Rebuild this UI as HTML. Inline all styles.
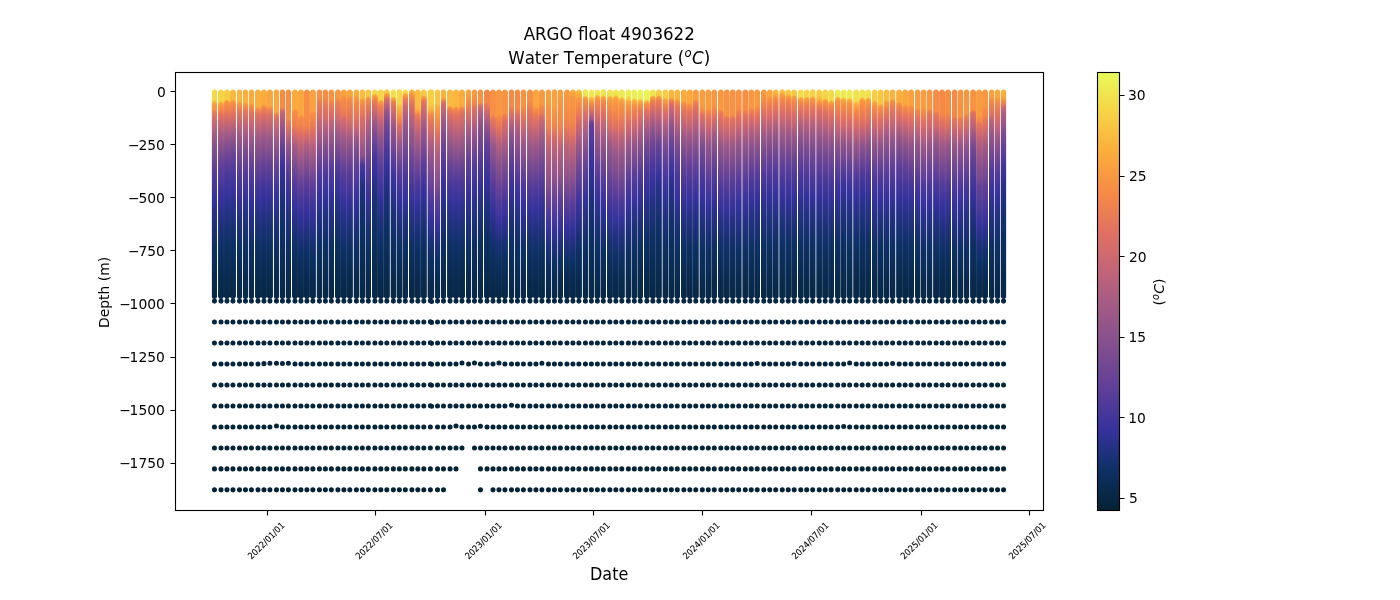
<!DOCTYPE html>
<html lang="en"><head><meta charset="utf-8"><title>ARGO float 4903622 - Water Temperature</title>
<style>html,body{margin:0;padding:0;background:#fff}body{width:1400px;height:600px;overflow:hidden}svg{display:block}text{font-family:'DejaVu Sans','Liberation Sans',sans-serif;fill:#000}</style></head><body>
<svg width="1400" height="600" viewBox="0 0 1400 600">
<rect width="1400" height="600" fill="#fff"/>
<defs>
<linearGradient id="g0" gradientUnits="userSpaceOnUse" x1="0" y1="89.38" x2="0" y2="299.1"><stop offset=".0006" stop-color="#f4d849"/><stop offset=".0483" stop-color="#f5d748"/><stop offset=".0622" stop-color="#fbad3c"/><stop offset=".0673" stop-color="#f99f40"/><stop offset=".0936" stop-color="#f79243"/><stop offset=".0977" stop-color="#f68b45"/><stop offset=".1126" stop-color="#e77958"/><stop offset=".1245" stop-color="#e17161"/><stop offset=".1365" stop-color="#d76d68"/><stop offset=".1723" stop-color="#c16479"/><stop offset=".2175" stop-color="#a15a86"/><stop offset=".3606" stop-color="#634197"/><stop offset=".4083" stop-color="#523b9a"/><stop offset=".5195" stop-color="#35329b"/><stop offset=".6228" stop-color="#21317f"/><stop offset=".7494" stop-color="#0d3064"/><stop offset=".9089" stop-color="#082a4e"/><stop offset="1" stop-color="#072845"/></linearGradient>
<linearGradient id="g1" gradientUnits="userSpaceOnUse" x1="0" y1="89.38" x2="0" y2="299.1"><stop offset=".0006" stop-color="#f5d547"/><stop offset=".056" stop-color="#f6d346"/><stop offset=".062" stop-color="#fbad3c"/><stop offset=".0628" stop-color="#faa93d"/><stop offset=".0742" stop-color="#f89841"/><stop offset=".0936" stop-color="#f48947"/><stop offset=".1222" stop-color="#e07161"/><stop offset=".1742" stop-color="#c16479"/><stop offset=".2254" stop-color="#9e5987"/><stop offset=".3129" stop-color="#754992"/><stop offset=".3606" stop-color="#614098"/><stop offset=".4559" stop-color="#45379a"/><stop offset=".5195" stop-color="#35329b"/><stop offset=".6228" stop-color="#21317f"/><stop offset=".7494" stop-color="#0d3064"/><stop offset=".9089" stop-color="#082a4e"/><stop offset="1" stop-color="#072845"/></linearGradient>
<linearGradient id="g2" gradientUnits="userSpaceOnUse" x1="0" y1="89.38" x2="0" y2="299.1"><stop offset=".0006" stop-color="#f7cd45"/><stop offset=".0475" stop-color="#f7cc44"/><stop offset=".0521" stop-color="#fbad3c"/><stop offset=".0544" stop-color="#f99f40"/><stop offset=".0659" stop-color="#f68d44"/><stop offset=".0888" stop-color="#f0834d"/><stop offset=".121" stop-color="#e17161"/><stop offset=".1698" stop-color="#c06479"/><stop offset=".2175" stop-color="#9d5987"/><stop offset=".3129" stop-color="#6c4594"/><stop offset=".3606" stop-color="#5a3d99"/><stop offset=".4083" stop-color="#4a389a"/><stop offset=".4978" stop-color="#35329b"/><stop offset=".5275" stop-color="#2e3292"/><stop offset=".6228" stop-color="#1e317b"/><stop offset=".7358" stop-color="#0d3064"/><stop offset=".9089" stop-color="#082a4d"/><stop offset="1" stop-color="#072845"/></linearGradient>
<linearGradient id="g3" gradientUnits="userSpaceOnUse" x1="0" y1="89.38" x2="0" y2="299.1"><stop offset=".0006" stop-color="#f9bb40"/><stop offset=".0461" stop-color="#f9b93f"/><stop offset=".05" stop-color="#fbad3c"/><stop offset=".0572" stop-color="#f89841"/><stop offset=".0686" stop-color="#f68b45"/><stop offset=".1173" stop-color="#e17161"/><stop offset=".1698" stop-color="#bc637b"/><stop offset=".2175" stop-color="#995788"/><stop offset=".2652" stop-color="#7c4c90"/><stop offset=".3129" stop-color="#684396"/><stop offset=".4083" stop-color="#48389a"/><stop offset=".4917" stop-color="#35329b"/><stop offset=".5275" stop-color="#2d3290"/><stop offset=".732" stop-color="#0d3064"/><stop offset=".9089" stop-color="#082a4d"/><stop offset="1" stop-color="#072845"/></linearGradient>
<linearGradient id="g4" gradientUnits="userSpaceOnUse" x1="0" y1="89.38" x2="0" y2="299.1"><stop offset=".0006" stop-color="#fab53e"/><stop offset=".0559" stop-color="#fab53e"/><stop offset=".0585" stop-color="#fbad3c"/><stop offset=".0666" stop-color="#f89742"/><stop offset=".078" stop-color="#f68b45"/><stop offset=".0983" stop-color="#e97b56"/><stop offset=".1222" stop-color="#de7063"/><stop offset=".1724" stop-color="#c16479"/><stop offset=".227" stop-color="#9e5987"/><stop offset=".3129" stop-color="#774a91"/><stop offset=".3835" stop-color="#5d3e99"/><stop offset=".4559" stop-color="#45379a"/><stop offset=".5195" stop-color="#35329b"/><stop offset=".6228" stop-color="#21317f"/><stop offset=".7494" stop-color="#0d3064"/><stop offset=".9089" stop-color="#082a4e"/><stop offset="1" stop-color="#072845"/></linearGradient>
<linearGradient id="g5" gradientUnits="userSpaceOnUse" x1="0" y1="89.38" x2="0" y2="299.1"><stop offset=".0006" stop-color="#fbb03d"/><stop offset=".061" stop-color="#fbaf3c"/><stop offset=".0711" stop-color="#f89542"/><stop offset=".0826" stop-color="#f68b45"/><stop offset=".0983" stop-color="#e97b56"/><stop offset=".1157" stop-color="#e17161"/><stop offset=".1722" stop-color="#c16479"/><stop offset=".2226" stop-color="#9e5987"/><stop offset=".3129" stop-color="#734892"/><stop offset=".3763" stop-color="#5d3e99"/><stop offset=".4559" stop-color="#44369a"/><stop offset=".5145" stop-color="#35329b"/><stop offset=".6228" stop-color="#20317e"/><stop offset=".7462" stop-color="#0d3064"/><stop offset=".8135" stop-color="#0b2d59"/><stop offset="1" stop-color="#072845"/></linearGradient>
<linearGradient id="g6" gradientUnits="userSpaceOnUse" x1="0" y1="89.38" x2="0" y2="299.1"><stop offset=".0006" stop-color="#fbac3c"/><stop offset=".0637" stop-color="#fbaa3d"/><stop offset=".0733" stop-color="#f79443"/><stop offset=".0848" stop-color="#f68b45"/><stop offset=".0983" stop-color="#ea7c55"/><stop offset=".1222" stop-color="#de7063"/><stop offset=".1763" stop-color="#c16479"/><stop offset=".2175" stop-color="#a45b85"/><stop offset=".3129" stop-color="#774a91"/><stop offset=".3835" stop-color="#5d3e99"/><stop offset=".4559" stop-color="#45379a"/><stop offset=".5195" stop-color="#35329b"/><stop offset=".6228" stop-color="#21317f"/><stop offset=".7494" stop-color="#0d3064"/><stop offset=".9089" stop-color="#082a4e"/><stop offset="1" stop-color="#072845"/></linearGradient>
<linearGradient id="g7" gradientUnits="userSpaceOnUse" x1="0" y1="89.38" x2="0" y2="299.1"><stop offset=".0006" stop-color="#fbaf3c"/><stop offset=".0805" stop-color="#fbad3c"/><stop offset=".0922" stop-color="#f68b45"/><stop offset=".1222" stop-color="#e07161"/><stop offset=".1769" stop-color="#c16479"/><stop offset=".2345" stop-color="#9e5987"/><stop offset=".2652" stop-color="#8f538b"/><stop offset=".3606" stop-color="#684396"/><stop offset=".4559" stop-color="#47379a"/><stop offset=".5275" stop-color="#34329a"/><stop offset=".6228" stop-color="#223180"/><stop offset=".7524" stop-color="#0d3064"/><stop offset=".9089" stop-color="#082a4e"/><stop offset="1" stop-color="#072845"/></linearGradient>
<linearGradient id="g8" gradientUnits="userSpaceOnUse" x1="0" y1="89.38" x2="0" y2="299.1"><stop offset=".0006" stop-color="#fbaa3d"/><stop offset=".07" stop-color="#faa93d"/><stop offset=".081" stop-color="#f58a46"/><stop offset=".0924" stop-color="#ed8051"/><stop offset=".114" stop-color="#e17161"/><stop offset=".1222" stop-color="#da6e66"/><stop offset=".1698" stop-color="#bd637b"/><stop offset=".2203" stop-color="#9e5987"/><stop offset=".3816" stop-color="#5d3e99"/><stop offset=".4559" stop-color="#42369a"/><stop offset=".5092" stop-color="#35329b"/><stop offset=".6228" stop-color="#1f317d"/><stop offset=".7428" stop-color="#0d3064"/><stop offset=".9089" stop-color="#082a4d"/><stop offset="1" stop-color="#072845"/></linearGradient>
<linearGradient id="g9" gradientUnits="userSpaceOnUse" x1="0" y1="89.38" x2="0" y2="299.1"><stop offset=".0006" stop-color="#faa53e"/><stop offset=".0785" stop-color="#faa43f"/><stop offset=".0876" stop-color="#f68b45"/><stop offset=".0892" stop-color="#f38849"/><stop offset=".1175" stop-color="#e17161"/><stop offset=".1222" stop-color="#dc6f64"/><stop offset=".1722" stop-color="#c16479"/><stop offset=".223" stop-color="#9e5987"/><stop offset=".3606" stop-color="#644197"/><stop offset=".4559" stop-color="#42369a"/><stop offset=".5092" stop-color="#35329b"/><stop offset=".6228" stop-color="#1f317d"/><stop offset=".7428" stop-color="#0d3064"/><stop offset=".9089" stop-color="#082a4d"/><stop offset="1" stop-color="#072845"/></linearGradient>
<linearGradient id="g10" gradientUnits="userSpaceOnUse" x1="0" y1="89.38" x2="0" y2="299.1"><stop offset=".0006" stop-color="#faa63e"/><stop offset=".1063" stop-color="#faa53e"/><stop offset=".1146" stop-color="#f68b45"/><stop offset=".1183" stop-color="#ef824f"/><stop offset=".1359" stop-color="#e17161"/><stop offset=".146" stop-color="#d76d68"/><stop offset=".1862" stop-color="#c16479"/><stop offset=".2442" stop-color="#9e5987"/><stop offset=".2652" stop-color="#93558a"/><stop offset=".3606" stop-color="#694495"/><stop offset=".4559" stop-color="#45379a"/><stop offset=".5195" stop-color="#35329b"/><stop offset=".6228" stop-color="#21317f"/><stop offset=".7494" stop-color="#0d3064"/><stop offset=".9089" stop-color="#082a4e"/><stop offset="1" stop-color="#072845"/></linearGradient>
<linearGradient id="g11" gradientUnits="userSpaceOnUse" x1="0" y1="89.38" x2="0" y2="299.1"><stop offset=".0006" stop-color="#f68d44"/><stop offset=".0853" stop-color="#f68b45"/><stop offset=".0951" stop-color="#e17161"/><stop offset=".0985" stop-color="#d66d69"/><stop offset=".11" stop-color="#c46577"/><stop offset=".1222" stop-color="#b9617c"/><stop offset=".2652" stop-color="#654296"/><stop offset=".3606" stop-color="#3a339b"/><stop offset=".381" stop-color="#35329b"/><stop offset=".4083" stop-color="#2f3292"/><stop offset=".5275" stop-color="#1c3178"/><stop offset=".6665" stop-color="#0d3064"/><stop offset="1" stop-color="#072845"/></linearGradient>
<linearGradient id="g12" gradientUnits="userSpaceOnUse" x1="0" y1="89.38" x2="0" y2="299.1"><stop offset=".0006" stop-color="#f78f44"/><stop offset=".1401" stop-color="#f68b45"/><stop offset=".148" stop-color="#ed8051"/><stop offset=".1595" stop-color="#e97b56"/><stop offset=".1748" stop-color="#e17161"/><stop offset=".2181" stop-color="#c16479"/><stop offset=".2652" stop-color="#985789"/><stop offset=".3606" stop-color="#684396"/><stop offset=".4083" stop-color="#523b9a"/><stop offset=".4559" stop-color="#42369a"/><stop offset=".5092" stop-color="#35329b"/><stop offset=".6228" stop-color="#1f317d"/><stop offset=".7428" stop-color="#0d3064"/><stop offset=".9089" stop-color="#082a4d"/><stop offset="1" stop-color="#072845"/></linearGradient>
<linearGradient id="g13" gradientUnits="userSpaceOnUse" x1="0" y1="89.38" x2="0" y2="299.1"><stop offset=".0006" stop-color="#fbaa3d"/><stop offset=".0912" stop-color="#faa93d"/><stop offset=".1007" stop-color="#f79443"/><stop offset=".1121" stop-color="#f68b45"/><stop offset=".1698" stop-color="#ed8051"/><stop offset=".1955" stop-color="#e17161"/><stop offset=".2383" stop-color="#c16479"/><stop offset=".2652" stop-color="#ab5d82"/><stop offset=".4083" stop-color="#654296"/><stop offset=".4559" stop-color="#523b9a"/><stop offset=".5616" stop-color="#35329b"/><stop offset=".6228" stop-color="#273188"/><stop offset=".7182" stop-color="#15306f"/><stop offset=".771" stop-color="#0d3064"/><stop offset=".9089" stop-color="#092a4e"/><stop offset="1" stop-color="#072845"/></linearGradient>
<linearGradient id="g14" gradientUnits="userSpaceOnUse" x1="0" y1="89.38" x2="0" y2="299.1"><stop offset=".0006" stop-color="#faa83d"/><stop offset=".1196" stop-color="#faa63e"/><stop offset=".1294" stop-color="#f78f44"/><stop offset=".1408" stop-color="#f2874a"/><stop offset=".1698" stop-color="#ef834e"/><stop offset=".2052" stop-color="#e17161"/><stop offset=".2652" stop-color="#bd637b"/><stop offset=".3247" stop-color="#9e5987"/><stop offset=".3606" stop-color="#8f538b"/><stop offset=".4559" stop-color="#614098"/><stop offset=".5275" stop-color="#49389a"/><stop offset=".6016" stop-color="#35329b"/><stop offset=".7182" stop-color="#1a3176"/><stop offset=".791" stop-color="#0d3064"/><stop offset=".9089" stop-color="#092b4f"/><stop offset="1" stop-color="#072845"/></linearGradient>
<linearGradient id="g15" gradientUnits="userSpaceOnUse" x1="0" y1="89.38" x2="0" y2="299.1"><stop offset=".0006" stop-color="#f78f44"/><stop offset=".1079" stop-color="#f68b45"/><stop offset=".1698" stop-color="#f2864b"/><stop offset=".2049" stop-color="#e17161"/><stop offset=".2471" stop-color="#c16479"/><stop offset=".2652" stop-color="#b25f7f"/><stop offset=".3129" stop-color="#985789"/><stop offset=".4083" stop-color="#6c4594"/><stop offset=".4559" stop-color="#5a3d99"/><stop offset=".5275" stop-color="#43369a"/><stop offset=".5834" stop-color="#35329b"/><stop offset=".7182" stop-color="#173172"/><stop offset=".7818" stop-color="#0d3064"/><stop offset=".9089" stop-color="#092a4f"/><stop offset="1" stop-color="#072845"/></linearGradient>
<linearGradient id="g16" gradientUnits="userSpaceOnUse" x1="0" y1="89.38" x2="0" y2="299.1"><stop offset=".0006" stop-color="#f9a13f"/><stop offset=".1014" stop-color="#f99f40"/><stop offset=".1098" stop-color="#f79143"/><stop offset=".1213" stop-color="#f68b45"/><stop offset=".1412" stop-color="#f48947"/><stop offset=".1508" stop-color="#ed8051"/><stop offset=".1698" stop-color="#eb7d54"/><stop offset=".1946" stop-color="#e17161"/><stop offset=".2513" stop-color="#c16479"/><stop offset=".3159" stop-color="#9e5987"/><stop offset=".3606" stop-color="#8d528b"/><stop offset=".4083" stop-color="#734892"/><stop offset=".462" stop-color="#5d3e99"/><stop offset=".5275" stop-color="#46379a"/><stop offset=".5947" stop-color="#35329b"/><stop offset=".7182" stop-color="#193174"/><stop offset=".7875" stop-color="#0d3064"/><stop offset=".9089" stop-color="#092a4f"/><stop offset="1" stop-color="#072845"/></linearGradient>
<linearGradient id="g17" gradientUnits="userSpaceOnUse" x1="0" y1="89.38" x2="0" y2="299.1"><stop offset=".0006" stop-color="#f79044"/><stop offset=".0316" stop-color="#f78f44"/><stop offset=".0373" stop-color="#f68b45"/><stop offset=".0745" stop-color="#e7785a"/><stop offset=".1003" stop-color="#e17161"/><stop offset=".1222" stop-color="#da6e66"/><stop offset=".1698" stop-color="#bd637b"/><stop offset=".229" stop-color="#9e5987"/><stop offset=".3129" stop-color="#754992"/><stop offset=".3737" stop-color="#5d3e99"/><stop offset=".4083" stop-color="#4f3a9a"/><stop offset=".5092" stop-color="#35329b"/><stop offset=".6228" stop-color="#1f317d"/><stop offset=".7428" stop-color="#0d3064"/><stop offset=".9089" stop-color="#082a4d"/><stop offset="1" stop-color="#072845"/></linearGradient>
<linearGradient id="g18" gradientUnits="userSpaceOnUse" x1="0" y1="89.38" x2="0" y2="299.1"><stop offset=".0006" stop-color="#f68d44"/><stop offset=".0411" stop-color="#f68b45"/><stop offset=".0745" stop-color="#e77958"/><stop offset=".102" stop-color="#e17161"/><stop offset=".1222" stop-color="#da6e66"/><stop offset=".146" stop-color="#cd6970"/><stop offset=".1698" stop-color="#ba627c"/><stop offset=".2175" stop-color="#9e5987"/><stop offset=".3662" stop-color="#5d3e99"/><stop offset=".4083" stop-color="#4d399a"/><stop offset=".4978" stop-color="#35329b"/><stop offset=".5275" stop-color="#2e3292"/><stop offset=".6228" stop-color="#1e317b"/><stop offset=".7358" stop-color="#0d3064"/><stop offset=".9089" stop-color="#082a4d"/><stop offset="1" stop-color="#072845"/></linearGradient>
<linearGradient id="g19" gradientUnits="userSpaceOnUse" x1="0" y1="89.38" x2="0" y2="299.1"><stop offset=".0006" stop-color="#f79343"/><stop offset=".0459" stop-color="#f79044"/><stop offset=".0516" stop-color="#f68b45"/><stop offset=".0745" stop-color="#e97b56"/><stop offset=".1011" stop-color="#e17161"/><stop offset=".1603" stop-color="#c16479"/><stop offset=".2175" stop-color="#9e5987"/><stop offset=".3662" stop-color="#5d3e99"/><stop offset=".4083" stop-color="#4d399a"/><stop offset=".4978" stop-color="#35329b"/><stop offset=".5275" stop-color="#2e3292"/><stop offset=".6228" stop-color="#1e317b"/><stop offset=".7358" stop-color="#0d3064"/><stop offset=".9089" stop-color="#082a4d"/><stop offset="1" stop-color="#072845"/></linearGradient>
<linearGradient id="g20" gradientUnits="userSpaceOnUse" x1="0" y1="89.38" x2="0" y2="299.1"><stop offset=".0006" stop-color="#f89a41"/><stop offset=".0363" stop-color="#f89841"/><stop offset=".048" stop-color="#f68b45"/><stop offset=".0602" stop-color="#ed8051"/><stop offset=".1043" stop-color="#e17161"/><stop offset=".146" stop-color="#ca6872"/><stop offset=".1698" stop-color="#b7617d"/><stop offset=".2175" stop-color="#995788"/><stop offset=".3606" stop-color="#573c99"/><stop offset=".4083" stop-color="#47379a"/><stop offset=".4785" stop-color="#35329b"/><stop offset=".5275" stop-color="#2a318d"/><stop offset=".6228" stop-color="#1b3177"/><stop offset=".724" stop-color="#0d3064"/><stop offset=".9089" stop-color="#082a4d"/><stop offset="1" stop-color="#072845"/></linearGradient>
<linearGradient id="g21" gradientUnits="userSpaceOnUse" x1="0" y1="89.38" x2="0" y2="299.1"><stop offset=".0006" stop-color="#f9a13f"/><stop offset=".0287" stop-color="#f99f40"/><stop offset=".0371" stop-color="#f79143"/><stop offset=".0485" stop-color="#f68b45"/><stop offset=".0983" stop-color="#ed8051"/><stop offset=".1265" stop-color="#e5765c"/><stop offset=".1301" stop-color="#e17161"/><stop offset=".1348" stop-color="#d96e67"/><stop offset=".1787" stop-color="#c16479"/><stop offset=".2175" stop-color="#a75c83"/><stop offset=".3606" stop-color="#694495"/><stop offset=".4083" stop-color="#573c99"/><stop offset=".5354" stop-color="#35329b"/><stop offset=".6228" stop-color="#233183"/><stop offset=".7582" stop-color="#0d3064"/><stop offset=".9089" stop-color="#092a4e"/><stop offset="1" stop-color="#072845"/></linearGradient>
<linearGradient id="g22" gradientUnits="userSpaceOnUse" x1="0" y1="89.38" x2="0" y2="299.1"><stop offset=".0006" stop-color="#faa83d"/><stop offset=".0282" stop-color="#faa63e"/><stop offset=".0374" stop-color="#f79343"/><stop offset=".0488" stop-color="#f68b45"/><stop offset=".1222" stop-color="#e5765c"/><stop offset=".1698" stop-color="#cd6970"/><stop offset=".1871" stop-color="#c16479"/><stop offset=".2175" stop-color="#aa5d82"/><stop offset=".2652" stop-color="#8e538b"/><stop offset=".3606" stop-color="#674296"/><stop offset=".4083" stop-color="#573c99"/><stop offset=".5354" stop-color="#35329b"/><stop offset=".6228" stop-color="#233183"/><stop offset=".7582" stop-color="#0d3064"/><stop offset=".9089" stop-color="#092a4e"/><stop offset="1" stop-color="#072845"/></linearGradient>
<linearGradient id="g23" gradientUnits="userSpaceOnUse" x1="0" y1="89.38" x2="0" y2="299.1"><stop offset=".0006" stop-color="#fbaf3c"/><stop offset=".0259" stop-color="#fbad3c"/><stop offset=".035" stop-color="#f89a41"/><stop offset=".0599" stop-color="#f68b45"/><stop offset=".0745" stop-color="#f2864b"/><stop offset=".1222" stop-color="#e77958"/><stop offset=".146" stop-color="#de7063"/><stop offset=".1698" stop-color="#d16a6d"/><stop offset=".1896" stop-color="#c16479"/><stop offset=".2175" stop-color="#a85c83"/><stop offset=".2652" stop-color="#89518c"/><stop offset=".3606" stop-color="#634197"/><stop offset=".5275" stop-color="#34329a"/><stop offset=".6228" stop-color="#223180"/><stop offset=".7524" stop-color="#0d3064"/><stop offset=".9089" stop-color="#082a4e"/><stop offset="1" stop-color="#072845"/></linearGradient>
<linearGradient id="g24" gradientUnits="userSpaceOnUse" x1="0" y1="89.38" x2="0" y2="299.1"><stop offset=".0006" stop-color="#f9be40"/><stop offset=".0368" stop-color="#f9bd40"/><stop offset=".042" stop-color="#fbad3c"/><stop offset=".0475" stop-color="#f99e40"/><stop offset=".0664" stop-color="#f68b45"/><stop offset=".0745" stop-color="#f2864b"/><stop offset=".1222" stop-color="#e5765c"/><stop offset=".1317" stop-color="#da6e66"/><stop offset=".1698" stop-color="#d06a6e"/><stop offset=".2175" stop-color="#ba627c"/><stop offset=".271" stop-color="#9e5987"/><stop offset=".3129" stop-color="#8c528b"/><stop offset=".3473" stop-color="#5d3e99"/><stop offset=".3606" stop-color="#47379a"/><stop offset=".4009" stop-color="#35329b"/><stop offset=".4559" stop-color="#223180"/><stop offset=".5275" stop-color="#183173"/><stop offset=".6444" stop-color="#0d3064"/><stop offset=".9089" stop-color="#082a4b"/><stop offset="1" stop-color="#072845"/></linearGradient>
<linearGradient id="g25" gradientUnits="userSpaceOnUse" x1="0" y1="89.38" x2="0" y2="299.1"><stop offset=".0006" stop-color="#f8c643"/><stop offset=".0316" stop-color="#f8c442"/><stop offset=".0353" stop-color="#fbad3c"/><stop offset=".0384" stop-color="#f89b41"/><stop offset=".0499" stop-color="#f68b45"/><stop offset=".0745" stop-color="#e97b56"/><stop offset=".0983" stop-color="#e07161"/><stop offset=".146" stop-color="#c06479"/><stop offset=".2175" stop-color="#9a5788"/><stop offset=".3606" stop-color="#614098"/><stop offset=".4559" stop-color="#45379a"/><stop offset=".5195" stop-color="#35329b"/><stop offset=".6228" stop-color="#21317f"/><stop offset=".7494" stop-color="#0d3064"/><stop offset=".9089" stop-color="#082a4e"/><stop offset="1" stop-color="#072845"/></linearGradient>
<linearGradient id="g26" gradientUnits="userSpaceOnUse" x1="0" y1="89.38" x2="0" y2="299.1"><stop offset=".0006" stop-color="#f3da4a"/><stop offset=".0197" stop-color="#f4d849"/><stop offset=".0254" stop-color="#fbad3c"/><stop offset=".0265" stop-color="#faa53e"/><stop offset=".042" stop-color="#f68b45"/><stop offset=".0506" stop-color="#ed8051"/><stop offset=".0745" stop-color="#e07161"/><stop offset=".1129" stop-color="#c16479"/><stop offset=".1538" stop-color="#9e5987"/><stop offset=".2652" stop-color="#614098"/><stop offset=".3129" stop-color="#4a389a"/><stop offset=".381" stop-color="#35329b"/><stop offset=".4559" stop-color="#253185"/><stop offset=".5275" stop-color="#1b3177"/><stop offset=".6596" stop-color="#0d3064"/><stop offset="1" stop-color="#072845"/></linearGradient>
<linearGradient id="g27" gradientUnits="userSpaceOnUse" x1="0" y1="89.38" x2="0" y2="299.1"><stop offset=".0006" stop-color="#f5d547"/><stop offset=".0483" stop-color="#f6d346"/><stop offset=".0537" stop-color="#fbad3c"/><stop offset=".0551" stop-color="#faa43e"/><stop offset=".0704" stop-color="#f68b45"/><stop offset=".0745" stop-color="#f2864b"/><stop offset=".1121" stop-color="#e17161"/><stop offset=".1544" stop-color="#c16479"/><stop offset=".2175" stop-color="#995788"/><stop offset=".3129" stop-color="#6f4694"/><stop offset=".3668" stop-color="#5d3e99"/><stop offset=".4559" stop-color="#42369a"/><stop offset=".5092" stop-color="#35329b"/><stop offset=".6228" stop-color="#1f317d"/><stop offset=".7428" stop-color="#0d3064"/><stop offset=".9089" stop-color="#082a4d"/><stop offset="1" stop-color="#072845"/></linearGradient>
<linearGradient id="g28" gradientUnits="userSpaceOnUse" x1="0" y1="89.38" x2="0" y2="299.1"><stop offset=".0006" stop-color="#f7ca44"/><stop offset=".0149" stop-color="#f7c943"/><stop offset=".0186" stop-color="#fbad3c"/><stop offset=".0217" stop-color="#f89842"/><stop offset=".0291" stop-color="#f68b45"/><stop offset=".0332" stop-color="#f2864b"/><stop offset=".0411" stop-color="#e07161"/><stop offset=".0654" stop-color="#c16479"/><stop offset=".0705" stop-color="#b8617d"/><stop offset=".0819" stop-color="#b25f7f"/><stop offset=".0983" stop-color="#9a5788"/><stop offset=".1222" stop-color="#89518c"/><stop offset=".1698" stop-color="#6f4694"/><stop offset=".2652" stop-color="#523b9a"/><stop offset=".3129" stop-color="#42369a"/><stop offset=".3685" stop-color="#35329b"/><stop offset=".4559" stop-color="#253185"/><stop offset=".5275" stop-color="#1b3177"/><stop offset=".6596" stop-color="#0d3064"/><stop offset="1" stop-color="#072845"/></linearGradient>
<linearGradient id="g29" gradientUnits="userSpaceOnUse" x1="0" y1="89.38" x2="0" y2="299.1"><stop offset=".0006" stop-color="#f2df4c"/><stop offset=".034" stop-color="#f2dd4b"/><stop offset=".0352" stop-color="#f6d346"/><stop offset=".0399" stop-color="#fbad3c"/><stop offset=".0408" stop-color="#faa73e"/><stop offset=".0523" stop-color="#f79243"/><stop offset=".0548" stop-color="#f68b45"/><stop offset=".0602" stop-color="#ed8051"/><stop offset=".0785" stop-color="#e17161"/><stop offset=".1222" stop-color="#c06479"/><stop offset=".1698" stop-color="#9d5887"/><stop offset=".326" stop-color="#5d3e99"/><stop offset=".4083" stop-color="#3f359b"/><stop offset=".444" stop-color="#35329b"/><stop offset=".5275" stop-color="#243184"/><stop offset=".7038" stop-color="#0d3064"/><stop offset=".9089" stop-color="#082a4c"/><stop offset="1" stop-color="#072845"/></linearGradient>
<linearGradient id="g30" gradientUnits="userSpaceOnUse" x1="0" y1="89.38" x2="0" y2="299.1"><stop offset=".0006" stop-color="#f4d849"/><stop offset=".0649" stop-color="#f5d748"/><stop offset=".0745" stop-color="#f8c442"/><stop offset=".0985" stop-color="#fbad3c"/><stop offset=".1222" stop-color="#f89841"/><stop offset=".1408" stop-color="#f68b45"/><stop offset=".1492" stop-color="#ed8051"/><stop offset=".1606" stop-color="#e97b56"/><stop offset=".1698" stop-color="#de7063"/><stop offset=".2175" stop-color="#ba627c"/><stop offset=".2652" stop-color="#985789"/><stop offset=".3606" stop-color="#684396"/><stop offset=".4083" stop-color="#553c99"/><stop offset=".5275" stop-color="#34329a"/><stop offset=".6228" stop-color="#223180"/><stop offset=".7524" stop-color="#0d3064"/><stop offset=".9089" stop-color="#082a4e"/><stop offset="1" stop-color="#072845"/></linearGradient>
<linearGradient id="g31" gradientUnits="userSpaceOnUse" x1="0" y1="89.38" x2="0" y2="299.1"><stop offset=".0006" stop-color="#f3da4a"/><stop offset=".0149" stop-color="#f4d849"/><stop offset=".0206" stop-color="#fbad3c"/><stop offset=".0217" stop-color="#faa53e"/><stop offset=".0332" stop-color="#f79243"/><stop offset=".0357" stop-color="#f68b45"/><stop offset=".0411" stop-color="#ed8051"/><stop offset=".0602" stop-color="#e07161"/><stop offset=".0745" stop-color="#d16a6d"/><stop offset=".0983" stop-color="#c06479"/><stop offset=".1698" stop-color="#965689"/><stop offset=".2652" stop-color="#794b90"/><stop offset=".3129" stop-color="#684396"/><stop offset=".4083" stop-color="#4c399a"/><stop offset=".5092" stop-color="#35329b"/><stop offset=".6228" stop-color="#1f317d"/><stop offset=".7428" stop-color="#0d3064"/><stop offset=".9089" stop-color="#082a4d"/><stop offset="1" stop-color="#072845"/></linearGradient>
<linearGradient id="g32" gradientUnits="userSpaceOnUse" x1="0" y1="89.38" x2="0" y2="299.1"><stop offset=".0006" stop-color="#fbaf3c"/><stop offset=".0111" stop-color="#fbad3c"/><stop offset=".021" stop-color="#f79542"/><stop offset=".0324" stop-color="#f68b45"/><stop offset=".0745" stop-color="#e07161"/><stop offset=".1274" stop-color="#c16479"/><stop offset=".2175" stop-color="#965689"/><stop offset=".2652" stop-color="#89518c"/><stop offset=".3129" stop-color="#754992"/><stop offset=".4083" stop-color="#553c99"/><stop offset=".5275" stop-color="#34329a"/><stop offset=".6228" stop-color="#223180"/><stop offset=".7524" stop-color="#0d3064"/><stop offset=".9089" stop-color="#082a4e"/><stop offset="1" stop-color="#072845"/></linearGradient>
<linearGradient id="g33" gradientUnits="userSpaceOnUse" x1="0" y1="89.38" x2="0" y2="299.1"><stop offset=".0006" stop-color="#f9be40"/><stop offset=".0745" stop-color="#f9bd40"/><stop offset=".0999" stop-color="#fbaa3d"/><stop offset=".1146" stop-color="#f68b45"/><stop offset=".1222" stop-color="#ed8051"/><stop offset=".146" stop-color="#e07161"/><stop offset=".1997" stop-color="#c16479"/><stop offset=".2652" stop-color="#9b5888"/><stop offset=".4134" stop-color="#5d3e99"/><stop offset=".4559" stop-color="#4c399a"/><stop offset=".5411" stop-color="#35329b"/><stop offset=".7182" stop-color="#13306c"/><stop offset=".761" stop-color="#0d3064"/><stop offset=".9089" stop-color="#092a4e"/><stop offset="1" stop-color="#072845"/></linearGradient>
<linearGradient id="g34" gradientUnits="userSpaceOnUse" x1="0" y1="89.38" x2="0" y2="299.1"><stop offset=".0006" stop-color="#f7ca44"/><stop offset=".0268" stop-color="#f7c943"/><stop offset=".0309" stop-color="#fbad3c"/><stop offset=".0337" stop-color="#f99c40"/><stop offset=".0451" stop-color="#f68b45"/><stop offset=".0506" stop-color="#e97b56"/><stop offset=".0657" stop-color="#e17161"/><stop offset=".0983" stop-color="#ca6872"/><stop offset=".1222" stop-color="#bd637b"/><stop offset=".176" stop-color="#9e5987"/><stop offset=".3606" stop-color="#5a3d99"/><stop offset=".4083" stop-color="#4a389a"/><stop offset=".4917" stop-color="#35329b"/><stop offset=".5275" stop-color="#2d3290"/><stop offset=".732" stop-color="#0d3064"/><stop offset=".9089" stop-color="#082a4d"/><stop offset="1" stop-color="#072845"/></linearGradient>
<linearGradient id="g35" gradientUnits="userSpaceOnUse" x1="0" y1="89.38" x2="0" y2="299.1"><stop offset=".0006" stop-color="#f7cf45"/><stop offset=".0649" stop-color="#f7cd45"/><stop offset=".0998" stop-color="#fbad3c"/><stop offset=".1112" stop-color="#f79243"/><stop offset=".1165" stop-color="#f68b45"/><stop offset=".1222" stop-color="#f2864b"/><stop offset=".1698" stop-color="#e07161"/><stop offset=".2275" stop-color="#c16479"/><stop offset=".2652" stop-color="#ab5d82"/><stop offset=".3129" stop-color="#985789"/><stop offset=".4909" stop-color="#5d3e99"/><stop offset=".5275" stop-color="#4f3a9a"/><stop offset=".6172" stop-color="#35329b"/><stop offset=".7182" stop-color="#1c3179"/><stop offset=".8135" stop-color="#0c2f61"/><stop offset=".9089" stop-color="#092b50"/><stop offset="1" stop-color="#072845"/></linearGradient>
<linearGradient id="g36" gradientUnits="userSpaceOnUse" x1="0" y1="89.38" x2="0" y2="299.1"><stop offset=".0006" stop-color="#f7cf45"/><stop offset=".0649" stop-color="#f7cd45"/><stop offset=".0998" stop-color="#fbad3c"/><stop offset=".1112" stop-color="#f79243"/><stop offset=".1165" stop-color="#f68b45"/><stop offset=".1222" stop-color="#f2864b"/><stop offset=".1698" stop-color="#e07161"/><stop offset=".2275" stop-color="#c16479"/><stop offset=".2652" stop-color="#ab5d82"/><stop offset=".3129" stop-color="#985789"/><stop offset=".4909" stop-color="#5d3e99"/><stop offset=".5275" stop-color="#4f3a9a"/><stop offset=".6172" stop-color="#35329b"/><stop offset=".7182" stop-color="#1c3179"/><stop offset=".8135" stop-color="#0c2f61"/><stop offset=".9089" stop-color="#092b50"/><stop offset="1" stop-color="#072845"/></linearGradient>
<linearGradient id="g37" gradientUnits="userSpaceOnUse" x1="0" y1="89.38" x2="0" y2="299.1"><stop offset=".0006" stop-color="#f8c643"/><stop offset=".0649" stop-color="#f8c442"/><stop offset=".0745" stop-color="#fab53e"/><stop offset=".0866" stop-color="#fbad3c"/><stop offset=".1222" stop-color="#f89841"/><stop offset=".1544" stop-color="#f68b45"/><stop offset=".1698" stop-color="#f2864b"/><stop offset=".2175" stop-color="#e07062"/><stop offset=".2652" stop-color="#c66675"/><stop offset=".3642" stop-color="#9e5987"/><stop offset=".4083" stop-color="#90548b"/><stop offset=".5275" stop-color="#604098"/><stop offset=".6587" stop-color="#35329b"/><stop offset=".7182" stop-color="#243183"/><stop offset=".8188" stop-color="#0d3064"/><stop offset=".9089" stop-color="#092b51"/><stop offset="1" stop-color="#072845"/></linearGradient>
<linearGradient id="g38" gradientUnits="userSpaceOnUse" x1="0" y1="89.38" x2="0" y2="299.1"><stop offset=".0006" stop-color="#fab33e"/><stop offset=".0384" stop-color="#fab23d"/><stop offset=".0396" stop-color="#fbad3c"/><stop offset=".0487" stop-color="#f68b45"/><stop offset=".0534" stop-color="#eb7e54"/><stop offset=".0612" stop-color="#e17161"/><stop offset=".0648" stop-color="#da6e66"/><stop offset=".0745" stop-color="#cd6970"/><stop offset=".0983" stop-color="#c06479"/><stop offset=".1505" stop-color="#9e5987"/><stop offset=".1698" stop-color="#94558a"/><stop offset=".2652" stop-color="#6f4694"/><stop offset=".3191" stop-color="#5d3e99"/><stop offset=".4083" stop-color="#42369a"/><stop offset=".4639" stop-color="#35329b"/><stop offset=".5275" stop-color="#283189"/><stop offset=".7182" stop-color="#0d3064"/><stop offset=".9089" stop-color="#082a4d"/><stop offset="1" stop-color="#072845"/></linearGradient>
<linearGradient id="g39" gradientUnits="userSpaceOnUse" x1="0" y1="89.38" x2="0" y2="299.1"><stop offset=".0006" stop-color="#f9b93f"/><stop offset=".0752" stop-color="#fab83f"/><stop offset=".0781" stop-color="#fbad3c"/><stop offset=".0885" stop-color="#f58a46"/><stop offset=".1" stop-color="#e97b56"/><stop offset=".114" stop-color="#e17161"/><stop offset=".1222" stop-color="#da6e66"/><stop offset=".1698" stop-color="#c06479"/><stop offset=".2351" stop-color="#9e5987"/><stop offset=".3606" stop-color="#684396"/><stop offset=".4559" stop-color="#47379a"/><stop offset=".5275" stop-color="#34329a"/><stop offset=".6228" stop-color="#223180"/><stop offset=".7524" stop-color="#0d3064"/><stop offset=".9089" stop-color="#082a4e"/><stop offset="1" stop-color="#072845"/></linearGradient>
<linearGradient id="g40" gradientUnits="userSpaceOnUse" x1="0" y1="89.38" x2="0" y2="299.1"><stop offset=".0006" stop-color="#fab63e"/><stop offset=".0783" stop-color="#fab53e"/><stop offset=".0805" stop-color="#fbad3c"/><stop offset=".0905" stop-color="#f68d44"/><stop offset=".1019" stop-color="#ed8051"/><stop offset=".1281" stop-color="#e17161"/><stop offset=".1929" stop-color="#c16479"/><stop offset=".2652" stop-color="#985789"/><stop offset=".3129" stop-color="#87508d"/><stop offset=".3606" stop-color="#6f4694"/><stop offset=".4083" stop-color="#5c3e99"/><stop offset=".4559" stop-color="#4a389a"/><stop offset=".5354" stop-color="#35329b"/><stop offset=".6228" stop-color="#233183"/><stop offset=".7582" stop-color="#0d3064"/><stop offset=".9089" stop-color="#092a4e"/><stop offset="1" stop-color="#072845"/></linearGradient>
<linearGradient id="g41" gradientUnits="userSpaceOnUse" x1="0" y1="89.38" x2="0" y2="299.1"><stop offset=".0006" stop-color="#fbac3c"/><stop offset=".0761" stop-color="#fbaa3d"/><stop offset=".0863" stop-color="#f68b45"/><stop offset=".088" stop-color="#f38749"/><stop offset=".0995" stop-color="#e97b56"/><stop offset=".1222" stop-color="#de7063"/><stop offset=".181" stop-color="#c16479"/><stop offset=".2652" stop-color="#965689"/><stop offset=".3606" stop-color="#6c4594"/><stop offset=".4083" stop-color="#5a3d99"/><stop offset=".4559" stop-color="#4a389a"/><stop offset=".5354" stop-color="#35329b"/><stop offset=".6228" stop-color="#233183"/><stop offset=".7582" stop-color="#0d3064"/><stop offset=".9089" stop-color="#092a4e"/><stop offset="1" stop-color="#072845"/></linearGradient>
<linearGradient id="g42" gradientUnits="userSpaceOnUse" x1="0" y1="89.38" x2="0" y2="299.1"><stop offset=".0006" stop-color="#f9a13f"/><stop offset=".0268" stop-color="#f99f40"/><stop offset=".0573" stop-color="#f68b45"/><stop offset=".0745" stop-color="#f0834d"/><stop offset=".1091" stop-color="#e17161"/><stop offset=".1592" stop-color="#c16479"/><stop offset=".2175" stop-color="#9b5888"/><stop offset=".2767" stop-color="#7e4d8f"/><stop offset=".3129" stop-color="#6f4694"/><stop offset=".3668" stop-color="#5d3e99"/><stop offset=".4559" stop-color="#42369a"/><stop offset=".5092" stop-color="#35329b"/><stop offset=".6228" stop-color="#1f317d"/><stop offset=".7428" stop-color="#0d3064"/><stop offset=".9089" stop-color="#082a4d"/><stop offset="1" stop-color="#072845"/></linearGradient>
<linearGradient id="g43" gradientUnits="userSpaceOnUse" x1="0" y1="89.38" x2="0" y2="299.1"><stop offset=".0006" stop-color="#f89a41"/><stop offset=".022" stop-color="#f89841"/><stop offset=".0506" stop-color="#f68b45"/><stop offset=".0745" stop-color="#ed8051"/><stop offset=".0905" stop-color="#e17161"/><stop offset=".0983" stop-color="#da6e66"/><stop offset=".146" stop-color="#c06479"/><stop offset=".1966" stop-color="#9e5987"/><stop offset=".2175" stop-color="#92548a"/><stop offset=".3129" stop-color="#684396"/><stop offset=".4083" stop-color="#48389a"/><stop offset=".4917" stop-color="#35329b"/><stop offset=".5275" stop-color="#2d3290"/><stop offset=".732" stop-color="#0d3064"/><stop offset=".9089" stop-color="#082a4d"/><stop offset="1" stop-color="#072845"/></linearGradient>
<linearGradient id="g44" gradientUnits="userSpaceOnUse" x1="0" y1="89.38" x2="0" y2="299.1"><stop offset=".0006" stop-color="#f79343"/><stop offset=".0616" stop-color="#f79243"/><stop offset=".0637" stop-color="#f68b45"/><stop offset=".0738" stop-color="#e2735f"/><stop offset=".0983" stop-color="#c06479"/><stop offset=".146" stop-color="#9d5887"/><stop offset=".1698" stop-color="#8d538b"/><stop offset=".3191" stop-color="#5d3e99"/><stop offset=".4083" stop-color="#42369a"/><stop offset=".4639" stop-color="#35329b"/><stop offset=".5275" stop-color="#283189"/><stop offset=".7182" stop-color="#0d3064"/><stop offset=".9089" stop-color="#082a4d"/><stop offset="1" stop-color="#072845"/></linearGradient>
<linearGradient id="g45" gradientUnits="userSpaceOnUse" x1="0" y1="89.38" x2="0" y2="299.1"><stop offset=".0006" stop-color="#f2874a"/><stop offset=".0621" stop-color="#f2864b"/><stop offset=".0705" stop-color="#e97a57"/><stop offset=".0819" stop-color="#e5765c"/><stop offset=".0868" stop-color="#e17161"/><stop offset=".0983" stop-color="#d36b6b"/><stop offset=".1222" stop-color="#c06479"/><stop offset=".1698" stop-color="#965689"/><stop offset=".2175" stop-color="#794b90"/><stop offset=".2652" stop-color="#614098"/><stop offset=".3606" stop-color="#45379a"/><stop offset=".4369" stop-color="#35329b"/><stop offset=".5275" stop-color="#243184"/><stop offset=".7038" stop-color="#0d3064"/><stop offset=".9089" stop-color="#082a4c"/><stop offset="1" stop-color="#072845"/></linearGradient>
<linearGradient id="g46" gradientUnits="userSpaceOnUse" x1="0" y1="89.38" x2="0" y2="299.1"><stop offset=".0006" stop-color="#f79044"/><stop offset=".1209" stop-color="#f78f44"/><stop offset=".1226" stop-color="#f68b45"/><stop offset=".1305" stop-color="#eb7d54"/><stop offset=".142" stop-color="#e5765c"/><stop offset=".1698" stop-color="#da6e66"/><stop offset=".2057" stop-color="#c16479"/><stop offset=".2652" stop-color="#985789"/><stop offset=".3129" stop-color="#89518c"/><stop offset=".3606" stop-color="#754992"/><stop offset=".4559" stop-color="#573c99"/><stop offset=".5275" stop-color="#40359a"/><stop offset=".5751" stop-color="#35329b"/><stop offset=".6228" stop-color="#2a318b"/><stop offset=".7182" stop-color="#163071"/><stop offset=".7777" stop-color="#0d3064"/><stop offset=".9089" stop-color="#092a4f"/><stop offset="1" stop-color="#072845"/></linearGradient>
<linearGradient id="g47" gradientUnits="userSpaceOnUse" x1="0" y1="89.38" x2="0" y2="299.1"><stop offset=".0006" stop-color="#f89742"/><stop offset=".1195" stop-color="#f89642"/><stop offset=".1276" stop-color="#f58a46"/><stop offset=".1698" stop-color="#e97b56"/><stop offset=".1895" stop-color="#e17161"/><stop offset=".2418" stop-color="#c16479"/><stop offset=".2652" stop-color="#b25f7f"/><stop offset=".3129" stop-color="#9b5888"/><stop offset=".5081" stop-color="#5d3e99"/><stop offset=".5275" stop-color="#553c99"/><stop offset=".6322" stop-color="#35329b"/><stop offset=".7182" stop-color="#1f317c"/><stop offset=".8135" stop-color="#0d3062"/><stop offset=".9089" stop-color="#092b50"/><stop offset="1" stop-color="#072845"/></linearGradient>
<linearGradient id="g48" gradientUnits="userSpaceOnUse" x1="0" y1="89.38" x2="0" y2="299.1"><stop offset=".0006" stop-color="#f79343"/><stop offset=".1112" stop-color="#f79243"/><stop offset=".1143" stop-color="#f68b45"/><stop offset=".1204" stop-color="#ee814f"/><stop offset=".146" stop-color="#e07161"/><stop offset=".1698" stop-color="#d36b6b"/><stop offset=".2175" stop-color="#bf637a"/><stop offset=".2838" stop-color="#9e5987"/><stop offset=".3129" stop-color="#90548a"/><stop offset=".4083" stop-color="#6f4694"/><stop offset=".4709" stop-color="#5d3e99"/><stop offset=".5275" stop-color="#49389a"/><stop offset=".6016" stop-color="#35329b"/><stop offset=".7182" stop-color="#1a3176"/><stop offset=".791" stop-color="#0d3064"/><stop offset=".9089" stop-color="#092b4f"/><stop offset="1" stop-color="#072845"/></linearGradient>
<linearGradient id="g49" gradientUnits="userSpaceOnUse" x1="0" y1="89.38" x2="0" y2="299.1"><stop offset=".0006" stop-color="#f58a46"/><stop offset=".0745" stop-color="#f48947"/><stop offset=".0983" stop-color="#e97b56"/><stop offset=".1116" stop-color="#e17161"/><stop offset=".1495" stop-color="#c16479"/><stop offset=".1698" stop-color="#af5e80"/><stop offset=".2175" stop-color="#92548a"/><stop offset=".2652" stop-color="#794b90"/><stop offset=".3606" stop-color="#573c99"/><stop offset=".4083" stop-color="#47379a"/><stop offset=".4785" stop-color="#35329b"/><stop offset=".5275" stop-color="#2a318d"/><stop offset=".6228" stop-color="#1b3177"/><stop offset=".724" stop-color="#0d3064"/><stop offset=".9089" stop-color="#082a4d"/><stop offset="1" stop-color="#072845"/></linearGradient>
<linearGradient id="g50" gradientUnits="userSpaceOnUse" x1="0" y1="89.38" x2="0" y2="299.1"><stop offset=".0006" stop-color="#f58a46"/><stop offset=".0885" stop-color="#f48947"/><stop offset=".0966" stop-color="#ec7f52"/><stop offset=".108" stop-color="#e97b56"/><stop offset=".117" stop-color="#e17161"/><stop offset=".1222" stop-color="#da6e66"/><stop offset=".1592" stop-color="#c16479"/><stop offset=".1698" stop-color="#b9617c"/><stop offset=".2204" stop-color="#9e5987"/><stop offset=".4083" stop-color="#573c99"/><stop offset=".4559" stop-color="#47379a"/><stop offset=".5275" stop-color="#34329a"/><stop offset=".6228" stop-color="#223180"/><stop offset=".7524" stop-color="#0d3064"/><stop offset=".9089" stop-color="#082a4e"/><stop offset="1" stop-color="#072845"/></linearGradient>
<linearGradient id="g51" gradientUnits="userSpaceOnUse" x1="0" y1="89.38" x2="0" y2="299.1"><stop offset=".0006" stop-color="#f79343"/><stop offset=".0745" stop-color="#f79243"/><stop offset=".084" stop-color="#f68b45"/><stop offset=".14" stop-color="#e17161"/><stop offset=".1975" stop-color="#c16479"/><stop offset=".2652" stop-color="#985789"/><stop offset=".3129" stop-color="#89518c"/><stop offset=".4214" stop-color="#5d3e99"/><stop offset=".4559" stop-color="#4f3a9a"/><stop offset=".5275" stop-color="#3a349b"/><stop offset=".5518" stop-color="#35329b"/><stop offset=".6228" stop-color="#263186"/><stop offset=".7661" stop-color="#0d3064"/><stop offset=".9089" stop-color="#092a4e"/><stop offset="1" stop-color="#072845"/></linearGradient>
<linearGradient id="g52" gradientUnits="userSpaceOnUse" x1="0" y1="89.38" x2="0" y2="299.1"><stop offset=".0006" stop-color="#f79044"/><stop offset=".0506" stop-color="#f78f44"/><stop offset=".0573" stop-color="#f68b45"/><stop offset=".1222" stop-color="#e07161"/><stop offset=".1949" stop-color="#c16479"/><stop offset=".2652" stop-color="#9b5888"/><stop offset=".4559" stop-color="#573c99"/><stop offset=".5275" stop-color="#40359a"/><stop offset=".5751" stop-color="#35329b"/><stop offset=".6228" stop-color="#2a318b"/><stop offset=".7182" stop-color="#163071"/><stop offset=".7777" stop-color="#0d3064"/><stop offset=".9089" stop-color="#092a4f"/><stop offset="1" stop-color="#072845"/></linearGradient>
<linearGradient id="g53" gradientUnits="userSpaceOnUse" x1="0" y1="89.38" x2="0" y2="299.1"><stop offset=".0006" stop-color="#faa53e"/><stop offset=".0809" stop-color="#faa43f"/><stop offset=".0897" stop-color="#f79243"/><stop offset=".1012" stop-color="#f68b45"/><stop offset=".1222" stop-color="#e97b56"/><stop offset=".146" stop-color="#e07161"/><stop offset=".2037" stop-color="#c16479"/><stop offset=".2652" stop-color="#9b5888"/><stop offset=".4559" stop-color="#573c99"/><stop offset=".5275" stop-color="#40359a"/><stop offset=".5751" stop-color="#35329b"/><stop offset=".6228" stop-color="#2a318b"/><stop offset=".7182" stop-color="#163071"/><stop offset=".7777" stop-color="#0d3064"/><stop offset=".9089" stop-color="#092a4f"/><stop offset="1" stop-color="#072845"/></linearGradient>
<linearGradient id="g54" gradientUnits="userSpaceOnUse" x1="0" y1="89.38" x2="0" y2="299.1"><stop offset=".0006" stop-color="#f89a41"/><stop offset=".0649" stop-color="#f89841"/><stop offset=".0812" stop-color="#f68b45"/><stop offset=".1164" stop-color="#e97b56"/><stop offset=".1227" stop-color="#e17161"/><stop offset=".1256" stop-color="#db6f65"/><stop offset=".137" stop-color="#d36b6b"/><stop offset=".146" stop-color="#ca6872"/><stop offset=".1698" stop-color="#c06479"/><stop offset=".2301" stop-color="#9e5987"/><stop offset=".2652" stop-color="#8e538b"/><stop offset=".4145" stop-color="#5d3e99"/><stop offset=".5275" stop-color="#3a349b"/><stop offset=".5518" stop-color="#35329b"/><stop offset=".6228" stop-color="#263186"/><stop offset=".7661" stop-color="#0d3064"/><stop offset=".9089" stop-color="#092a4e"/><stop offset="1" stop-color="#072845"/></linearGradient>
<linearGradient id="g55" gradientUnits="userSpaceOnUse" x1="0" y1="89.38" x2="0" y2="299.1"><stop offset=".0006" stop-color="#f99e40"/><stop offset=".0506" stop-color="#f99d40"/><stop offset=".0745" stop-color="#f89642"/><stop offset=".1344" stop-color="#f68b45"/><stop offset=".1698" stop-color="#f2864b"/><stop offset=".2175" stop-color="#dd6f64"/><stop offset=".2733" stop-color="#c16479"/><stop offset=".3129" stop-color="#b25f7f"/><stop offset=".4559" stop-color="#87508d"/><stop offset=".5275" stop-color="#684396"/><stop offset=".5633" stop-color="#5d3e99"/><stop offset=".6228" stop-color="#46379a"/><stop offset=".6758" stop-color="#35329b"/><stop offset=".7182" stop-color="#273188"/><stop offset=".8291" stop-color="#0d3064"/><stop offset=".9089" stop-color="#092b52"/><stop offset="1" stop-color="#072845"/></linearGradient>
<linearGradient id="g56" gradientUnits="userSpaceOnUse" x1="0" y1="89.38" x2="0" y2="299.1"><stop offset=".0006" stop-color="#f9a23f"/><stop offset=".0745" stop-color="#f9a13f"/><stop offset=".0983" stop-color="#f89642"/><stop offset=".1389" stop-color="#f68b45"/><stop offset=".1698" stop-color="#f2864b"/><stop offset=".2175" stop-color="#dd6f64"/><stop offset=".2652" stop-color="#c06479"/><stop offset=".3653" stop-color="#9e5987"/><stop offset=".4083" stop-color="#94558a"/><stop offset=".5275" stop-color="#654296"/><stop offset=".5548" stop-color="#5d3e99"/><stop offset=".6697" stop-color="#35329b"/><stop offset=".7182" stop-color="#263186"/><stop offset=".8255" stop-color="#0d3064"/><stop offset=".9089" stop-color="#092b52"/><stop offset="1" stop-color="#072845"/></linearGradient>
<linearGradient id="g57" gradientUnits="userSpaceOnUse" x1="0" y1="89.38" x2="0" y2="299.1"><stop offset=".0006" stop-color="#f99e40"/><stop offset=".0268" stop-color="#f99d40"/><stop offset=".0506" stop-color="#f89642"/><stop offset=".1344" stop-color="#f68b45"/><stop offset=".1698" stop-color="#f2864b"/><stop offset=".2223" stop-color="#e17161"/><stop offset=".2722" stop-color="#c16479"/><stop offset=".3129" stop-color="#af5e80"/><stop offset=".4083" stop-color="#90548b"/><stop offset=".5275" stop-color="#604098"/><stop offset=".6587" stop-color="#35329b"/><stop offset=".7182" stop-color="#243183"/><stop offset=".8188" stop-color="#0d3064"/><stop offset=".9089" stop-color="#092b51"/><stop offset="1" stop-color="#072845"/></linearGradient>
<linearGradient id="g58" gradientUnits="userSpaceOnUse" x1="0" y1="89.38" x2="0" y2="299.1"><stop offset=".0006" stop-color="#f89a41"/><stop offset=".0268" stop-color="#f89841"/><stop offset=".1222" stop-color="#f48947"/><stop offset=".1698" stop-color="#ed8051"/><stop offset=".2036" stop-color="#e17161"/><stop offset=".2652" stop-color="#c06479"/><stop offset=".3642" stop-color="#9e5987"/><stop offset=".4083" stop-color="#90548b"/><stop offset=".5275" stop-color="#604098"/><stop offset=".6587" stop-color="#35329b"/><stop offset=".7182" stop-color="#243183"/><stop offset=".8188" stop-color="#0d3064"/><stop offset=".9089" stop-color="#092b51"/><stop offset="1" stop-color="#072845"/></linearGradient>
<linearGradient id="g59" gradientUnits="userSpaceOnUse" x1="0" y1="89.38" x2="0" y2="299.1"><stop offset=".0006" stop-color="#faa83d"/><stop offset=".0173" stop-color="#faa63e"/><stop offset=".0363" stop-color="#f89841"/><stop offset=".1222" stop-color="#f68b45"/><stop offset=".1698" stop-color="#f0834d"/><stop offset=".2208" stop-color="#e17161"/><stop offset=".2652" stop-color="#c66675"/><stop offset=".3642" stop-color="#9e5987"/><stop offset=".4083" stop-color="#90548b"/><stop offset=".5275" stop-color="#604098"/><stop offset=".6587" stop-color="#35329b"/><stop offset=".7182" stop-color="#243183"/><stop offset=".8188" stop-color="#0d3064"/><stop offset=".9089" stop-color="#092b51"/><stop offset="1" stop-color="#072845"/></linearGradient>
<linearGradient id="g60" gradientUnits="userSpaceOnUse" x1="0" y1="89.38" x2="0" y2="299.1"><stop offset=".0006" stop-color="#f9bb40"/><stop offset=".0146" stop-color="#f9b93f"/><stop offset=".0227" stop-color="#fbac3c"/><stop offset=".0341" stop-color="#faa63e"/><stop offset=".0411" stop-color="#f89642"/><stop offset=".0745" stop-color="#f68b45"/><stop offset=".1329" stop-color="#e17161"/><stop offset=".1912" stop-color="#c16479"/><stop offset=".2652" stop-color="#985789"/><stop offset=".3129" stop-color="#89518c"/><stop offset=".3606" stop-color="#754992"/><stop offset=".4559" stop-color="#553c99"/><stop offset=".5275" stop-color="#3f359a"/><stop offset=".5708" stop-color="#35329b"/><stop offset=".6228" stop-color="#29318a"/><stop offset=".7182" stop-color="#163070"/><stop offset=".7755" stop-color="#0d3064"/><stop offset=".9089" stop-color="#092a4f"/><stop offset="1" stop-color="#072845"/></linearGradient>
<linearGradient id="g61" gradientUnits="userSpaceOnUse" x1="0" y1="89.38" x2="0" y2="299.1"><stop offset=".0006" stop-color="#efe54f"/><stop offset=".0292" stop-color="#f0e34e"/><stop offset=".0312" stop-color="#f6d346"/><stop offset=".0359" stop-color="#fbad3c"/><stop offset=".0378" stop-color="#f99f40"/><stop offset=".0506" stop-color="#f79243"/><stop offset=".0621" stop-color="#f68b45"/><stop offset=".1121" stop-color="#e17161"/><stop offset=".146" stop-color="#ca6872"/><stop offset=".1698" stop-color="#bd637b"/><stop offset=".2246" stop-color="#9e5987"/><stop offset=".3129" stop-color="#794b90"/><stop offset=".4083" stop-color="#573c99"/><stop offset=".4559" stop-color="#47379a"/><stop offset=".5275" stop-color="#34329a"/><stop offset=".6228" stop-color="#223180"/><stop offset=".7524" stop-color="#0d3064"/><stop offset=".9089" stop-color="#082a4e"/><stop offset="1" stop-color="#072845"/></linearGradient>
<linearGradient id="g62" gradientUnits="userSpaceOnUse" x1="0" y1="89.38" x2="0" y2="299.1"><stop offset=".0006" stop-color="#edea52"/><stop offset=".032" stop-color="#eee851"/><stop offset=".0351" stop-color="#f6d346"/><stop offset=".0389" stop-color="#f9b93f"/><stop offset=".046" stop-color="#fbad3c"/><stop offset=".0659" stop-color="#f68b45"/><stop offset=".0705" stop-color="#f1854b"/><stop offset=".0819" stop-color="#ed8051"/><stop offset=".0938" stop-color="#e17161"/><stop offset=".1174" stop-color="#c16479"/><stop offset=".1231" stop-color="#b9617c"/><stop offset=".133" stop-color="#a05a86"/><stop offset=".1445" stop-color="#965689"/><stop offset=".1508" stop-color="#754992"/><stop offset=".1698" stop-color="#614098"/><stop offset=".3129" stop-color="#3b349b"/><stop offset=".3606" stop-color="#35329b"/><stop offset=".5275" stop-color="#1c3178"/><stop offset=".6665" stop-color="#0d3064"/><stop offset="1" stop-color="#072845"/></linearGradient>
<linearGradient id="g63" gradientUnits="userSpaceOnUse" x1="0" y1="89.38" x2="0" y2="299.1"><stop offset=".0006" stop-color="#efe54f"/><stop offset=".0244" stop-color="#f0e34e"/><stop offset=".0265" stop-color="#f6d346"/><stop offset=".0314" stop-color="#fbad3c"/><stop offset=".0506" stop-color="#f68b45"/><stop offset=".1073" stop-color="#e17161"/><stop offset=".1544" stop-color="#c16479"/><stop offset=".1698" stop-color="#b6617d"/><stop offset=".2175" stop-color="#9e5987"/><stop offset=".3129" stop-color="#7c4c90"/><stop offset=".3606" stop-color="#684396"/><stop offset=".4559" stop-color="#47379a"/><stop offset=".5275" stop-color="#34329a"/><stop offset=".6228" stop-color="#223180"/><stop offset=".7524" stop-color="#0d3064"/><stop offset=".9089" stop-color="#082a4e"/><stop offset="1" stop-color="#072845"/></linearGradient>
<linearGradient id="g64" gradientUnits="userSpaceOnUse" x1="0" y1="89.38" x2="0" y2="299.1"><stop offset=".0006" stop-color="#f0e24e"/><stop offset=".0268" stop-color="#f1e04d"/><stop offset=".0285" stop-color="#f6d346"/><stop offset=".0337" stop-color="#fbac3c"/><stop offset=".0451" stop-color="#f89841"/><stop offset=".0506" stop-color="#f68b45"/><stop offset=".1091" stop-color="#e17161"/><stop offset=".1698" stop-color="#c06479"/><stop offset=".2175" stop-color="#a65c84"/><stop offset=".3606" stop-color="#6f4694"/><stop offset=".4145" stop-color="#5d3e99"/><stop offset=".5275" stop-color="#3a349b"/><stop offset=".5518" stop-color="#35329b"/><stop offset=".6228" stop-color="#263186"/><stop offset=".7661" stop-color="#0d3064"/><stop offset=".9089" stop-color="#092a4e"/><stop offset="1" stop-color="#072845"/></linearGradient>
<linearGradient id="g65" gradientUnits="userSpaceOnUse" x1="0" y1="89.38" x2="0" y2="299.1"><stop offset=".0006" stop-color="#f0e24e"/><stop offset=".0292" stop-color="#f1e04d"/><stop offset=".031" stop-color="#f6d346"/><stop offset=".0361" stop-color="#fbaf3d"/><stop offset=".0475" stop-color="#f99d40"/><stop offset=".0828" stop-color="#f68b45"/><stop offset=".1613" stop-color="#e17161"/><stop offset=".1698" stop-color="#de7063"/><stop offset=".2077" stop-color="#c16479"/><stop offset=".2652" stop-color="#9a5788"/><stop offset=".3129" stop-color="#8a528c"/><stop offset=".3606" stop-color="#7d4d8f"/><stop offset=".4083" stop-color="#6c4594"/><stop offset=".462" stop-color="#5d3e99"/><stop offset=".5275" stop-color="#46379a"/><stop offset=".5947" stop-color="#35329b"/><stop offset=".7182" stop-color="#193174"/><stop offset=".7875" stop-color="#0d3064"/><stop offset=".9089" stop-color="#092a4f"/><stop offset="1" stop-color="#072845"/></linearGradient>
<linearGradient id="g66" gradientUnits="userSpaceOnUse" x1="0" y1="89.38" x2="0" y2="299.1"><stop offset=".0006" stop-color="#efe54f"/><stop offset=".0268" stop-color="#f0e34e"/><stop offset=".0291" stop-color="#f6d346"/><stop offset=".0337" stop-color="#fab33d"/><stop offset=".0367" stop-color="#fbad3c"/><stop offset=".0451" stop-color="#f99f40"/><stop offset=".0745" stop-color="#f79243"/><stop offset=".0983" stop-color="#f68b45"/><stop offset=".1747" stop-color="#e17161"/><stop offset=".2245" stop-color="#c16479"/><stop offset=".2935" stop-color="#9e5987"/><stop offset=".3129" stop-color="#965689"/><stop offset=".4083" stop-color="#794b90"/><stop offset=".4909" stop-color="#5d3e99"/><stop offset=".5275" stop-color="#4f3a9a"/><stop offset=".6172" stop-color="#35329b"/><stop offset=".7182" stop-color="#1c3179"/><stop offset=".8135" stop-color="#0c2f61"/><stop offset=".9089" stop-color="#092b50"/><stop offset="1" stop-color="#072845"/></linearGradient>
<linearGradient id="g67" gradientUnits="userSpaceOnUse" x1="0" y1="89.38" x2="0" y2="299.1"><stop offset=".0006" stop-color="#eee851"/><stop offset=".0363" stop-color="#eee750"/><stop offset=".0389" stop-color="#f6d346"/><stop offset=".0432" stop-color="#fab33e"/><stop offset=".0466" stop-color="#fbad3c"/><stop offset=".0546" stop-color="#f99f40"/><stop offset=".0745" stop-color="#f79243"/><stop offset=".0983" stop-color="#f68b45"/><stop offset=".1747" stop-color="#e17161"/><stop offset=".2245" stop-color="#c16479"/><stop offset=".2935" stop-color="#9e5987"/><stop offset=".3129" stop-color="#965689"/><stop offset=".4083" stop-color="#794b90"/><stop offset=".4909" stop-color="#5d3e99"/><stop offset=".5275" stop-color="#4f3a9a"/><stop offset=".6172" stop-color="#35329b"/><stop offset=".7182" stop-color="#1c3179"/><stop offset=".8135" stop-color="#0c2f61"/><stop offset=".9089" stop-color="#092b50"/><stop offset="1" stop-color="#072845"/></linearGradient>
<linearGradient id="g68" gradientUnits="userSpaceOnUse" x1="0" y1="89.38" x2="0" y2="299.1"><stop offset=".0006" stop-color="#edea52"/><stop offset=".032" stop-color="#eee851"/><stop offset=".0389" stop-color="#f7cf45"/><stop offset=".0504" stop-color="#f8c442"/><stop offset=".0542" stop-color="#fbad3c"/><stop offset=".0554" stop-color="#faa63e"/><stop offset=".0745" stop-color="#f89642"/><stop offset=".0983" stop-color="#f48947"/><stop offset=".152" stop-color="#e17161"/><stop offset=".2033" stop-color="#c16479"/><stop offset=".2652" stop-color="#985789"/><stop offset=".3129" stop-color="#89518c"/><stop offset=".4214" stop-color="#5d3e99"/><stop offset=".4559" stop-color="#4f3a9a"/><stop offset=".5275" stop-color="#3a349b"/><stop offset=".5518" stop-color="#35329b"/><stop offset=".6228" stop-color="#263186"/><stop offset=".7661" stop-color="#0d3064"/><stop offset=".9089" stop-color="#092a4e"/><stop offset="1" stop-color="#072845"/></linearGradient>
<linearGradient id="g69" gradientUnits="userSpaceOnUse" x1="0" y1="89.38" x2="0" y2="299.1"><stop offset=".0006" stop-color="#ebf055"/><stop offset=".0411" stop-color="#ebee54"/><stop offset=".0447" stop-color="#f6d346"/><stop offset=".048" stop-color="#f9bb40"/><stop offset=".0554" stop-color="#fbad3c"/><stop offset=".0745" stop-color="#f79243"/><stop offset=".084" stop-color="#f68b45"/><stop offset=".14" stop-color="#e17161"/><stop offset=".1698" stop-color="#d16a6d"/><stop offset=".1936" stop-color="#c16479"/><stop offset=".2457" stop-color="#9e5987"/><stop offset=".2652" stop-color="#93558a"/><stop offset=".4083" stop-color="#5a3d99"/><stop offset=".4559" stop-color="#4a389a"/><stop offset=".5354" stop-color="#35329b"/><stop offset=".6228" stop-color="#233183"/><stop offset=".7582" stop-color="#0d3064"/><stop offset=".9089" stop-color="#092a4e"/><stop offset="1" stop-color="#072845"/></linearGradient>
<linearGradient id="g70" gradientUnits="userSpaceOnUse" x1="0" y1="89.38" x2="0" y2="299.1"><stop offset=".0006" stop-color="#eaf256"/><stop offset=".0416" stop-color="#ebf055"/><stop offset=".0472" stop-color="#f6d346"/><stop offset=".0502" stop-color="#f8c442"/><stop offset=".0574" stop-color="#fbad3c"/><stop offset=".0621" stop-color="#f99f40"/><stop offset=".0705" stop-color="#f79143"/><stop offset=".0819" stop-color="#f68b45"/><stop offset=".0983" stop-color="#e97b56"/><stop offset=".1222" stop-color="#de7063"/><stop offset=".1745" stop-color="#c16479"/><stop offset=".2287" stop-color="#9e5987"/><stop offset=".2652" stop-color="#8c528b"/><stop offset=".3837" stop-color="#5d3e99"/><stop offset=".4083" stop-color="#523b9a"/><stop offset=".4559" stop-color="#42369a"/><stop offset=".5092" stop-color="#35329b"/><stop offset=".6228" stop-color="#1f317d"/><stop offset=".7428" stop-color="#0d3064"/><stop offset=".9089" stop-color="#082a4d"/><stop offset="1" stop-color="#072845"/></linearGradient>
<linearGradient id="g71" gradientUnits="userSpaceOnUse" x1="0" y1="89.38" x2="0" y2="299.1"><stop offset=".0006" stop-color="#e9f557"/><stop offset=".0464" stop-color="#eaf357"/><stop offset=".0514" stop-color="#f6d346"/><stop offset=".0549" stop-color="#f9bd40"/><stop offset=".0588" stop-color="#fbad3c"/><stop offset=".0645" stop-color="#f89841"/><stop offset=".0729" stop-color="#f58a46"/><stop offset=".0843" stop-color="#f2864b"/><stop offset=".0983" stop-color="#e3745e"/><stop offset=".1222" stop-color="#d16a6d"/><stop offset=".146" stop-color="#c06479"/><stop offset=".1962" stop-color="#9e5987"/><stop offset=".2652" stop-color="#754992"/><stop offset=".3606" stop-color="#553c99"/><stop offset=".4083" stop-color="#45379a"/><stop offset=".4785" stop-color="#35329b"/><stop offset=".5275" stop-color="#2a318d"/><stop offset=".6228" stop-color="#1b3177"/><stop offset=".724" stop-color="#0d3064"/><stop offset=".9089" stop-color="#082a4d"/><stop offset="1" stop-color="#072845"/></linearGradient>
<linearGradient id="g72" gradientUnits="userSpaceOnUse" x1="0" y1="89.38" x2="0" y2="299.1"><stop offset=".0006" stop-color="#efe54f"/><stop offset=".0268" stop-color="#f0e34e"/><stop offset=".0287" stop-color="#f6d346"/><stop offset=".0331" stop-color="#fbad3c"/><stop offset=".0337" stop-color="#faa83d"/><stop offset=".0451" stop-color="#f79243"/><stop offset=".0473" stop-color="#f68b45"/><stop offset=".0506" stop-color="#f0834d"/><stop offset=".0785" stop-color="#e17161"/><stop offset=".1222" stop-color="#c06479"/><stop offset=".1698" stop-color="#9d5887"/><stop offset=".2652" stop-color="#6c4594"/><stop offset=".3129" stop-color="#5a3d99"/><stop offset=".4083" stop-color="#3d349b"/><stop offset=".4423" stop-color="#35329b"/><stop offset=".5275" stop-color="#243184"/><stop offset=".7038" stop-color="#0d3064"/><stop offset=".9089" stop-color="#082a4c"/><stop offset="1" stop-color="#072845"/></linearGradient>
<linearGradient id="g73" gradientUnits="userSpaceOnUse" x1="0" y1="89.38" x2="0" y2="299.1"><stop offset=".0006" stop-color="#f7cd45"/><stop offset=".0268" stop-color="#f7cc44"/><stop offset=".0312" stop-color="#fbad3c"/><stop offset=".0337" stop-color="#f99d40"/><stop offset=".0451" stop-color="#f68b45"/><stop offset=".0506" stop-color="#ed8051"/><stop offset=".0791" stop-color="#e17161"/><stop offset=".1262" stop-color="#c16479"/><stop offset=".1739" stop-color="#9e5987"/><stop offset=".2652" stop-color="#684396"/><stop offset=".4142" stop-color="#35329b"/><stop offset=".4559" stop-color="#2a318b"/><stop offset=".5275" stop-color="#1e317c"/><stop offset=".6788" stop-color="#0d3064"/><stop offset=".9089" stop-color="#082a4c"/><stop offset="1" stop-color="#072845"/></linearGradient>
<linearGradient id="g74" gradientUnits="userSpaceOnUse" x1="0" y1="89.38" x2="0" y2="299.1"><stop offset=".0006" stop-color="#f7cd45"/><stop offset=".0387" stop-color="#f7cc44"/><stop offset=".0444" stop-color="#fbad3c"/><stop offset=".0456" stop-color="#faa73e"/><stop offset=".0684" stop-color="#f68b45"/><stop offset=".1055" stop-color="#e17161"/><stop offset=".1222" stop-color="#d36b6b"/><stop offset=".15" stop-color="#c16479"/><stop offset=".1698" stop-color="#b25f7f"/><stop offset=".2175" stop-color="#965689"/><stop offset=".2652" stop-color="#7c4c90"/><stop offset=".3606" stop-color="#5a3d99"/><stop offset=".4083" stop-color="#4a389a"/><stop offset=".4917" stop-color="#35329b"/><stop offset=".5275" stop-color="#2d3290"/><stop offset=".732" stop-color="#0d3064"/><stop offset=".9089" stop-color="#082a4d"/><stop offset="1" stop-color="#072845"/></linearGradient>
<linearGradient id="g75" gradientUnits="userSpaceOnUse" x1="0" y1="89.38" x2="0" y2="299.1"><stop offset=".0006" stop-color="#fab63e"/><stop offset=".0368" stop-color="#fab53e"/><stop offset=".0388" stop-color="#fbad3c"/><stop offset=".0485" stop-color="#f68b45"/><stop offset=".0505" stop-color="#f2864b"/><stop offset=".0657" stop-color="#e17161"/><stop offset=".0745" stop-color="#d36b6b"/><stop offset=".1024" stop-color="#c16479"/><stop offset=".1698" stop-color="#90548b"/><stop offset=".2652" stop-color="#654296"/><stop offset=".3129" stop-color="#523b9a"/><stop offset=".4083" stop-color="#35329b"/><stop offset=".4559" stop-color="#2a318b"/><stop offset=".5275" stop-color="#1e317c"/><stop offset=".6788" stop-color="#0d3064"/><stop offset=".9089" stop-color="#082a4c"/><stop offset="1" stop-color="#072845"/></linearGradient>
<linearGradient id="g76" gradientUnits="userSpaceOnUse" x1="0" y1="89.38" x2="0" y2="299.1"><stop offset=".0006" stop-color="#fab63e"/><stop offset=".043" stop-color="#fab53e"/><stop offset=".0454" stop-color="#fbad3c"/><stop offset=".0545" stop-color="#f79243"/><stop offset=".0602" stop-color="#f68b45"/><stop offset=".0745" stop-color="#e97b56"/><stop offset=".0983" stop-color="#de7063"/><stop offset=".1513" stop-color="#c16479"/><stop offset=".2175" stop-color="#975689"/><stop offset=".2655" stop-color="#7e4d8f"/><stop offset=".3129" stop-color="#6a4495"/><stop offset=".4083" stop-color="#4c399a"/><stop offset=".5092" stop-color="#35329b"/><stop offset=".6228" stop-color="#1f317d"/><stop offset=".7428" stop-color="#0d3064"/><stop offset=".9089" stop-color="#082a4d"/><stop offset="1" stop-color="#072845"/></linearGradient>
<linearGradient id="g77" gradientUnits="userSpaceOnUse" x1="0" y1="89.38" x2="0" y2="299.1"><stop offset=".0006" stop-color="#fbac3c"/><stop offset=".0532" stop-color="#fbaa3d"/><stop offset=".0636" stop-color="#f78f44"/><stop offset=".068" stop-color="#f68b45"/><stop offset=".0983" stop-color="#e5765c"/><stop offset=".1698" stop-color="#c06479"/><stop offset=".2214" stop-color="#9e5987"/><stop offset=".3606" stop-color="#644197"/><stop offset=".4559" stop-color="#47379a"/><stop offset=".5275" stop-color="#34329a"/><stop offset=".6228" stop-color="#223180"/><stop offset=".7524" stop-color="#0d3064"/><stop offset=".9089" stop-color="#082a4e"/><stop offset="1" stop-color="#072845"/></linearGradient>
<linearGradient id="g78" gradientUnits="userSpaceOnUse" x1="0" y1="89.38" x2="0" y2="299.1"><stop offset=".0006" stop-color="#faa83d"/><stop offset=".0623" stop-color="#faa63e"/><stop offset=".0722" stop-color="#f68e44"/><stop offset=".0837" stop-color="#f2864b"/><stop offset=".0983" stop-color="#e77958"/><stop offset=".1222" stop-color="#de7063"/><stop offset=".1742" stop-color="#c16479"/><stop offset=".2249" stop-color="#9e5987"/><stop offset=".2652" stop-color="#8a518c"/><stop offset=".3606" stop-color="#644197"/><stop offset=".4559" stop-color="#47379a"/><stop offset=".5275" stop-color="#34329a"/><stop offset=".6228" stop-color="#223180"/><stop offset=".7524" stop-color="#0d3064"/><stop offset=".9089" stop-color="#082a4e"/><stop offset="1" stop-color="#072845"/></linearGradient>
<linearGradient id="g79" gradientUnits="userSpaceOnUse" x1="0" y1="89.38" x2="0" y2="299.1"><stop offset=".0006" stop-color="#f99e40"/><stop offset=".0461" stop-color="#f99d40"/><stop offset=".0528" stop-color="#f68b45"/><stop offset=".0564" stop-color="#f0844d"/><stop offset=".0679" stop-color="#e97b56"/><stop offset=".0745" stop-color="#e3745e"/><stop offset=".0983" stop-color="#da6e66"/><stop offset=".146" stop-color="#c06479"/><stop offset=".2175" stop-color="#9a5888"/><stop offset=".3606" stop-color="#644197"/><stop offset=".4559" stop-color="#47379a"/><stop offset=".5275" stop-color="#34329a"/><stop offset=".6228" stop-color="#223180"/><stop offset=".7524" stop-color="#0d3064"/><stop offset=".9089" stop-color="#082a4e"/><stop offset="1" stop-color="#072845"/></linearGradient>
<linearGradient id="g80" gradientUnits="userSpaceOnUse" x1="0" y1="89.38" x2="0" y2="299.1"><stop offset=".0006" stop-color="#f99e40"/><stop offset=".0745" stop-color="#f99d40"/><stop offset=".1002" stop-color="#f68b45"/><stop offset=".1107" stop-color="#e97b56"/><stop offset=".1222" stop-color="#e07161"/><stop offset=".1698" stop-color="#c06479"/><stop offset=".2175" stop-color="#9d5887"/><stop offset=".2655" stop-color="#7e4d8f"/><stop offset=".3129" stop-color="#6a4495"/><stop offset=".4083" stop-color="#4c399a"/><stop offset=".5092" stop-color="#35329b"/><stop offset=".6228" stop-color="#1f317d"/><stop offset=".7428" stop-color="#0d3064"/><stop offset=".9089" stop-color="#082a4d"/><stop offset="1" stop-color="#072845"/></linearGradient>
<linearGradient id="g81" gradientUnits="userSpaceOnUse" x1="0" y1="89.38" x2="0" y2="299.1"><stop offset=".0006" stop-color="#f99d40"/><stop offset=".0905" stop-color="#f89b41"/><stop offset=".0992" stop-color="#f68b45"/><stop offset=".1106" stop-color="#f2864b"/><stop offset=".1222" stop-color="#e77958"/><stop offset=".146" stop-color="#de7063"/><stop offset=".1951" stop-color="#c16479"/><stop offset=".2652" stop-color="#93558a"/><stop offset=".3129" stop-color="#854f8d"/><stop offset=".4164" stop-color="#5d3e99"/><stop offset=".4559" stop-color="#4f3a9a"/><stop offset=".5275" stop-color="#3a349b"/><stop offset=".5518" stop-color="#35329b"/><stop offset=".6228" stop-color="#263186"/><stop offset=".7661" stop-color="#0d3064"/><stop offset=".9089" stop-color="#092a4e"/><stop offset="1" stop-color="#072845"/></linearGradient>
<linearGradient id="g82" gradientUnits="userSpaceOnUse" x1="0" y1="89.38" x2="0" y2="299.1"><stop offset=".0006" stop-color="#f89742"/><stop offset=".0745" stop-color="#f89642"/><stop offset=".0869" stop-color="#f68b45"/><stop offset=".1311" stop-color="#e17161"/><stop offset=".1776" stop-color="#c16479"/><stop offset=".225" stop-color="#9e5987"/><stop offset=".2652" stop-color="#88518d"/><stop offset=".3606" stop-color="#644197"/><stop offset=".4559" stop-color="#47379a"/><stop offset=".5275" stop-color="#34329a"/><stop offset=".6228" stop-color="#223180"/><stop offset=".7524" stop-color="#0d3064"/><stop offset=".9089" stop-color="#082a4e"/><stop offset="1" stop-color="#072845"/></linearGradient>
<linearGradient id="g83" gradientUnits="userSpaceOnUse" x1="0" y1="89.38" x2="0" y2="299.1"><stop offset=".0006" stop-color="#f89742"/><stop offset=".0966" stop-color="#f89642"/><stop offset=".1007" stop-color="#f68b45"/><stop offset=".1086" stop-color="#e97b56"/><stop offset=".1375" stop-color="#e17161"/><stop offset=".1698" stop-color="#d36b6b"/><stop offset=".2013" stop-color="#c16479"/><stop offset=".2652" stop-color="#985788"/><stop offset=".4282" stop-color="#5d3e99"/><stop offset=".4559" stop-color="#523b9a"/><stop offset=".5616" stop-color="#35329b"/><stop offset=".6228" stop-color="#273188"/><stop offset=".7182" stop-color="#15306f"/><stop offset=".771" stop-color="#0d3064"/><stop offset=".9089" stop-color="#092a4e"/><stop offset="1" stop-color="#072845"/></linearGradient>
<linearGradient id="g84" gradientUnits="userSpaceOnUse" x1="0" y1="89.38" x2="0" y2="299.1"><stop offset=".0006" stop-color="#f79443"/><stop offset=".1209" stop-color="#f79343"/><stop offset=".124" stop-color="#f68b45"/><stop offset=".1329" stop-color="#e77958"/><stop offset=".1535" stop-color="#e17161"/><stop offset=".1698" stop-color="#da6e66"/><stop offset=".2175" stop-color="#be637a"/><stop offset=".2666" stop-color="#9e5987"/><stop offset=".4083" stop-color="#664296"/><stop offset=".5275" stop-color="#3f359a"/><stop offset=".5708" stop-color="#35329b"/><stop offset=".6228" stop-color="#29318a"/><stop offset=".7182" stop-color="#163070"/><stop offset=".7755" stop-color="#0d3064"/><stop offset=".9089" stop-color="#092a4f"/><stop offset="1" stop-color="#072845"/></linearGradient>
<linearGradient id="g85" gradientUnits="userSpaceOnUse" x1="0" y1="89.38" x2="0" y2="299.1"><stop offset=".0006" stop-color="#f79243"/><stop offset=".1208" stop-color="#f79044"/><stop offset=".1228" stop-color="#f68b45"/><stop offset=".133" stop-color="#e5765c"/><stop offset=".146" stop-color="#e07161"/><stop offset=".1698" stop-color="#d76d68"/><stop offset=".2175" stop-color="#bc637b"/><stop offset=".2652" stop-color="#9c5888"/><stop offset=".4083" stop-color="#634197"/><stop offset=".4559" stop-color="#523b9a"/><stop offset=".5616" stop-color="#35329b"/><stop offset=".6228" stop-color="#273188"/><stop offset=".7182" stop-color="#15306f"/><stop offset=".771" stop-color="#0d3064"/><stop offset=".9089" stop-color="#092a4e"/><stop offset="1" stop-color="#072845"/></linearGradient>
<linearGradient id="g86" gradientUnits="userSpaceOnUse" x1="0" y1="89.38" x2="0" y2="299.1"><stop offset=".0006" stop-color="#f79243"/><stop offset=".0908" stop-color="#f79044"/><stop offset=".094" stop-color="#f68b45"/><stop offset=".099" stop-color="#f1854c"/><stop offset=".1105" stop-color="#ed8051"/><stop offset=".1222" stop-color="#e5765c"/><stop offset=".1903" stop-color="#c16479"/><stop offset=".2652" stop-color="#93558a"/><stop offset=".3129" stop-color="#854f8d"/><stop offset=".4164" stop-color="#5d3e99"/><stop offset=".4559" stop-color="#4f3a9a"/><stop offset=".5275" stop-color="#3a349b"/><stop offset=".5518" stop-color="#35329b"/><stop offset=".6228" stop-color="#263186"/><stop offset=".7661" stop-color="#0d3064"/><stop offset=".9089" stop-color="#092a4e"/><stop offset="1" stop-color="#072845"/></linearGradient>
<linearGradient id="g87" gradientUnits="userSpaceOnUse" x1="0" y1="89.38" x2="0" y2="299.1"><stop offset=".0006" stop-color="#f78f44"/><stop offset=".0953" stop-color="#f68d44"/><stop offset=".104" stop-color="#ed8050"/><stop offset=".1154" stop-color="#e97b56"/><stop offset=".1222" stop-color="#e3745e"/><stop offset=".1858" stop-color="#c16479"/><stop offset=".2439" stop-color="#9e5987"/><stop offset=".2652" stop-color="#93558a"/><stop offset=".4164" stop-color="#5d3e99"/><stop offset=".4559" stop-color="#4f3a9a"/><stop offset=".5275" stop-color="#3a349b"/><stop offset=".5518" stop-color="#35329b"/><stop offset=".6228" stop-color="#263186"/><stop offset=".7661" stop-color="#0d3064"/><stop offset=".9089" stop-color="#092a4e"/><stop offset="1" stop-color="#072845"/></linearGradient>
<linearGradient id="g88" gradientUnits="userSpaceOnUse" x1="0" y1="89.38" x2="0" y2="299.1"><stop offset=".0006" stop-color="#f89742"/><stop offset=".0856" stop-color="#f89642"/><stop offset=".0911" stop-color="#f68b45"/><stop offset=".0945" stop-color="#f2864a"/><stop offset=".1268" stop-color="#e17161"/><stop offset=".1751" stop-color="#c16479"/><stop offset=".2348" stop-color="#9e5987"/><stop offset=".2652" stop-color="#8e538b"/><stop offset=".3899" stop-color="#5d3e99"/><stop offset=".4559" stop-color="#45379a"/><stop offset=".5195" stop-color="#35329b"/><stop offset=".6228" stop-color="#21317f"/><stop offset=".7494" stop-color="#0d3064"/><stop offset=".9089" stop-color="#082a4e"/><stop offset="1" stop-color="#072845"/></linearGradient>
<linearGradient id="g89" gradientUnits="userSpaceOnUse" x1="0" y1="89.38" x2="0" y2="299.1"><stop offset=".0006" stop-color="#f89a41"/><stop offset=".0745" stop-color="#f89841"/><stop offset=".0882" stop-color="#f68b45"/><stop offset=".0983" stop-color="#f0834d"/><stop offset=".1311" stop-color="#e17161"/><stop offset=".1794" stop-color="#c16479"/><stop offset=".2364" stop-color="#9e5987"/><stop offset=".2652" stop-color="#8e538b"/><stop offset=".3899" stop-color="#5d3e99"/><stop offset=".4559" stop-color="#45379a"/><stop offset=".5195" stop-color="#35329b"/><stop offset=".6228" stop-color="#21317f"/><stop offset=".7494" stop-color="#0d3064"/><stop offset=".9089" stop-color="#082a4e"/><stop offset="1" stop-color="#072845"/></linearGradient>
<linearGradient id="g90" gradientUnits="userSpaceOnUse" x1="0" y1="89.38" x2="0" y2="299.1"><stop offset=".0006" stop-color="#f89a41"/><stop offset=".0268" stop-color="#f89841"/><stop offset=".0506" stop-color="#f68b45"/><stop offset=".1091" stop-color="#e17161"/><stop offset=".1698" stop-color="#bd637b"/><stop offset=".2175" stop-color="#9e5987"/><stop offset=".3129" stop-color="#734892"/><stop offset=".3743" stop-color="#5d3e99"/><stop offset=".4083" stop-color="#503a9a"/><stop offset=".5092" stop-color="#35329b"/><stop offset=".6228" stop-color="#1f317d"/><stop offset=".7428" stop-color="#0d3064"/><stop offset=".9089" stop-color="#082a4d"/><stop offset="1" stop-color="#072845"/></linearGradient>
<linearGradient id="g91" gradientUnits="userSpaceOnUse" x1="0" y1="89.38" x2="0" y2="299.1"><stop offset=".0006" stop-color="#faa53e"/><stop offset=".0311" stop-color="#faa43f"/><stop offset=".0395" stop-color="#f79542"/><stop offset=".056" stop-color="#f68b45"/><stop offset=".0745" stop-color="#ed8051"/><stop offset=".1091" stop-color="#e17161"/><stop offset=".1592" stop-color="#c16479"/><stop offset=".2175" stop-color="#9a5888"/><stop offset=".3129" stop-color="#714793"/><stop offset=".371" stop-color="#5d3e99"/><stop offset=".4559" stop-color="#42369a"/><stop offset=".5092" stop-color="#35329b"/><stop offset=".6228" stop-color="#1f317d"/><stop offset=".7428" stop-color="#0d3064"/><stop offset=".9089" stop-color="#082a4d"/><stop offset="1" stop-color="#072845"/></linearGradient>
<linearGradient id="g92" gradientUnits="userSpaceOnUse" x1="0" y1="89.38" x2="0" y2="299.1"><stop offset=".0006" stop-color="#fab63e"/><stop offset=".0201" stop-color="#fab53e"/><stop offset=".023" stop-color="#fbad3c"/><stop offset=".03" stop-color="#f89c41"/><stop offset=".0415" stop-color="#f79243"/><stop offset=".0459" stop-color="#f68b45"/><stop offset=".0506" stop-color="#f2864b"/><stop offset=".0983" stop-color="#e07161"/><stop offset=".15" stop-color="#c16479"/><stop offset=".1698" stop-color="#b25f7f"/><stop offset=".2175" stop-color="#965689"/><stop offset=".3129" stop-color="#6e4694"/><stop offset=".3619" stop-color="#5d3e99"/><stop offset=".4083" stop-color="#4c399a"/><stop offset=".5036" stop-color="#35329b"/><stop offset=".5275" stop-color="#2f3293"/><stop offset=".6228" stop-color="#1e317c"/><stop offset=".7394" stop-color="#0d3064"/><stop offset=".9089" stop-color="#082a4d"/><stop offset="1" stop-color="#072845"/></linearGradient>
<linearGradient id="g93" gradientUnits="userSpaceOnUse" x1="0" y1="89.38" x2="0" y2="299.1"><stop offset=".0006" stop-color="#f9be40"/><stop offset=".0125" stop-color="#f9bd40"/><stop offset=".0176" stop-color="#fbad3c"/><stop offset=".0232" stop-color="#f99e40"/><stop offset=".0423" stop-color="#f68b45"/><stop offset=".0506" stop-color="#f2864b"/><stop offset=".0983" stop-color="#e07161"/><stop offset=".156" stop-color="#c16479"/><stop offset=".2175" stop-color="#9a5888"/><stop offset=".3129" stop-color="#714793"/><stop offset=".371" stop-color="#5d3e99"/><stop offset=".4559" stop-color="#42369a"/><stop offset=".5092" stop-color="#35329b"/><stop offset=".6228" stop-color="#1f317d"/><stop offset=".7428" stop-color="#0d3064"/><stop offset=".9089" stop-color="#082a4d"/><stop offset="1" stop-color="#072845"/></linearGradient>
<linearGradient id="g94" gradientUnits="userSpaceOnUse" x1="0" y1="89.38" x2="0" y2="299.1"><stop offset=".0006" stop-color="#f8c643"/><stop offset=".0225" stop-color="#f8c442"/><stop offset=".0267" stop-color="#fbad3c"/><stop offset=".0294" stop-color="#f9a03f"/><stop offset=".0455" stop-color="#f68b45"/><stop offset=".0506" stop-color="#f2864b"/><stop offset=".0983" stop-color="#e07161"/><stop offset=".1513" stop-color="#c16479"/><stop offset=".2175" stop-color="#995788"/><stop offset=".3129" stop-color="#714793"/><stop offset=".371" stop-color="#5d3e99"/><stop offset=".4559" stop-color="#42369a"/><stop offset=".5092" stop-color="#35329b"/><stop offset=".6228" stop-color="#1f317d"/><stop offset=".7428" stop-color="#0d3064"/><stop offset=".9089" stop-color="#082a4d"/><stop offset="1" stop-color="#072845"/></linearGradient>
<linearGradient id="g95" gradientUnits="userSpaceOnUse" x1="0" y1="89.38" x2="0" y2="299.1"><stop offset=".0006" stop-color="#f7ca44"/><stop offset=".0268" stop-color="#f7c943"/><stop offset=".0315" stop-color="#fbad3c"/><stop offset=".0337" stop-color="#f9a13f"/><stop offset=".0451" stop-color="#f79243"/><stop offset=".0545" stop-color="#f68b45"/><stop offset=".0745" stop-color="#ed8051"/><stop offset=".1091" stop-color="#e17161"/><stop offset=".1698" stop-color="#c06479"/><stop offset=".2193" stop-color="#9e5987"/><stop offset=".3129" stop-color="#734892"/><stop offset=".3743" stop-color="#5d3e99"/><stop offset=".4083" stop-color="#503a9a"/><stop offset=".5092" stop-color="#35329b"/><stop offset=".6228" stop-color="#1f317d"/><stop offset=".7428" stop-color="#0d3064"/><stop offset=".9089" stop-color="#082a4d"/><stop offset="1" stop-color="#072845"/></linearGradient>
<linearGradient id="g96" gradientUnits="userSpaceOnUse" x1="0" y1="89.38" x2="0" y2="299.1"><stop offset=".0006" stop-color="#f2dd4b"/><stop offset=".034" stop-color="#f3dc4a"/><stop offset=".035" stop-color="#f6d346"/><stop offset=".0399" stop-color="#fbad3c"/><stop offset=".0408" stop-color="#faa63e"/><stop offset=".0523" stop-color="#f79243"/><stop offset=".0594" stop-color="#f68b45"/><stop offset=".0745" stop-color="#ed8051"/><stop offset=".1029" stop-color="#e17161"/><stop offset=".15" stop-color="#c16479"/><stop offset=".1698" stop-color="#b25f7f"/><stop offset=".2175" stop-color="#955689"/><stop offset=".2656" stop-color="#7e4d8f"/><stop offset=".3619" stop-color="#5d3e99"/><stop offset=".4083" stop-color="#4c399a"/><stop offset=".5036" stop-color="#35329b"/><stop offset=".5275" stop-color="#2f3293"/><stop offset=".6228" stop-color="#1e317c"/><stop offset=".7394" stop-color="#0d3064"/><stop offset=".9089" stop-color="#082a4d"/><stop offset="1" stop-color="#072845"/></linearGradient>
<linearGradient id="g97" gradientUnits="userSpaceOnUse" x1="0" y1="89.38" x2="0" y2="299.1"><stop offset=".0006" stop-color="#f5d547"/><stop offset=".034" stop-color="#f6d346"/><stop offset=".0394" stop-color="#fbad3c"/><stop offset=".0408" stop-color="#faa43e"/><stop offset=".0523" stop-color="#f79243"/><stop offset=".0594" stop-color="#f68b45"/><stop offset=".0745" stop-color="#ed8051"/><stop offset=".1029" stop-color="#e17161"/><stop offset=".1508" stop-color="#c16479"/><stop offset=".2175" stop-color="#985789"/><stop offset=".3129" stop-color="#6f4693"/><stop offset=".3665" stop-color="#5d3e99"/><stop offset=".4083" stop-color="#4e3a9a"/><stop offset=".5092" stop-color="#35329b"/><stop offset=".6228" stop-color="#1f317d"/><stop offset=".7428" stop-color="#0d3064"/><stop offset=".9089" stop-color="#082a4d"/><stop offset="1" stop-color="#072845"/></linearGradient>
<linearGradient id="g98" gradientUnits="userSpaceOnUse" x1="0" y1="89.38" x2="0" y2="299.1"><stop offset=".0006" stop-color="#f6d246"/><stop offset=".0316" stop-color="#f6d145"/><stop offset=".0368" stop-color="#fbad3c"/><stop offset=".0384" stop-color="#faa33f"/><stop offset=".0499" stop-color="#f79243"/><stop offset=".0578" stop-color="#f68b45"/><stop offset=".0745" stop-color="#ed8051"/><stop offset=".1029" stop-color="#e17161"/><stop offset=".1508" stop-color="#c16479"/><stop offset=".2175" stop-color="#985788"/><stop offset=".3129" stop-color="#714793"/><stop offset=".371" stop-color="#5d3e99"/><stop offset=".4559" stop-color="#42369a"/><stop offset=".5092" stop-color="#35329b"/><stop offset=".6228" stop-color="#1f317d"/><stop offset=".7428" stop-color="#0d3064"/><stop offset=".9089" stop-color="#082a4d"/><stop offset="1" stop-color="#072845"/></linearGradient>
<linearGradient id="g99" gradientUnits="userSpaceOnUse" x1="0" y1="89.38" x2="0" y2="299.1"><stop offset=".0006" stop-color="#f7cd45"/><stop offset=".0297" stop-color="#f7cc44"/><stop offset=".0365" stop-color="#f9bc40"/><stop offset=".048" stop-color="#fab53e"/><stop offset=".0503" stop-color="#fbad3c"/><stop offset=".0549" stop-color="#f99f40"/><stop offset=".0654" stop-color="#f68b45"/><stop offset=".0983" stop-color="#e07161"/><stop offset=".1513" stop-color="#c16479"/><stop offset=".2175" stop-color="#995788"/><stop offset=".3129" stop-color="#714793"/><stop offset=".371" stop-color="#5d3e99"/><stop offset=".4559" stop-color="#42369a"/><stop offset=".5092" stop-color="#35329b"/><stop offset=".6228" stop-color="#1f317d"/><stop offset=".7428" stop-color="#0d3064"/><stop offset=".9089" stop-color="#082a4d"/><stop offset="1" stop-color="#072845"/></linearGradient>
<linearGradient id="g100" gradientUnits="userSpaceOnUse" x1="0" y1="89.38" x2="0" y2="299.1"><stop offset=".0006" stop-color="#f5d547"/><stop offset=".0417" stop-color="#f6d346"/><stop offset=".0471" stop-color="#fbad3c"/><stop offset=".0484" stop-color="#faa43e"/><stop offset=".0599" stop-color="#f79243"/><stop offset=".0669" stop-color="#f68b45"/><stop offset=".1073" stop-color="#e17161"/><stop offset=".1698" stop-color="#bd637b"/><stop offset=".2186" stop-color="#9e5987"/><stop offset=".3129" stop-color="#754992"/><stop offset=".3784" stop-color="#5d3e99"/><stop offset=".4083" stop-color="#513b9a"/><stop offset=".5145" stop-color="#35329b"/><stop offset=".6228" stop-color="#20317e"/><stop offset=".7462" stop-color="#0d3064"/><stop offset=".8135" stop-color="#0b2d59"/><stop offset="1" stop-color="#072845"/></linearGradient>
<linearGradient id="g101" gradientUnits="userSpaceOnUse" x1="0" y1="89.38" x2="0" y2="299.1"><stop offset=".0006" stop-color="#f3da4a"/><stop offset=".0511" stop-color="#f4d849"/><stop offset=".0569" stop-color="#fbad3c"/><stop offset=".058" stop-color="#faa53e"/><stop offset=".0745" stop-color="#f48947"/><stop offset=".1172" stop-color="#e17161"/><stop offset=".1745" stop-color="#c16479"/><stop offset=".2283" stop-color="#9e5987"/><stop offset=".2652" stop-color="#8a528c"/><stop offset=".3825" stop-color="#5d3e99"/><stop offset=".4559" stop-color="#44369a"/><stop offset=".5145" stop-color="#35329b"/><stop offset=".6228" stop-color="#20317e"/><stop offset=".7462" stop-color="#0d3064"/><stop offset=".8135" stop-color="#0b2d59"/><stop offset="1" stop-color="#072845"/></linearGradient>
<linearGradient id="g102" gradientUnits="userSpaceOnUse" x1="0" y1="89.38" x2="0" y2="299.1"><stop offset=".0006" stop-color="#eced53"/><stop offset=".032" stop-color="#edeb52"/><stop offset=".0348" stop-color="#f6d346"/><stop offset=".0389" stop-color="#fbaf3d"/><stop offset=".0504" stop-color="#f89841"/><stop offset=".0745" stop-color="#f68b45"/><stop offset=".1329" stop-color="#e17161"/><stop offset=".1885" stop-color="#c16479"/><stop offset=".2396" stop-color="#9e5987"/><stop offset=".2652" stop-color="#8e538b"/><stop offset=".3793" stop-color="#5d3e99"/><stop offset=".4083" stop-color="#503a9a"/><stop offset=".4559" stop-color="#3f359b"/><stop offset=".4978" stop-color="#35329b"/><stop offset=".5275" stop-color="#2e3292"/><stop offset=".6228" stop-color="#1e317b"/><stop offset=".7358" stop-color="#0d3064"/><stop offset=".9089" stop-color="#082a4d"/><stop offset="1" stop-color="#072845"/></linearGradient>
<linearGradient id="g103" gradientUnits="userSpaceOnUse" x1="0" y1="89.38" x2="0" y2="299.1"><stop offset=".0006" stop-color="#edea52"/><stop offset=".0368" stop-color="#eee851"/><stop offset=".0396" stop-color="#f6d346"/><stop offset=".0437" stop-color="#fab43e"/><stop offset=".0473" stop-color="#fbad3c"/><stop offset=".0551" stop-color="#f99f40"/><stop offset=".0812" stop-color="#f68b45"/><stop offset=".146" stop-color="#de7063"/><stop offset=".1698" stop-color="#d16a6d"/><stop offset=".1922" stop-color="#c16479"/><stop offset=".2175" stop-color="#ad5e81"/><stop offset=".2652" stop-color="#8e538b"/><stop offset=".3129" stop-color="#7a4b90"/><stop offset=".3714" stop-color="#5d3e99"/><stop offset=".4083" stop-color="#4b399a"/><stop offset=".4559" stop-color="#38339b"/><stop offset=".4714" stop-color="#35329b"/><stop offset=".5275" stop-color="#29318b"/><stop offset=".6228" stop-color="#1a3176"/><stop offset=".7197" stop-color="#0d3064"/><stop offset=".8135" stop-color="#0a2d57"/><stop offset="1" stop-color="#072845"/></linearGradient>
<linearGradient id="g104" gradientUnits="userSpaceOnUse" x1="0" y1="89.38" x2="0" y2="299.1"><stop offset=".0006" stop-color="#eced53"/><stop offset=".0392" stop-color="#edeb52"/><stop offset=".0422" stop-color="#f6d346"/><stop offset=".0461" stop-color="#fab53e"/><stop offset=".05" stop-color="#fbad3c"/><stop offset=".0575" stop-color="#f99f40"/><stop offset=".0745" stop-color="#f78f44"/><stop offset=".0812" stop-color="#f68b45"/><stop offset=".146" stop-color="#de7063"/><stop offset=".1941" stop-color="#c16479"/><stop offset=".2437" stop-color="#9e5987"/><stop offset=".2652" stop-color="#90548a"/><stop offset=".3129" stop-color="#7d4c8f"/><stop offset=".3606" stop-color="#654296"/><stop offset=".4083" stop-color="#503a9a"/><stop offset=".4559" stop-color="#3f359b"/><stop offset=".4978" stop-color="#35329b"/><stop offset=".5275" stop-color="#2e3292"/><stop offset=".6228" stop-color="#1e317b"/><stop offset=".7358" stop-color="#0d3064"/><stop offset=".9089" stop-color="#082a4d"/><stop offset="1" stop-color="#072845"/></linearGradient>
<linearGradient id="g105" gradientUnits="userSpaceOnUse" x1="0" y1="89.38" x2="0" y2="299.1"><stop offset=".0006" stop-color="#f0e24e"/><stop offset=".0535" stop-color="#f1e04d"/><stop offset=".0566" stop-color="#f6d346"/><stop offset=".0621" stop-color="#f9bd40"/><stop offset=".0704" stop-color="#fbad3c"/><stop offset=".0745" stop-color="#faa63e"/><stop offset=".1031" stop-color="#f68b45"/><stop offset=".1222" stop-color="#ed8051"/><stop offset=".1567" stop-color="#e17161"/><stop offset=".2088" stop-color="#c16479"/><stop offset=".2652" stop-color="#985788"/><stop offset=".3129" stop-color="#854f8d"/><stop offset=".3606" stop-color="#6b4495"/><stop offset=".4083" stop-color="#553b99"/><stop offset=".4559" stop-color="#42369a"/><stop offset=".5092" stop-color="#35329b"/><stop offset=".6228" stop-color="#1f317d"/><stop offset=".7428" stop-color="#0d3064"/><stop offset=".9089" stop-color="#082a4d"/><stop offset="1" stop-color="#072845"/></linearGradient>
<linearGradient id="g106" gradientUnits="userSpaceOnUse" x1="0" y1="89.38" x2="0" y2="299.1"><stop offset=".0006" stop-color="#efe54f"/><stop offset=".0363" stop-color="#f0e34e"/><stop offset=".0384" stop-color="#f6d346"/><stop offset=".0433" stop-color="#fbad3c"/><stop offset=".0546" stop-color="#f89841"/><stop offset=".0745" stop-color="#f68b45"/><stop offset=".152" stop-color="#e17161"/><stop offset=".1698" stop-color="#d76d68"/><stop offset=".2008" stop-color="#c16479"/><stop offset=".2442" stop-color="#9e5987"/><stop offset=".2652" stop-color="#8e538b"/><stop offset=".3722" stop-color="#5d3e99"/><stop offset=".4083" stop-color="#4c399a"/><stop offset=".4559" stop-color="#3b349b"/><stop offset=".4853" stop-color="#35329b"/><stop offset=".5275" stop-color="#2c328e"/><stop offset=".6228" stop-color="#1c3178"/><stop offset=".7281" stop-color="#0d3064"/><stop offset=".9089" stop-color="#082a4d"/><stop offset="1" stop-color="#072845"/></linearGradient>
<linearGradient id="g107" gradientUnits="userSpaceOnUse" x1="0" y1="89.38" x2="0" y2="299.1"><stop offset=".0006" stop-color="#f0e24e"/><stop offset=".0368" stop-color="#f1e04d"/><stop offset=".0385" stop-color="#f6d346"/><stop offset=".0437" stop-color="#fbac3c"/><stop offset=".0551" stop-color="#f89841"/><stop offset=".0745" stop-color="#f68b45"/><stop offset=".0983" stop-color="#ed8051"/><stop offset=".1222" stop-color="#e77958"/><stop offset=".146" stop-color="#de7063"/><stop offset=".1698" stop-color="#d16a6d"/><stop offset=".1918" stop-color="#c16479"/><stop offset=".2382" stop-color="#9e5987"/><stop offset=".2652" stop-color="#8c528b"/><stop offset=".3722" stop-color="#5d3e99"/><stop offset=".4083" stop-color="#4c399a"/><stop offset=".4978" stop-color="#35329b"/><stop offset=".5275" stop-color="#2e3292"/><stop offset=".6228" stop-color="#1e317b"/><stop offset=".7358" stop-color="#0d3064"/><stop offset=".9089" stop-color="#082a4d"/><stop offset="1" stop-color="#072845"/></linearGradient>
<linearGradient id="g108" gradientUnits="userSpaceOnUse" x1="0" y1="89.38" x2="0" y2="299.1"><stop offset=".0006" stop-color="#f7cd45"/><stop offset=".0511" stop-color="#f7cc44"/><stop offset=".058" stop-color="#fbac3c"/><stop offset=".0694" stop-color="#f99f40"/><stop offset=".0745" stop-color="#f79243"/><stop offset=".0859" stop-color="#f68b45"/><stop offset=".14" stop-color="#e17161"/><stop offset=".1698" stop-color="#d16a6d"/><stop offset=".1941" stop-color="#c16479"/><stop offset=".2446" stop-color="#9e5987"/><stop offset=".2652" stop-color="#91548a"/><stop offset=".3132" stop-color="#7e4d8f"/><stop offset=".3606" stop-color="#684396"/><stop offset=".4083" stop-color="#553b99"/><stop offset=".4559" stop-color="#45379a"/><stop offset=".5195" stop-color="#35329b"/><stop offset=".6228" stop-color="#21317f"/><stop offset=".7494" stop-color="#0d3064"/><stop offset=".9089" stop-color="#082a4e"/><stop offset="1" stop-color="#072845"/></linearGradient>
<linearGradient id="g109" gradientUnits="userSpaceOnUse" x1="0" y1="89.38" x2="0" y2="299.1"><stop offset=".0006" stop-color="#f8c643"/><stop offset=".0678" stop-color="#f8c442"/><stop offset=".072" stop-color="#fbad3c"/><stop offset=".0747" stop-color="#f9a03f"/><stop offset=".092" stop-color="#f68b45"/><stop offset=".0983" stop-color="#f2864b"/><stop offset=".14" stop-color="#e17161"/><stop offset=".1698" stop-color="#d16a6d"/><stop offset=".1941" stop-color="#c16479"/><stop offset=".2446" stop-color="#9e5987"/><stop offset=".2652" stop-color="#91548a"/><stop offset=".3132" stop-color="#7e4d8f"/><stop offset=".3606" stop-color="#684396"/><stop offset=".4083" stop-color="#553b99"/><stop offset=".4559" stop-color="#45379a"/><stop offset=".5195" stop-color="#35329b"/><stop offset=".6228" stop-color="#21317f"/><stop offset=".7494" stop-color="#0d3064"/><stop offset=".9089" stop-color="#082a4e"/><stop offset="1" stop-color="#072845"/></linearGradient>
<linearGradient id="g110" gradientUnits="userSpaceOnUse" x1="0" y1="89.38" x2="0" y2="299.1"><stop offset=".0006" stop-color="#f9be40"/><stop offset=".0487" stop-color="#f9bd40"/><stop offset=".0539" stop-color="#fbad3c"/><stop offset=".0594" stop-color="#f99e40"/><stop offset=".0796" stop-color="#f68b45"/><stop offset=".1222" stop-color="#e07161"/><stop offset=".1698" stop-color="#bd637b"/><stop offset=".2202" stop-color="#9e5987"/><stop offset=".3606" stop-color="#654296"/><stop offset=".4559" stop-color="#45379a"/><stop offset=".5195" stop-color="#35329b"/><stop offset=".6228" stop-color="#21317f"/><stop offset=".7494" stop-color="#0d3064"/><stop offset=".9089" stop-color="#082a4e"/><stop offset="1" stop-color="#072845"/></linearGradient>
<linearGradient id="g111" gradientUnits="userSpaceOnUse" x1="0" y1="89.38" x2="0" y2="299.1"><stop offset=".0006" stop-color="#fab33e"/><stop offset=".0432" stop-color="#fab23d"/><stop offset=".0447" stop-color="#fbad3c"/><stop offset=".0543" stop-color="#f79143"/><stop offset=".0598" stop-color="#f68b45"/><stop offset=".0658" stop-color="#f2864b"/><stop offset=".1091" stop-color="#e17161"/><stop offset=".1698" stop-color="#c06479"/><stop offset=".2224" stop-color="#9e5987"/><stop offset=".2652" stop-color="#88518c"/><stop offset=".3801" stop-color="#5d3e99"/><stop offset=".4559" stop-color="#44369a"/><stop offset=".5145" stop-color="#35329b"/><stop offset=".6228" stop-color="#20317e"/><stop offset=".7462" stop-color="#0d3064"/><stop offset=".8135" stop-color="#0b2d59"/><stop offset="1" stop-color="#072845"/></linearGradient>
<linearGradient id="g112" gradientUnits="userSpaceOnUse" x1="0" y1="89.38" x2="0" y2="299.1"><stop offset=".0006" stop-color="#fbaf3c"/><stop offset=".0559" stop-color="#fbad3c"/><stop offset=".0666" stop-color="#f79044"/><stop offset=".0714" stop-color="#f68b45"/><stop offset=".0983" stop-color="#e77958"/><stop offset=".1222" stop-color="#de7063"/><stop offset=".146" stop-color="#d16a6d"/><stop offset=".1698" stop-color="#c06479"/><stop offset=".2175" stop-color="#9d5987"/><stop offset=".2799" stop-color="#7e4d8f"/><stop offset=".3671" stop-color="#5d3e99"/><stop offset=".4559" stop-color="#42369a"/><stop offset=".5092" stop-color="#35329b"/><stop offset=".6228" stop-color="#1f317d"/><stop offset=".7428" stop-color="#0d3064"/><stop offset=".9089" stop-color="#082a4d"/><stop offset="1" stop-color="#072845"/></linearGradient>
<linearGradient id="g113" gradientUnits="userSpaceOnUse" x1="0" y1="89.38" x2="0" y2="299.1"><stop offset=".0006" stop-color="#faa83d"/><stop offset=".0707" stop-color="#faa63e"/><stop offset=".0806" stop-color="#f68e44"/><stop offset=".1329" stop-color="#e17161"/><stop offset=".1845" stop-color="#c16479"/><stop offset=".2364" stop-color="#9e5987"/><stop offset=".2652" stop-color="#8d538b"/><stop offset=".3606" stop-color="#654296"/><stop offset=".4559" stop-color="#45379a"/><stop offset=".5195" stop-color="#35329b"/><stop offset=".6228" stop-color="#21317f"/><stop offset=".7494" stop-color="#0d3064"/><stop offset=".9089" stop-color="#082a4e"/><stop offset="1" stop-color="#072845"/></linearGradient>
<linearGradient id="g114" gradientUnits="userSpaceOnUse" x1="0" y1="89.38" x2="0" y2="299.1"><stop offset=".0006" stop-color="#f9a13f"/><stop offset=".0735" stop-color="#f99f40"/><stop offset=".0827" stop-color="#f68c45"/><stop offset=".14" stop-color="#e17161"/><stop offset=".1946" stop-color="#c16479"/><stop offset=".2459" stop-color="#9e5987"/><stop offset=".2652" stop-color="#92558a"/><stop offset=".319" stop-color="#7e4d8f"/><stop offset=".3606" stop-color="#6b4495"/><stop offset=".4559" stop-color="#47379a"/><stop offset=".5275" stop-color="#34329a"/><stop offset=".6228" stop-color="#223180"/><stop offset=".7524" stop-color="#0d3064"/><stop offset=".9089" stop-color="#082a4e"/><stop offset="1" stop-color="#072845"/></linearGradient>
<linearGradient id="g115" gradientUnits="userSpaceOnUse" x1="0" y1="89.38" x2="0" y2="299.1"><stop offset=".0006" stop-color="#f99d40"/><stop offset=".0876" stop-color="#f89b41"/><stop offset=".0949" stop-color="#f68b45"/><stop offset=".0971" stop-color="#f38749"/><stop offset=".14" stop-color="#e17161"/><stop offset=".1946" stop-color="#c16479"/><stop offset=".248" stop-color="#9e5987"/><stop offset=".2652" stop-color="#945589"/><stop offset=".3262" stop-color="#7e4d8f"/><stop offset=".4083" stop-color="#5d3e99"/><stop offset=".4559" stop-color="#4a389a"/><stop offset=".5354" stop-color="#35329b"/><stop offset=".6228" stop-color="#233183"/><stop offset=".7582" stop-color="#0d3064"/><stop offset=".9089" stop-color="#092a4e"/><stop offset="1" stop-color="#072845"/></linearGradient>
<linearGradient id="g116" gradientUnits="userSpaceOnUse" x1="0" y1="89.38" x2="0" y2="299.1"><stop offset=".0006" stop-color="#f99e40"/><stop offset=".0873" stop-color="#f99d40"/><stop offset=".0954" stop-color="#f79044"/><stop offset=".1068" stop-color="#f68b45"/><stop offset=".1365" stop-color="#e97b56"/><stop offset=".146" stop-color="#e3745e"/><stop offset=".1698" stop-color="#da6e66"/><stop offset=".2175" stop-color="#be637a"/><stop offset=".2664" stop-color="#9e5987"/><stop offset=".3606" stop-color="#754992"/><stop offset=".4252" stop-color="#5d3e99"/><stop offset=".4559" stop-color="#4f3a9a"/><stop offset=".5275" stop-color="#3a349b"/><stop offset=".5518" stop-color="#35329b"/><stop offset=".6228" stop-color="#263186"/><stop offset=".7661" stop-color="#0d3064"/><stop offset=".9089" stop-color="#092a4e"/><stop offset="1" stop-color="#072845"/></linearGradient>
<linearGradient id="g117" gradientUnits="userSpaceOnUse" x1="0" y1="89.38" x2="0" y2="299.1"><stop offset=".0006" stop-color="#f89742"/><stop offset=".0899" stop-color="#f89642"/><stop offset=".0946" stop-color="#f68b45"/><stop offset=".0995" stop-color="#ef824e"/><stop offset=".1222" stop-color="#e3745e"/><stop offset=".1698" stop-color="#d16a6d"/><stop offset=".1957" stop-color="#c16479"/><stop offset=".2487" stop-color="#9e5987"/><stop offset=".2652" stop-color="#945589"/><stop offset=".3262" stop-color="#7e4d8f"/><stop offset=".3606" stop-color="#6f4694"/><stop offset=".4151" stop-color="#5d3e99"/><stop offset=".4559" stop-color="#4c399a"/><stop offset=".5411" stop-color="#35329b"/><stop offset=".7182" stop-color="#13306c"/><stop offset=".761" stop-color="#0d3064"/><stop offset=".9089" stop-color="#092a4e"/><stop offset="1" stop-color="#072845"/></linearGradient>
<linearGradient id="g118" gradientUnits="userSpaceOnUse" x1="0" y1="89.38" x2="0" y2="299.1"><stop offset=".0006" stop-color="#f68c45"/><stop offset=".1021" stop-color="#f68b45"/><stop offset=".1113" stop-color="#ea7c55"/><stop offset=".1332" stop-color="#e17161"/><stop offset=".1698" stop-color="#d16a6d"/><stop offset=".1922" stop-color="#c16479"/><stop offset=".2175" stop-color="#ad5e81"/><stop offset=".2652" stop-color="#8f538b"/><stop offset=".3194" stop-color="#7e4d8f"/><stop offset=".3606" stop-color="#6c4594"/><stop offset=".4083" stop-color="#5d3e99"/><stop offset=".4559" stop-color="#4a389a"/><stop offset=".5354" stop-color="#35329b"/><stop offset=".6228" stop-color="#233183"/><stop offset=".7582" stop-color="#0d3064"/><stop offset=".9089" stop-color="#092a4e"/><stop offset="1" stop-color="#072845"/></linearGradient>
<linearGradient id="g119" gradientUnits="userSpaceOnUse" x1="0" y1="89.38" x2="0" y2="299.1"><stop offset=".0006" stop-color="#f58a46"/><stop offset=".1195" stop-color="#f48947"/><stop offset=".1276" stop-color="#ec7f52"/><stop offset=".139" stop-color="#e97b56"/><stop offset=".146" stop-color="#e3745e"/><stop offset=".1698" stop-color="#da6e66"/><stop offset=".2175" stop-color="#be637a"/><stop offset=".2664" stop-color="#9e5987"/><stop offset=".3129" stop-color="#8a528c"/><stop offset=".4323" stop-color="#5d3e99"/><stop offset=".4559" stop-color="#523b9a"/><stop offset=".5616" stop-color="#35329b"/><stop offset=".6228" stop-color="#273188"/><stop offset=".7182" stop-color="#15306f"/><stop offset=".771" stop-color="#0d3064"/><stop offset=".9089" stop-color="#092a4e"/><stop offset="1" stop-color="#072845"/></linearGradient>
<linearGradient id="g120" gradientUnits="userSpaceOnUse" x1="0" y1="89.38" x2="0" y2="299.1"><stop offset=".0006" stop-color="#f78f44"/><stop offset=".1079" stop-color="#f68d44"/><stop offset=".1222" stop-color="#f0834d"/><stop offset=".1698" stop-color="#de7063"/><stop offset=".2175" stop-color="#bc637b"/><stop offset=".2652" stop-color="#985788"/><stop offset=".4252" stop-color="#5d3e99"/><stop offset=".4559" stop-color="#4f3a9a"/><stop offset=".5275" stop-color="#3a349b"/><stop offset=".5518" stop-color="#35329b"/><stop offset=".6228" stop-color="#263186"/><stop offset=".7661" stop-color="#0d3064"/><stop offset=".9089" stop-color="#092a4e"/><stop offset="1" stop-color="#072845"/></linearGradient>
<linearGradient id="g121" gradientUnits="userSpaceOnUse" x1="0" y1="89.38" x2="0" y2="299.1"><stop offset=".0006" stop-color="#f58a46"/><stop offset=".1262" stop-color="#f48947"/><stop offset=".135" stop-color="#e97b56"/><stop offset=".157" stop-color="#e17161"/><stop offset=".2072" stop-color="#c16479"/><stop offset=".2652" stop-color="#985788"/><stop offset=".4228" stop-color="#5d3e99"/><stop offset=".4559" stop-color="#4f3a9a"/><stop offset=".5275" stop-color="#3a349b"/><stop offset=".5518" stop-color="#35329b"/><stop offset=".6228" stop-color="#263186"/><stop offset=".7661" stop-color="#0d3064"/><stop offset=".9089" stop-color="#092a4e"/><stop offset="1" stop-color="#072845"/></linearGradient>
<linearGradient id="g122" gradientUnits="userSpaceOnUse" x1="0" y1="89.38" x2="0" y2="299.1"><stop offset=".0006" stop-color="#f79343"/><stop offset=".127" stop-color="#f79243"/><stop offset=".1299" stop-color="#f68b45"/><stop offset=".1364" stop-color="#ed8051"/><stop offset=".1479" stop-color="#e77958"/><stop offset=".1698" stop-color="#e07161"/><stop offset=".2175" stop-color="#bd637b"/><stop offset=".2652" stop-color="#985788"/><stop offset=".4228" stop-color="#5d3e99"/><stop offset=".4559" stop-color="#4f3a9a"/><stop offset=".5275" stop-color="#3a349b"/><stop offset=".5518" stop-color="#35329b"/><stop offset=".6228" stop-color="#263186"/><stop offset=".7661" stop-color="#0d3064"/><stop offset=".9089" stop-color="#092a4e"/><stop offset="1" stop-color="#072845"/></linearGradient>
<linearGradient id="g123" gradientUnits="userSpaceOnUse" x1="0" y1="89.38" x2="0" y2="299.1"><stop offset=".0006" stop-color="#f89742"/><stop offset=".1162" stop-color="#f89642"/><stop offset=".1208" stop-color="#f68b45"/><stop offset=".1258" stop-color="#ef824e"/><stop offset=".146" stop-color="#e3745e"/><stop offset=".1698" stop-color="#da6e66"/><stop offset=".2038" stop-color="#c16479"/><stop offset=".2485" stop-color="#9e5987"/><stop offset=".2652" stop-color="#92558a"/><stop offset=".3194" stop-color="#7e4d8f"/><stop offset=".3606" stop-color="#6c4594"/><stop offset=".4083" stop-color="#5d3e99"/><stop offset=".4559" stop-color="#4a389a"/><stop offset=".5354" stop-color="#35329b"/><stop offset=".6228" stop-color="#233183"/><stop offset=".7582" stop-color="#0d3064"/><stop offset=".9089" stop-color="#092a4e"/><stop offset="1" stop-color="#072845"/></linearGradient>
<linearGradient id="g124" gradientUnits="userSpaceOnUse" x1="0" y1="89.38" x2="0" y2="299.1"><stop offset=".0006" stop-color="#f79343"/><stop offset=".0964" stop-color="#f79243"/><stop offset=".0986" stop-color="#f68b45"/><stop offset=".1098" stop-color="#e07161"/><stop offset=".1698" stop-color="#bd637b"/><stop offset=".2175" stop-color="#975789"/><stop offset=".2652" stop-color="#7a4b90"/><stop offset=".3129" stop-color="#664296"/><stop offset=".4978" stop-color="#35329b"/><stop offset=".5275" stop-color="#2e3292"/><stop offset=".6228" stop-color="#1e317b"/><stop offset=".7358" stop-color="#0d3064"/><stop offset=".9089" stop-color="#082a4d"/><stop offset="1" stop-color="#072845"/></linearGradient>
<linearGradient id="g125" gradientUnits="userSpaceOnUse" x1="0" y1="89.38" x2="0" y2="299.1"><stop offset=".0006" stop-color="#f99d40"/><stop offset=".1222" stop-color="#f89b41"/><stop offset=".1415" stop-color="#f68b45"/><stop offset=".1508" stop-color="#f2864b"/><stop offset=".1603" stop-color="#e77958"/><stop offset=".1799" stop-color="#e17161"/><stop offset=".2344" stop-color="#c16479"/><stop offset=".2652" stop-color="#ae5e81"/><stop offset=".3606" stop-color="#8b528c"/><stop offset=".4085" stop-color="#7e4d8f"/><stop offset=".4559" stop-color="#684396"/><stop offset=".6467" stop-color="#35329b"/><stop offset=".7182" stop-color="#223180"/><stop offset=".8209" stop-color="#0d3064"/><stop offset=".9089" stop-color="#0a2c53"/><stop offset="1" stop-color="#072845"/></linearGradient>
<linearGradient id="g126" gradientUnits="userSpaceOnUse" x1="0" y1="89.38" x2="0" y2="299.1"><stop offset=".0006" stop-color="#f89742"/><stop offset=".084" stop-color="#f89642"/><stop offset=".0936" stop-color="#f68b45"/><stop offset=".1222" stop-color="#f2864b"/><stop offset=".1412" stop-color="#e97b56"/><stop offset=".1698" stop-color="#e07161"/><stop offset=".2226" stop-color="#c16479"/><stop offset=".2652" stop-color="#a75c83"/><stop offset=".3129" stop-color="#945589"/><stop offset=".4083" stop-color="#774a91"/><stop offset=".4559" stop-color="#644197"/><stop offset=".6355" stop-color="#35329b"/><stop offset=".7182" stop-color="#20317e"/><stop offset=".8135" stop-color="#0d3063"/><stop offset=".9089" stop-color="#092b52"/><stop offset="1" stop-color="#072845"/></linearGradient>
<linearGradient id="g127" gradientUnits="userSpaceOnUse" x1="0" y1="89.38" x2="0" y2="299.1"><stop offset=".0006" stop-color="#f9a13f"/><stop offset=".0316" stop-color="#f99f40"/><stop offset=".0506" stop-color="#f68b45"/><stop offset=".0745" stop-color="#ed8051"/><stop offset=".0983" stop-color="#e77958"/><stop offset=".1219" stop-color="#de7063"/><stop offset=".132" stop-color="#cd6970"/><stop offset=".146" stop-color="#c06479"/><stop offset=".2175" stop-color="#975689"/><stop offset=".3619" stop-color="#5d3e99"/><stop offset=".4083" stop-color="#4c399a"/><stop offset=".4978" stop-color="#35329b"/><stop offset=".5275" stop-color="#2e3292"/><stop offset=".6228" stop-color="#1e317b"/><stop offset=".7358" stop-color="#0d3064"/><stop offset=".9089" stop-color="#082a4d"/><stop offset="1" stop-color="#072845"/></linearGradient>
<linearGradient id="g128" gradientUnits="userSpaceOnUse" x1="0" y1="89.38" x2="0" y2="299.1"><stop offset=".0006" stop-color="#faa83d"/><stop offset=".0316" stop-color="#faa63e"/><stop offset=".0506" stop-color="#f79243"/><stop offset=".0602" stop-color="#f68b45"/><stop offset=".0983" stop-color="#e77958"/><stop offset=".1222" stop-color="#e07161"/><stop offset=".1779" stop-color="#c16479"/><stop offset=".227" stop-color="#9e5987"/><stop offset=".2652" stop-color="#8a518c"/><stop offset=".3793" stop-color="#5d3e99"/><stop offset=".4083" stop-color="#503a9a"/><stop offset=".5092" stop-color="#35329b"/><stop offset=".6228" stop-color="#1f317d"/><stop offset=".7428" stop-color="#0d3064"/><stop offset=".9089" stop-color="#082a4d"/><stop offset="1" stop-color="#072845"/></linearGradient>
<linearGradient id="g129" gradientUnits="userSpaceOnUse" x1="0" y1="89.38" x2="0" y2="299.1"><stop offset=".0006" stop-color="#fbaf3c"/><stop offset=".0269" stop-color="#fbad3c"/><stop offset=".0473" stop-color="#f89841"/><stop offset=".0537" stop-color="#f68b45"/><stop offset=".0565" stop-color="#f2874a"/><stop offset=".0679" stop-color="#ed8051"/><stop offset=".0764" stop-color="#e07161"/><stop offset=".0939" stop-color="#c16479"/><stop offset=".0983" stop-color="#b9617c"/><stop offset=".1698" stop-color="#90548b"/><stop offset=".2175" stop-color="#794b90"/><stop offset=".2938" stop-color="#5d3e99"/><stop offset=".3606" stop-color="#42369a"/><stop offset=".4083" stop-color="#34329a"/><stop offset=".4559" stop-color="#2a318b"/><stop offset=".5275" stop-color="#1e317c"/><stop offset=".6788" stop-color="#0d3064"/><stop offset=".9089" stop-color="#082a4c"/><stop offset="1" stop-color="#072845"/></linearGradient>
<linearGradient id="cb" x1="0" y1="1" x2="0" y2="0"><stop offset="0" stop-color="#032333"/><stop offset=".0909" stop-color="#0d3064"/><stop offset=".1818" stop-color="#35329b"/><stop offset=".2727" stop-color="#5d3e99"/><stop offset=".3636" stop-color="#7e4d8f"/><stop offset=".4545" stop-color="#9e5987"/><stop offset=".5455" stop-color="#c16479"/><stop offset=".6364" stop-color="#e17161"/><stop offset=".7273" stop-color="#f68b45"/><stop offset=".8182" stop-color="#fbad3c"/><stop offset=".9091" stop-color="#f6d346"/><stop offset="1" stop-color="#e7fa5a"/></linearGradient>
</defs>
<g id="profiles" stroke-width="5.06" stroke-linecap="round">
<g fill="url(#g0)"><path transform="translate(0 1.44)" d="M211.87 89.76H217V295.86H211.87zM211.92 90.47a2.53 2.53 0 1 1 5.06 0a2.53 2.53 0 1 1 -5.06 0zM211.92 295.13a2.53 2.53 0 1 1 5.06 0a2.53 2.53 0 1 1 -5.06 0z"/>
<rect transform="translate(0 .52)" x="212.48" y="91.39" width="3.95" height="204.66"/>
<rect x="213.44" y="91.91" width="2.02" height="204.66"/></g>
<g fill="url(#g1)"><path transform="translate(0 1.44)" d="M218.03 89.76H223.98V295.86H218.03zM218.49 90.47a2.53 2.53 0 1 1 5.06 0a2.53 2.53 0 1 1 -5.06 0zM218.49 295.13a2.53 2.53 0 1 1 5.06 0a2.53 2.53 0 1 1 -5.06 0z"/>
<rect transform="translate(0 .52)" x="219.04" y="91.39" width="3.95" height="204.66"/>
<rect x="220" y="91.91" width="2.02" height="204.66"/></g>
<g fill="url(#g2)"><path transform="translate(0 1.44)" d="M224.02 89.76H229.97V295.86H224.02zM224.45 90.47a2.53 2.53 0 1 1 5.06 0a2.53 2.53 0 1 1 -5.06 0zM224.45 295.13a2.53 2.53 0 1 1 5.06 0a2.53 2.53 0 1 1 -5.06 0z"/>
<rect transform="translate(0 .52)" x="225.01" y="91.39" width="3.95" height="204.66"/>
<rect x="225.97" y="91.91" width="2.02" height="204.66"/></g>
<g fill="url(#g3)"><path transform="translate(0 1.44)" d="M230.01 89.76H235.95V295.86H230.01zM230.41 90.47a2.53 2.53 0 1 1 5.06 0a2.53 2.53 0 1 1 -5.06 0zM230.41 295.13a2.53 2.53 0 1 1 5.06 0a2.53 2.53 0 1 1 -5.06 0z"/>
<rect transform="translate(0 .52)" x="230.97" y="91.39" width="3.95" height="204.66"/>
<rect x="231.93" y="91.91" width="2.02" height="204.66"/></g>
<g fill="url(#g4)"><path transform="translate(0 1.44)" d="M236.98 89.76H242.04V295.86H236.98zM236.98 90.47a2.53 2.53 0 1 1 5.06 0a2.53 2.53 0 1 1 -5.06 0zM236.98 295.13a2.53 2.53 0 1 1 5.06 0a2.53 2.53 0 1 1 -5.06 0z"/>
<rect transform="translate(0 .52)" x="237.53" y="91.39" width="3.95" height="204.66"/>
<rect x="238.49" y="91.91" width="2.02" height="204.66"/></g>
<g fill="url(#g5)"><path transform="translate(0 1.44)" d="M242.91 89.76H248V295.86H242.91zM242.94 90.47a2.53 2.53 0 1 1 5.06 0a2.53 2.53 0 1 1 -5.06 0zM242.94 295.13a2.53 2.53 0 1 1 5.06 0a2.53 2.53 0 1 1 -5.06 0z"/>
<rect transform="translate(0 .52)" x="243.5" y="91.39" width="3.95" height="204.66"/>
<rect x="244.46" y="91.91" width="2.02" height="204.66"/></g>
<g fill="url(#g6)"><path transform="translate(0 1.44)" d="M248.8 89.76H254V295.86H248.8zM248.9 90.47a2.53 2.53 0 1 1 5.06 0a2.53 2.53 0 1 1 -5.06 0zM248.9 295.13a2.53 2.53 0 1 1 5.06 0a2.53 2.53 0 1 1 -5.06 0z"/>
<rect transform="translate(0 .52)" x="249.46" y="91.39" width="3.95" height="204.66"/>
<rect x="250.42" y="91.91" width="2.02" height="204.66"/></g>
<g fill="url(#g7)"><path transform="translate(0 1.44)" d="M255.02 89.76H260.98V295.86H255.02zM255.46 90.47a2.53 2.53 0 1 1 5.06 0a2.53 2.53 0 1 1 -5.06 0zM255.46 295.13a2.53 2.53 0 1 1 5.06 0a2.53 2.53 0 1 1 -5.06 0z"/>
<rect transform="translate(0 .52)" x="256.02" y="91.39" width="3.95" height="204.66"/>
<rect x="256.98" y="91.91" width="2.02" height="204.66"/></g>
<g fill="url(#g8)"><path transform="translate(0 1.44)" d="M261.01 89.76H266.96V295.86H261.01zM261.43 90.47a2.53 2.53 0 1 1 5.06 0a2.53 2.53 0 1 1 -5.06 0zM261.43 295.13a2.53 2.53 0 1 1 5.06 0a2.53 2.53 0 1 1 -5.06 0z"/>
<rect transform="translate(0 .52)" x="261.99" y="91.39" width="3.95" height="204.66"/>
<rect x="262.95" y="91.91" width="2.02" height="204.66"/></g>
<g fill="url(#g9)"><path transform="translate(0 1.44)" d="M267 89.76H272.94V295.86H267zM267.39 90.47a2.53 2.53 0 1 1 5.06 0a2.53 2.53 0 1 1 -5.06 0zM267.39 295.13a2.53 2.53 0 1 1 5.06 0a2.53 2.53 0 1 1 -5.06 0z"/>
<rect transform="translate(0 .52)" x="267.95" y="91.39" width="3.95" height="204.66"/>
<rect x="268.91" y="91.91" width="2.02" height="204.66"/></g>
<g fill="url(#g10)"><path transform="translate(0 1.44)" d="M273.94 89.76H279.01V295.86H273.94zM273.95 90.47a2.53 2.53 0 1 1 5.06 0a2.53 2.53 0 1 1 -5.06 0zM273.95 295.13a2.53 2.53 0 1 1 5.06 0a2.53 2.53 0 1 1 -5.06 0z"/>
<rect transform="translate(0 .52)" x="274.51" y="91.39" width="3.95" height="204.66"/>
<rect x="275.47" y="91.91" width="2.02" height="204.66"/></g>
<g fill="url(#g11)"><path transform="translate(0 1.44)" d="M279.86 89.76H285V295.86H279.86zM279.92 90.47a2.53 2.53 0 1 1 5.06 0a2.53 2.53 0 1 1 -5.06 0zM279.92 295.13a2.53 2.53 0 1 1 5.06 0a2.53 2.53 0 1 1 -5.06 0z"/>
<rect transform="translate(0 .52)" x="280.48" y="91.39" width="3.95" height="204.66"/>
<rect x="281.44" y="91.91" width="2.02" height="204.66"/></g>
<g fill="url(#g12)"><path transform="translate(0 1.44)" d="M285.73 89.76H291V295.86H285.73zM285.88 90.47a2.53 2.53 0 1 1 5.06 0a2.53 2.53 0 1 1 -5.06 0zM285.88 295.13a2.53 2.53 0 1 1 5.06 0a2.53 2.53 0 1 1 -5.06 0z"/>
<rect transform="translate(0 .52)" x="286.44" y="91.39" width="3.95" height="204.66"/>
<rect x="287.4" y="91.91" width="2.02" height="204.66"/></g>
<g fill="url(#g13)"><path transform="translate(0 1.44)" d="M292.01 89.76H297.97V295.86H292.01zM292.44 90.47a2.53 2.53 0 1 1 5.06 0a2.53 2.53 0 1 1 -5.06 0zM292.44 295.13a2.53 2.53 0 1 1 5.06 0a2.53 2.53 0 1 1 -5.06 0z"/>
<rect transform="translate(0 .52)" x="293" y="91.39" width="3.95" height="204.66"/>
<rect x="293.96" y="91.91" width="2.02" height="204.66"/></g>
<g fill="url(#g14)"><path transform="translate(0 1.44)" d="M298.01 89.76H303.95V295.86H298.01zM298.41 90.47a2.53 2.53 0 1 1 5.06 0a2.53 2.53 0 1 1 -5.06 0zM298.41 295.13a2.53 2.53 0 1 1 5.06 0a2.53 2.53 0 1 1 -5.06 0z"/>
<rect transform="translate(0 .52)" x="298.96" y="91.39" width="3.95" height="204.66"/>
<rect x="299.93" y="91.91" width="2.02" height="204.66"/></g>
<g fill="url(#g15)"><path transform="translate(0 1.44)" d="M304 89.76H309.92V295.86H304zM304.37 90.47a2.53 2.53 0 1 1 5.06 0a2.53 2.53 0 1 1 -5.06 0zM304.37 295.13a2.53 2.53 0 1 1 5.06 0a2.53 2.53 0 1 1 -5.06 0z"/>
<rect transform="translate(0 .52)" x="304.93" y="91.39" width="3.95" height="204.66"/>
<rect x="305.89" y="91.91" width="2.02" height="204.66"/></g>
<g fill="url(#g16)"><path transform="translate(0 1.44)" d="M310 89.76H315.9V295.86H310zM310.34 90.47a2.53 2.53 0 1 1 5.06 0a2.53 2.53 0 1 1 -5.06 0zM310.34 295.13a2.53 2.53 0 1 1 5.06 0a2.53 2.53 0 1 1 -5.06 0z"/>
<rect transform="translate(0 .52)" x="310.89" y="91.39" width="3.95" height="204.66"/>
<rect x="311.86" y="91.91" width="2.02" height="204.66"/></g>
<g fill="url(#g17)"><path transform="translate(0 1.44)" d="M316.78 89.76H322V295.86H316.78zM316.9 90.47a2.53 2.53 0 1 1 5.06 0a2.53 2.53 0 1 1 -5.06 0zM316.9 295.13a2.53 2.53 0 1 1 5.06 0a2.53 2.53 0 1 1 -5.06 0z"/>
<rect transform="translate(0 .52)" x="317.45" y="91.39" width="3.95" height="204.66"/>
<rect x="318.42" y="91.91" width="2.02" height="204.66"/></g>
<g fill="url(#g18)"><path transform="translate(0 1.44)" d="M322.68 89.76H328V295.86H322.68zM322.86 90.47a2.53 2.53 0 1 1 5.06 0a2.53 2.53 0 1 1 -5.06 0zM322.86 295.13a2.53 2.53 0 1 1 5.06 0a2.53 2.53 0 1 1 -5.06 0z"/>
<rect transform="translate(0 .52)" x="323.42" y="91.39" width="3.95" height="204.66"/>
<rect x="324.38" y="91.91" width="2.02" height="204.66"/></g>
<g fill="url(#g19)"><path transform="translate(0 1.44)" d="M328.56 89.76H334V295.86H328.56zM328.83 90.47a2.53 2.53 0 1 1 5.06 0a2.53 2.53 0 1 1 -5.06 0zM328.83 295.13a2.53 2.53 0 1 1 5.06 0a2.53 2.53 0 1 1 -5.06 0z"/>
<rect transform="translate(0 .52)" x="329.38" y="91.39" width="3.95" height="204.66"/>
<rect x="330.34" y="91.91" width="2.02" height="204.66"/></g>
<g fill="url(#g20)"><path transform="translate(0 1.44)" d="M335 89.76H340.93V295.86H335zM335.39 90.47a2.53 2.53 0 1 1 5.06 0a2.53 2.53 0 1 1 -5.06 0zM335.39 295.13a2.53 2.53 0 1 1 5.06 0a2.53 2.53 0 1 1 -5.06 0z"/>
<rect transform="translate(0 .52)" x="335.94" y="91.39" width="3.95" height="204.66"/>
<rect x="336.91" y="91.91" width="2.02" height="204.66"/></g>
<g fill="url(#g21)"><path transform="translate(0 1.44)" d="M341 89.76H346.91V295.86H341zM341.35 90.47a2.53 2.53 0 1 1 5.06 0a2.53 2.53 0 1 1 -5.06 0zM341.35 295.13a2.53 2.53 0 1 1 5.06 0a2.53 2.53 0 1 1 -5.06 0z"/>
<rect transform="translate(0 .52)" x="341.91" y="91.39" width="3.95" height="204.66"/>
<rect x="342.87" y="91.91" width="2.02" height="204.66"/></g>
<g fill="url(#g22)"><path transform="translate(0 1.44)" d="M347 89.76H352.87V295.86H347zM347.32 90.47a2.53 2.53 0 1 1 5.06 0a2.53 2.53 0 1 1 -5.06 0zM347.32 295.13a2.53 2.53 0 1 1 5.06 0a2.53 2.53 0 1 1 -5.06 0z"/>
<rect transform="translate(0 .52)" x="347.87" y="91.39" width="3.95" height="204.66"/>
<rect x="348.83" y="91.91" width="2.02" height="204.66"/></g>
<g fill="url(#g23)"><path transform="translate(0 1.44)" d="M353.72 89.76H359V295.86H353.72zM353.88 90.47a2.53 2.53 0 1 1 5.06 0a2.53 2.53 0 1 1 -5.06 0zM353.88 295.13a2.53 2.53 0 1 1 5.06 0a2.53 2.53 0 1 1 -5.06 0z"/>
<rect transform="translate(0 .52)" x="354.43" y="91.39" width="3.95" height="204.66"/>
<rect x="355.4" y="91.91" width="2.02" height="204.66"/></g>
<g fill="url(#g24)"><path transform="translate(0 1.44)" d="M359.61 89.76H365V295.86H359.61zM359.84 90.47a2.53 2.53 0 1 1 5.06 0a2.53 2.53 0 1 1 -5.06 0zM359.84 295.13a2.53 2.53 0 1 1 5.06 0a2.53 2.53 0 1 1 -5.06 0z"/>
<rect transform="translate(0 .52)" x="360.4" y="91.39" width="3.95" height="204.66"/>
<rect x="361.36" y="91.91" width="2.02" height="204.66"/></g>
<g fill="url(#g25)"><path transform="translate(0 1.44)" d="M365.5 89.76H371V295.86H365.5zM365.81 90.47a2.53 2.53 0 1 1 5.06 0a2.53 2.53 0 1 1 -5.06 0zM365.81 295.13a2.53 2.53 0 1 1 5.06 0a2.53 2.53 0 1 1 -5.06 0z"/>
<rect transform="translate(0 .52)" x="366.36" y="91.39" width="3.95" height="204.66"/>
<rect x="367.32" y="91.91" width="2.02" height="204.66"/></g>
<g fill="url(#g26)"><path transform="translate(0 1.44)" d="M372 89.76H377.92V295.86H372zM372.37 90.47a2.53 2.53 0 1 1 5.06 0a2.53 2.53 0 1 1 -5.06 0zM372.37 295.13a2.53 2.53 0 1 1 5.06 0a2.53 2.53 0 1 1 -5.06 0z"/>
<rect transform="translate(0 .52)" x="372.92" y="91.39" width="3.95" height="204.66"/>
<rect x="373.89" y="91.91" width="2.02" height="204.66"/></g>
<g fill="url(#g27)"><path transform="translate(0 1.44)" d="M378 89.76H383.89V295.86H378zM378.33 90.47a2.53 2.53 0 1 1 5.06 0a2.53 2.53 0 1 1 -5.06 0zM378.33 295.13a2.53 2.53 0 1 1 5.06 0a2.53 2.53 0 1 1 -5.06 0z"/>
<rect transform="translate(0 .52)" x="378.89" y="91.39" width="3.95" height="204.66"/>
<rect x="379.85" y="91.91" width="2.02" height="204.66"/></g>
<g fill="url(#g28)"><path transform="translate(0 1.44)" d="M384 89.76H389.84V295.86H384zM384.3 90.47a2.53 2.53 0 1 1 5.06 0a2.53 2.53 0 1 1 -5.06 0zM384.3 295.13a2.53 2.53 0 1 1 5.06 0a2.53 2.53 0 1 1 -5.06 0z"/>
<rect transform="translate(0 .52)" x="384.85" y="91.39" width="3.95" height="204.66"/>
<rect x="385.81" y="91.91" width="2.02" height="204.66"/></g>
<g fill="url(#g29)"><path transform="translate(0 1.44)" d="M390.65 89.76H396V295.86H390.65zM390.86 90.47a2.53 2.53 0 1 1 5.06 0a2.53 2.53 0 1 1 -5.06 0zM390.86 295.13a2.53 2.53 0 1 1 5.06 0a2.53 2.53 0 1 1 -5.06 0z"/>
<rect transform="translate(0 .52)" x="391.41" y="91.39" width="3.95" height="204.66"/>
<rect x="392.37" y="91.91" width="2.02" height="204.66"/></g>
<g fill="url(#g30)"><path transform="translate(0 1.44)" d="M396.54 89.76H402V295.86H396.54zM396.82 90.47a2.53 2.53 0 1 1 5.06 0a2.53 2.53 0 1 1 -5.06 0zM396.82 295.13a2.53 2.53 0 1 1 5.06 0a2.53 2.53 0 1 1 -5.06 0z"/>
<rect transform="translate(0 .52)" x="397.38" y="91.39" width="3.95" height="204.66"/>
<rect x="398.34" y="91.91" width="2.02" height="204.66"/></g>
<g fill="url(#g31)"><path transform="translate(0 1.44)" d="M402.44 89.76H408V295.86H402.44zM402.79 90.47a2.53 2.53 0 1 1 5.06 0a2.53 2.53 0 1 1 -5.06 0zM402.79 295.13a2.53 2.53 0 1 1 5.06 0a2.53 2.53 0 1 1 -5.06 0z"/>
<rect transform="translate(0 .52)" x="403.34" y="91.39" width="3.95" height="204.66"/>
<rect x="404.3" y="91.91" width="2.02" height="204.66"/></g>
<g fill="url(#g32)"><path transform="translate(0 1.44)" d="M409 89.76H414.9V295.86H409zM409.35 90.47a2.53 2.53 0 1 1 5.06 0a2.53 2.53 0 1 1 -5.06 0zM409.35 295.13a2.53 2.53 0 1 1 5.06 0a2.53 2.53 0 1 1 -5.06 0z"/>
<rect transform="translate(0 .52)" x="409.9" y="91.39" width="3.95" height="204.66"/>
<rect x="410.86" y="91.91" width="2.02" height="204.66"/></g>
<g fill="url(#g33)"><path transform="translate(0 1.44)" d="M415 89.76H420.86V295.86H415zM415.31 90.47a2.53 2.53 0 1 1 5.06 0a2.53 2.53 0 1 1 -5.06 0zM415.31 295.13a2.53 2.53 0 1 1 5.06 0a2.53 2.53 0 1 1 -5.06 0z"/>
<rect transform="translate(0 .52)" x="415.87" y="91.39" width="3.95" height="204.66"/>
<rect x="416.83" y="91.91" width="2.02" height="204.66"/></g>
<g fill="url(#g34)"><path transform="translate(0 1.44)" d="M421 89.76H426.81V295.86H421zM421.28 90.47a2.53 2.53 0 1 1 5.06 0a2.53 2.53 0 1 1 -5.06 0zM421.28 295.13a2.53 2.53 0 1 1 5.06 0a2.53 2.53 0 1 1 -5.06 0z"/>
<rect transform="translate(0 .52)" x="421.83" y="91.39" width="3.95" height="204.66"/>
<rect x="422.79" y="91.91" width="2.02" height="204.66"/></g>
<g fill="url(#g35)"><path transform="translate(0 1.44)" d="M427.58 89.76H433V295.86H427.58zM427.84 90.47a2.53 2.53 0 1 1 5.06 0a2.53 2.53 0 1 1 -5.06 0zM427.84 295.13a2.53 2.53 0 1 1 5.06 0a2.53 2.53 0 1 1 -5.06 0z"/>
<rect transform="translate(0 .52)" x="428.39" y="91.39" width="3.95" height="204.66"/>
<rect x="429.35" y="91.91" width="2.02" height="204.66"/></g>
<g fill="url(#g36)"><path transform="translate(0 1.44)" d="M429 89.76H434.17V295.86H429zM429.03 90.47a2.53 2.53 0 1 1 5.06 0a2.53 2.53 0 1 1 -5.06 0zM429.03 295.13a2.53 2.53 0 1 1 5.06 0a2.53 2.53 0 1 1 -5.06 0z"/>
<rect transform="translate(0 .52)" x="429.59" y="91.39" width="3.95" height="204.66"/>
<rect x="430.55" y="91.91" width="2.02" height="204.66"/></g>
<g fill="url(#g37)"><path transform="translate(0 1.44)" d="M434.99 89.76H440.08V295.86H434.99zM434.99 90.47a2.53 2.53 0 1 1 5.06 0a2.53 2.53 0 1 1 -5.06 0zM434.99 295.13a2.53 2.53 0 1 1 5.06 0a2.53 2.53 0 1 1 -5.06 0z"/>
<rect transform="translate(0 .52)" x="435.55" y="91.39" width="3.95" height="204.66"/>
<rect x="436.51" y="91.91" width="2.02" height="204.66"/></g>
<g fill="url(#g38)"><path transform="translate(0 1.44)" d="M440.94 89.76H446.01V295.86H440.94zM440.96 90.47a2.53 2.53 0 1 1 5.06 0a2.53 2.53 0 1 1 -5.06 0zM440.96 295.13a2.53 2.53 0 1 1 5.06 0a2.53 2.53 0 1 1 -5.06 0z"/>
<rect transform="translate(0 .52)" x="441.51" y="91.39" width="3.95" height="204.66"/>
<rect x="442.48" y="91.91" width="2.02" height="204.66"/></g>
<g fill="url(#g39)"><path transform="translate(0 1.44)" d="M447.04 89.76H452.99V295.86H447.04zM447.52 90.47a2.53 2.53 0 1 1 5.06 0a2.53 2.53 0 1 1 -5.06 0zM447.52 295.13a2.53 2.53 0 1 1 5.06 0a2.53 2.53 0 1 1 -5.06 0z"/>
<rect transform="translate(0 .52)" x="448.08" y="91.39" width="3.95" height="204.66"/>
<rect x="449.04" y="91.91" width="2.02" height="204.66"/></g>
<g fill="url(#g40)"><path transform="translate(0 1.44)" d="M453.03 89.76H458.98V295.86H453.03zM453.48 90.47a2.53 2.53 0 1 1 5.06 0a2.53 2.53 0 1 1 -5.06 0zM453.48 295.13a2.53 2.53 0 1 1 5.06 0a2.53 2.53 0 1 1 -5.06 0z"/>
<rect transform="translate(0 .52)" x="454.04" y="91.39" width="3.95" height="204.66"/>
<rect x="455" y="91.91" width="2.02" height="204.66"/></g>
<g fill="url(#g41)"><path transform="translate(0 1.44)" d="M459.01 89.76H464.97V295.86H459.01zM459.45 90.47a2.53 2.53 0 1 1 5.06 0a2.53 2.53 0 1 1 -5.06 0zM459.45 295.13a2.53 2.53 0 1 1 5.06 0a2.53 2.53 0 1 1 -5.06 0z"/>
<rect transform="translate(0 .52)" x="460" y="91.39" width="3.95" height="204.66"/>
<rect x="460.97" y="91.91" width="2.02" height="204.66"/></g>
<g fill="url(#g42)"><path transform="translate(0 1.44)" d="M466 89.76H471.11V295.86H466zM466.01 90.47a2.53 2.53 0 1 1 5.06 0a2.53 2.53 0 1 1 -5.06 0zM466.01 295.13a2.53 2.53 0 1 1 5.06 0a2.53 2.53 0 1 1 -5.06 0z"/>
<rect transform="translate(0 .52)" x="466.56" y="91.39" width="3.95" height="204.66"/>
<rect x="467.53" y="91.91" width="2.02" height="204.66"/></g>
<g fill="url(#g43)"><path transform="translate(0 1.44)" d="M471.97 89.76H477.03V295.86H471.97zM471.97 90.47a2.53 2.53 0 1 1 5.06 0a2.53 2.53 0 1 1 -5.06 0zM471.97 295.13a2.53 2.53 0 1 1 5.06 0a2.53 2.53 0 1 1 -5.06 0z"/>
<rect transform="translate(0 .52)" x="472.53" y="91.39" width="3.95" height="204.66"/>
<rect x="473.49" y="91.91" width="2.02" height="204.66"/></g>
<g fill="url(#g44)"><path transform="translate(0 1.44)" d="M477.9 89.76H483V295.86H477.9zM477.94 90.47a2.53 2.53 0 1 1 5.06 0a2.53 2.53 0 1 1 -5.06 0zM477.94 295.13a2.53 2.53 0 1 1 5.06 0a2.53 2.53 0 1 1 -5.06 0z"/>
<rect transform="translate(0 .52)" x="478.49" y="91.39" width="3.95" height="204.66"/>
<rect x="479.46" y="91.91" width="2.02" height="204.66"/></g>
<g fill="url(#g45)"><path transform="translate(0 1.44)" d="M484.03 89.76H489.99V295.86H484.03zM484.5 90.47a2.53 2.53 0 1 1 5.06 0a2.53 2.53 0 1 1 -5.06 0zM484.5 295.13a2.53 2.53 0 1 1 5.06 0a2.53 2.53 0 1 1 -5.06 0z"/>
<rect transform="translate(0 .52)" x="485.05" y="91.39" width="3.95" height="204.66"/>
<rect x="486.02" y="91.91" width="2.02" height="204.66"/></g>
<g fill="url(#g46)"><path transform="translate(0 1.44)" d="M490.02 89.76H495.98V295.86H490.02zM490.46 90.47a2.53 2.53 0 1 1 5.06 0a2.53 2.53 0 1 1 -5.06 0zM490.46 295.13a2.53 2.53 0 1 1 5.06 0a2.53 2.53 0 1 1 -5.06 0z"/>
<rect transform="translate(0 .52)" x="491.02" y="91.39" width="3.95" height="204.66"/>
<rect x="491.98" y="91.91" width="2.02" height="204.66"/></g>
<g fill="url(#g47)"><path transform="translate(0 1.44)" d="M496.01 89.76H501.96V295.86H496.01zM496.43 90.47a2.53 2.53 0 1 1 5.06 0a2.53 2.53 0 1 1 -5.06 0zM496.43 295.13a2.53 2.53 0 1 1 5.06 0a2.53 2.53 0 1 1 -5.06 0z"/>
<rect transform="translate(0 .52)" x="496.98" y="91.39" width="3.95" height="204.66"/>
<rect x="497.94" y="91.91" width="2.02" height="204.66"/></g>
<g fill="url(#g48)"><path transform="translate(0 1.44)" d="M502 89.76H507.94V295.86H502zM502.39 90.47a2.53 2.53 0 1 1 5.06 0a2.53 2.53 0 1 1 -5.06 0zM502.39 295.13a2.53 2.53 0 1 1 5.06 0a2.53 2.53 0 1 1 -5.06 0z"/>
<rect transform="translate(0 .52)" x="502.95" y="91.39" width="3.95" height="204.66"/>
<rect x="503.91" y="91.91" width="2.02" height="204.66"/></g>
<g fill="url(#g49)"><path transform="translate(0 1.44)" d="M508.94 89.76H514.01V295.86H508.94zM508.95 90.47a2.53 2.53 0 1 1 5.06 0a2.53 2.53 0 1 1 -5.06 0zM508.95 295.13a2.53 2.53 0 1 1 5.06 0a2.53 2.53 0 1 1 -5.06 0z"/>
<rect transform="translate(0 .52)" x="509.51" y="91.39" width="3.95" height="204.66"/>
<rect x="510.47" y="91.91" width="2.02" height="204.66"/></g>
<g fill="url(#g50)"><path transform="translate(0 1.44)" d="M514.84 89.76H520V295.86H514.84zM514.92 90.47a2.53 2.53 0 1 1 5.06 0a2.53 2.53 0 1 1 -5.06 0zM514.92 295.13a2.53 2.53 0 1 1 5.06 0a2.53 2.53 0 1 1 -5.06 0z"/>
<rect transform="translate(0 .52)" x="515.47" y="91.39" width="3.95" height="204.66"/>
<rect x="516.43" y="91.91" width="2.02" height="204.66"/></g>
<g fill="url(#g51)"><path transform="translate(0 1.44)" d="M520.73 89.76H526V295.86H520.73zM520.88 90.47a2.53 2.53 0 1 1 5.06 0a2.53 2.53 0 1 1 -5.06 0zM520.88 295.13a2.53 2.53 0 1 1 5.06 0a2.53 2.53 0 1 1 -5.06 0z"/>
<rect transform="translate(0 .52)" x="521.44" y="91.39" width="3.95" height="204.66"/>
<rect x="522.4" y="91.91" width="2.02" height="204.66"/></g>
<g fill="url(#g52)"><path transform="translate(0 1.44)" d="M527.01 89.76H532.97V295.86H527.01zM527.44 90.47a2.53 2.53 0 1 1 5.06 0a2.53 2.53 0 1 1 -5.06 0zM527.44 295.13a2.53 2.53 0 1 1 5.06 0a2.53 2.53 0 1 1 -5.06 0z"/>
<rect transform="translate(0 .52)" x="528" y="91.39" width="3.95" height="204.66"/>
<rect x="528.96" y="91.91" width="2.02" height="204.66"/></g>
<g fill="url(#g53)"><path transform="translate(0 1.44)" d="M533.01 89.76H538.95V295.86H533.01zM533.41 90.47a2.53 2.53 0 1 1 5.06 0a2.53 2.53 0 1 1 -5.06 0zM533.41 295.13a2.53 2.53 0 1 1 5.06 0a2.53 2.53 0 1 1 -5.06 0z"/>
<rect transform="translate(0 .52)" x="533.96" y="91.39" width="3.95" height="204.66"/>
<rect x="534.92" y="91.91" width="2.02" height="204.66"/></g>
<g fill="url(#g54)"><path transform="translate(0 1.44)" d="M539 89.76H544.92V295.86H539zM539.37 90.47a2.53 2.53 0 1 1 5.06 0a2.53 2.53 0 1 1 -5.06 0zM539.37 295.13a2.53 2.53 0 1 1 5.06 0a2.53 2.53 0 1 1 -5.06 0z"/>
<rect transform="translate(0 .52)" x="539.93" y="91.39" width="3.95" height="204.66"/>
<rect x="540.89" y="91.91" width="2.02" height="204.66"/></g>
<g fill="url(#g55)"><path transform="translate(0 1.44)" d="M545.89 89.76H551V295.86H545.89zM545.93 90.47a2.53 2.53 0 1 1 5.06 0a2.53 2.53 0 1 1 -5.06 0zM545.93 295.13a2.53 2.53 0 1 1 5.06 0a2.53 2.53 0 1 1 -5.06 0z"/>
<rect transform="translate(0 .52)" x="546.49" y="91.39" width="3.95" height="204.66"/>
<rect x="547.45" y="91.91" width="2.02" height="204.66"/></g>
<g fill="url(#g56)"><path transform="translate(0 1.44)" d="M551.77 89.76H557V295.86H551.77zM551.9 90.47a2.53 2.53 0 1 1 5.06 0a2.53 2.53 0 1 1 -5.06 0zM551.9 295.13a2.53 2.53 0 1 1 5.06 0a2.53 2.53 0 1 1 -5.06 0z"/>
<rect transform="translate(0 .52)" x="552.45" y="91.39" width="3.95" height="204.66"/>
<rect x="553.41" y="91.91" width="2.02" height="204.66"/></g>
<g fill="url(#g57)"><path transform="translate(0 1.44)" d="M557.65 89.76H563V295.86H557.65zM557.86 90.47a2.53 2.53 0 1 1 5.06 0a2.53 2.53 0 1 1 -5.06 0zM557.86 295.13a2.53 2.53 0 1 1 5.06 0a2.53 2.53 0 1 1 -5.06 0z"/>
<rect transform="translate(0 .52)" x="558.42" y="91.39" width="3.95" height="204.66"/>
<rect x="559.38" y="91.91" width="2.02" height="204.66"/></g>
<g fill="url(#g58)"><path transform="translate(0 1.44)" d="M564.01 89.76H569.96V295.86H564.01zM564.42 90.47a2.53 2.53 0 1 1 5.06 0a2.53 2.53 0 1 1 -5.06 0zM564.42 295.13a2.53 2.53 0 1 1 5.06 0a2.53 2.53 0 1 1 -5.06 0z"/>
<rect transform="translate(0 .52)" x="564.98" y="91.39" width="3.95" height="204.66"/>
<rect x="565.94" y="91.91" width="2.02" height="204.66"/></g>
<g fill="url(#g59)"><path transform="translate(0 1.44)" d="M570 89.76H575.93V295.86H570zM570.39 90.47a2.53 2.53 0 1 1 5.06 0a2.53 2.53 0 1 1 -5.06 0zM570.39 295.13a2.53 2.53 0 1 1 5.06 0a2.53 2.53 0 1 1 -5.06 0z"/>
<rect transform="translate(0 .52)" x="570.94" y="91.39" width="3.95" height="204.66"/>
<rect x="571.9" y="91.91" width="2.02" height="204.66"/></g>
<g fill="url(#g60)"><path transform="translate(0 1.44)" d="M576 89.76H581.9V295.86H576zM576.35 90.47a2.53 2.53 0 1 1 5.06 0a2.53 2.53 0 1 1 -5.06 0zM576.35 295.13a2.53 2.53 0 1 1 5.06 0a2.53 2.53 0 1 1 -5.06 0z"/>
<rect transform="translate(0 .52)" x="576.91" y="91.39" width="3.95" height="204.66"/>
<rect x="577.87" y="91.91" width="2.02" height="204.66"/></g>
<g fill="url(#g61)"><path transform="translate(0 1.44)" d="M582.83 89.76H588V295.86H582.83zM582.91 90.47a2.53 2.53 0 1 1 5.06 0a2.53 2.53 0 1 1 -5.06 0zM582.91 295.13a2.53 2.53 0 1 1 5.06 0a2.53 2.53 0 1 1 -5.06 0z"/>
<rect transform="translate(0 .52)" x="583.47" y="91.39" width="3.95" height="204.66"/>
<rect x="584.43" y="91.91" width="2.02" height="204.66"/></g>
<g fill="url(#g62)"><path transform="translate(0 1.44)" d="M588.71 89.76H594V295.86H588.71zM588.87 90.47a2.53 2.53 0 1 1 5.06 0a2.53 2.53 0 1 1 -5.06 0zM588.87 295.13a2.53 2.53 0 1 1 5.06 0a2.53 2.53 0 1 1 -5.06 0z"/>
<rect transform="translate(0 .52)" x="589.43" y="91.39" width="3.95" height="204.66"/>
<rect x="590.39" y="91.91" width="2.02" height="204.66"/></g>
<g fill="url(#g63)"><path transform="translate(0 1.44)" d="M594.6 89.76H600V295.86H594.6zM594.84 90.47a2.53 2.53 0 1 1 5.06 0a2.53 2.53 0 1 1 -5.06 0zM594.84 295.13a2.53 2.53 0 1 1 5.06 0a2.53 2.53 0 1 1 -5.06 0z"/>
<rect transform="translate(0 .52)" x="595.4" y="91.39" width="3.95" height="204.66"/>
<rect x="596.36" y="91.91" width="2.02" height="204.66"/></g>
<g fill="url(#g64)"><path transform="translate(0 1.44)" d="M600.49 89.76H606V295.86H600.49zM600.8 90.47a2.53 2.53 0 1 1 5.06 0a2.53 2.53 0 1 1 -5.06 0zM600.8 295.13a2.53 2.53 0 1 1 5.06 0a2.53 2.53 0 1 1 -5.06 0z"/>
<rect transform="translate(0 .52)" x="601.36" y="91.39" width="3.95" height="204.66"/>
<rect x="602.32" y="91.91" width="2.02" height="204.66"/></g>
<g fill="url(#g65)"><path transform="translate(0 1.44)" d="M607 89.76H612.92V295.86H607zM607.36 90.47a2.53 2.53 0 1 1 5.06 0a2.53 2.53 0 1 1 -5.06 0zM607.36 295.13a2.53 2.53 0 1 1 5.06 0a2.53 2.53 0 1 1 -5.06 0z"/>
<rect transform="translate(0 .52)" x="607.92" y="91.39" width="3.95" height="204.66"/>
<rect x="608.88" y="91.91" width="2.02" height="204.66"/></g>
<g fill="url(#g66)"><path transform="translate(0 1.44)" d="M613 89.76H618.88V295.86H613zM613.33 90.47a2.53 2.53 0 1 1 5.06 0a2.53 2.53 0 1 1 -5.06 0zM613.33 295.13a2.53 2.53 0 1 1 5.06 0a2.53 2.53 0 1 1 -5.06 0z"/>
<rect transform="translate(0 .52)" x="613.89" y="91.39" width="3.95" height="204.66"/>
<rect x="614.85" y="91.91" width="2.02" height="204.66"/></g>
<g fill="url(#g67)"><path transform="translate(0 1.44)" d="M619 89.76H624.84V295.86H619zM619.29 90.47a2.53 2.53 0 1 1 5.06 0a2.53 2.53 0 1 1 -5.06 0zM619.29 295.13a2.53 2.53 0 1 1 5.06 0a2.53 2.53 0 1 1 -5.06 0z"/>
<rect transform="translate(0 .52)" x="619.85" y="91.39" width="3.95" height="204.66"/>
<rect x="620.81" y="91.91" width="2.02" height="204.66"/></g>
<g fill="url(#g68)"><path transform="translate(0 1.44)" d="M625.65 89.76H631V295.86H625.65zM625.85 90.47a2.53 2.53 0 1 1 5.06 0a2.53 2.53 0 1 1 -5.06 0zM625.85 295.13a2.53 2.53 0 1 1 5.06 0a2.53 2.53 0 1 1 -5.06 0z"/>
<rect transform="translate(0 .52)" x="626.41" y="91.39" width="3.95" height="204.66"/>
<rect x="627.37" y="91.91" width="2.02" height="204.66"/></g>
<g fill="url(#g69)"><path transform="translate(0 1.44)" d="M631.54 89.76H637V295.86H631.54zM631.82 90.47a2.53 2.53 0 1 1 5.06 0a2.53 2.53 0 1 1 -5.06 0zM631.82 295.13a2.53 2.53 0 1 1 5.06 0a2.53 2.53 0 1 1 -5.06 0z"/>
<rect transform="translate(0 .52)" x="632.38" y="91.39" width="3.95" height="204.66"/>
<rect x="633.34" y="91.91" width="2.02" height="204.66"/></g>
<g fill="url(#g70)"><path transform="translate(0 1.44)" d="M637.43 89.76H643V295.86H637.43zM637.78 90.47a2.53 2.53 0 1 1 5.06 0a2.53 2.53 0 1 1 -5.06 0zM637.78 295.13a2.53 2.53 0 1 1 5.06 0a2.53 2.53 0 1 1 -5.06 0z"/>
<rect transform="translate(0 .52)" x="638.34" y="91.39" width="3.95" height="204.66"/>
<rect x="639.3" y="91.91" width="2.02" height="204.66"/></g>
<g fill="url(#g71)"><path transform="translate(0 1.44)" d="M644 89.76H649.9V295.86H644zM644.34 90.47a2.53 2.53 0 1 1 5.06 0a2.53 2.53 0 1 1 -5.06 0zM644.34 295.13a2.53 2.53 0 1 1 5.06 0a2.53 2.53 0 1 1 -5.06 0z"/>
<rect transform="translate(0 .52)" x="644.9" y="91.39" width="3.95" height="204.66"/>
<rect x="645.86" y="91.91" width="2.02" height="204.66"/></g>
<g fill="url(#g72)"><path transform="translate(0 1.44)" d="M650 89.76H655.86V295.86H650zM650.31 90.47a2.53 2.53 0 1 1 5.06 0a2.53 2.53 0 1 1 -5.06 0zM650.31 295.13a2.53 2.53 0 1 1 5.06 0a2.53 2.53 0 1 1 -5.06 0z"/>
<rect transform="translate(0 .52)" x="650.86" y="91.39" width="3.95" height="204.66"/>
<rect x="651.83" y="91.91" width="2.02" height="204.66"/></g>
<g fill="url(#g73)"><path transform="translate(0 1.44)" d="M656 89.76H661.81V295.86H656zM656.27 90.47a2.53 2.53 0 1 1 5.06 0a2.53 2.53 0 1 1 -5.06 0zM656.27 295.13a2.53 2.53 0 1 1 5.06 0a2.53 2.53 0 1 1 -5.06 0z"/>
<rect transform="translate(0 .52)" x="656.83" y="91.39" width="3.95" height="204.66"/>
<rect x="657.79" y="91.91" width="2.02" height="204.66"/></g>
<g fill="url(#g74)"><path transform="translate(0 1.44)" d="M662.58 89.76H668V295.86H662.58zM662.83 90.47a2.53 2.53 0 1 1 5.06 0a2.53 2.53 0 1 1 -5.06 0zM662.83 295.13a2.53 2.53 0 1 1 5.06 0a2.53 2.53 0 1 1 -5.06 0z"/>
<rect transform="translate(0 .52)" x="663.39" y="91.39" width="3.95" height="204.66"/>
<rect x="664.35" y="91.91" width="2.02" height="204.66"/></g>
<g fill="url(#g75)"><path transform="translate(0 1.44)" d="M668.47 89.76H674V295.86H668.47zM668.8 90.47a2.53 2.53 0 1 1 5.06 0a2.53 2.53 0 1 1 -5.06 0zM668.8 295.13a2.53 2.53 0 1 1 5.06 0a2.53 2.53 0 1 1 -5.06 0z"/>
<rect transform="translate(0 .52)" x="669.35" y="91.39" width="3.95" height="204.66"/>
<rect x="670.32" y="91.91" width="2.02" height="204.66"/></g>
<g fill="url(#g76)"><path transform="translate(0 1.44)" d="M674.38 89.76H680V295.86H674.38zM674.76 90.47a2.53 2.53 0 1 1 5.06 0a2.53 2.53 0 1 1 -5.06 0zM674.76 295.13a2.53 2.53 0 1 1 5.06 0a2.53 2.53 0 1 1 -5.06 0z"/>
<rect transform="translate(0 .52)" x="675.32" y="91.39" width="3.95" height="204.66"/>
<rect x="676.28" y="91.91" width="2.02" height="204.66"/></g>
<g fill="url(#g77)"><path transform="translate(0 1.44)" d="M681 89.76H686.88V295.86H681zM681.32 90.47a2.53 2.53 0 1 1 5.06 0a2.53 2.53 0 1 1 -5.06 0zM681.32 295.13a2.53 2.53 0 1 1 5.06 0a2.53 2.53 0 1 1 -5.06 0z"/>
<rect transform="translate(0 .52)" x="681.88" y="91.39" width="3.95" height="204.66"/>
<rect x="682.84" y="91.91" width="2.02" height="204.66"/></g>
<g fill="url(#g78)"><path transform="translate(0 1.44)" d="M687 89.76H692.83V295.86H687zM687.29 90.47a2.53 2.53 0 1 1 5.06 0a2.53 2.53 0 1 1 -5.06 0zM687.29 295.13a2.53 2.53 0 1 1 5.06 0a2.53 2.53 0 1 1 -5.06 0z"/>
<rect transform="translate(0 .52)" x="687.84" y="91.39" width="3.95" height="204.66"/>
<rect x="688.81" y="91.91" width="2.02" height="204.66"/></g>
<g fill="url(#g79)"><path transform="translate(0 1.44)" d="M693 89.76H698.78V295.86H693zM693.25 90.47a2.53 2.53 0 1 1 5.06 0a2.53 2.53 0 1 1 -5.06 0zM693.25 295.13a2.53 2.53 0 1 1 5.06 0a2.53 2.53 0 1 1 -5.06 0z"/>
<rect transform="translate(0 .52)" x="693.81" y="91.39" width="3.95" height="204.66"/>
<rect x="694.77" y="91.91" width="2.02" height="204.66"/></g>
<g fill="url(#g80)"><path transform="translate(0 1.44)" d="M699.52 89.76H705V295.86H699.52zM699.81 90.47a2.53 2.53 0 1 1 5.06 0a2.53 2.53 0 1 1 -5.06 0zM699.81 295.13a2.53 2.53 0 1 1 5.06 0a2.53 2.53 0 1 1 -5.06 0z"/>
<rect transform="translate(0 .52)" x="700.37" y="91.39" width="3.95" height="204.66"/>
<rect x="701.33" y="91.91" width="2.02" height="204.66"/></g>
<g fill="url(#g81)"><path transform="translate(0 1.44)" d="M705.42 89.76H711V295.86H705.42zM705.78 90.47a2.53 2.53 0 1 1 5.06 0a2.53 2.53 0 1 1 -5.06 0zM705.78 295.13a2.53 2.53 0 1 1 5.06 0a2.53 2.53 0 1 1 -5.06 0z"/>
<rect transform="translate(0 .52)" x="706.33" y="91.39" width="3.95" height="204.66"/>
<rect x="707.3" y="91.91" width="2.02" height="204.66"/></g>
<g fill="url(#g82)"><path transform="translate(0 1.44)" d="M711.33 89.76H717V295.86H711.33zM711.74 90.47a2.53 2.53 0 1 1 5.06 0a2.53 2.53 0 1 1 -5.06 0zM711.74 295.13a2.53 2.53 0 1 1 5.06 0a2.53 2.53 0 1 1 -5.06 0z"/>
<rect transform="translate(0 .52)" x="712.3" y="91.39" width="3.95" height="204.66"/>
<rect x="713.26" y="91.91" width="2.02" height="204.66"/></g>
<g fill="url(#g83)"><path transform="translate(0 1.44)" d="M718 89.76H723.85V295.86H718zM718.3 90.47a2.53 2.53 0 1 1 5.06 0a2.53 2.53 0 1 1 -5.06 0zM718.3 295.13a2.53 2.53 0 1 1 5.06 0a2.53 2.53 0 1 1 -5.06 0z"/>
<rect transform="translate(0 .52)" x="718.86" y="91.39" width="3.95" height="204.66"/>
<rect x="719.82" y="91.91" width="2.02" height="204.66"/></g>
<g fill="url(#g84)"><path transform="translate(0 1.44)" d="M724 89.76H729.8V295.86H724zM724.27 90.47a2.53 2.53 0 1 1 5.06 0a2.53 2.53 0 1 1 -5.06 0zM724.27 295.13a2.53 2.53 0 1 1 5.06 0a2.53 2.53 0 1 1 -5.06 0z"/>
<rect transform="translate(0 .52)" x="724.82" y="91.39" width="3.95" height="204.66"/>
<rect x="725.78" y="91.91" width="2.02" height="204.66"/></g>
<g fill="url(#g85)"><path transform="translate(0 1.44)" d="M730 89.76H735.74V295.86H730zM730.23 90.47a2.53 2.53 0 1 1 5.06 0a2.53 2.53 0 1 1 -5.06 0zM730.23 295.13a2.53 2.53 0 1 1 5.06 0a2.53 2.53 0 1 1 -5.06 0z"/>
<rect transform="translate(0 .52)" x="730.79" y="91.39" width="3.95" height="204.66"/>
<rect x="731.75" y="91.91" width="2.02" height="204.66"/></g>
<g fill="url(#g86)"><path transform="translate(0 1.44)" d="M736 89.76H741.66V295.86H736zM736.2 90.47a2.53 2.53 0 1 1 5.06 0a2.53 2.53 0 1 1 -5.06 0zM736.2 295.13a2.53 2.53 0 1 1 5.06 0a2.53 2.53 0 1 1 -5.06 0z"/>
<rect transform="translate(0 .52)" x="736.75" y="91.39" width="3.95" height="204.66"/>
<rect x="737.71" y="91.91" width="2.02" height="204.66"/></g>
<g fill="url(#g87)"><path transform="translate(0 1.44)" d="M742.37 89.76H748V295.86H742.37zM742.76 90.47a2.53 2.53 0 1 1 5.06 0a2.53 2.53 0 1 1 -5.06 0zM742.76 295.13a2.53 2.53 0 1 1 5.06 0a2.53 2.53 0 1 1 -5.06 0z"/>
<rect transform="translate(0 .52)" x="743.31" y="91.39" width="3.95" height="204.66"/>
<rect x="744.27" y="91.91" width="2.02" height="204.66"/></g>
<g fill="url(#g88)"><path transform="translate(0 1.44)" d="M748.29 89.76H754V295.86H748.29zM748.72 90.47a2.53 2.53 0 1 1 5.06 0a2.53 2.53 0 1 1 -5.06 0zM748.72 295.13a2.53 2.53 0 1 1 5.06 0a2.53 2.53 0 1 1 -5.06 0z"/>
<rect transform="translate(0 .52)" x="749.28" y="91.39" width="3.95" height="204.66"/>
<rect x="750.24" y="91.91" width="2.02" height="204.66"/></g>
<g fill="url(#g89)"><path transform="translate(0 1.44)" d="M754.22 89.76H760V295.86H754.22zM754.69 90.47a2.53 2.53 0 1 1 5.06 0a2.53 2.53 0 1 1 -5.06 0zM754.69 295.13a2.53 2.53 0 1 1 5.06 0a2.53 2.53 0 1 1 -5.06 0z"/>
<rect transform="translate(0 .52)" x="755.24" y="91.39" width="3.95" height="204.66"/>
<rect x="756.2" y="91.91" width="2.02" height="204.66"/></g>
<g fill="url(#g90)"><path transform="translate(0 1.44)" d="M761 89.76H766.77V295.86H761zM761.25 90.47a2.53 2.53 0 1 1 5.06 0a2.53 2.53 0 1 1 -5.06 0zM761.25 295.13a2.53 2.53 0 1 1 5.06 0a2.53 2.53 0 1 1 -5.06 0z"/>
<rect transform="translate(0 .52)" x="761.8" y="91.39" width="3.95" height="204.66"/>
<rect x="762.76" y="91.91" width="2.02" height="204.66"/></g>
<g fill="url(#g91)"><path transform="translate(0 1.44)" d="M767 89.76H772.69V295.86H767zM767.21 90.47a2.53 2.53 0 1 1 5.06 0a2.53 2.53 0 1 1 -5.06 0zM767.21 295.13a2.53 2.53 0 1 1 5.06 0a2.53 2.53 0 1 1 -5.06 0z"/>
<rect transform="translate(0 .52)" x="767.77" y="91.39" width="3.95" height="204.66"/>
<rect x="768.73" y="91.91" width="2.02" height="204.66"/></g>
<g fill="url(#g92)"><path transform="translate(0 1.44)" d="M773 89.76H778.61V295.86H773zM773.18 90.47a2.53 2.53 0 1 1 5.06 0a2.53 2.53 0 1 1 -5.06 0zM773.18 295.13a2.53 2.53 0 1 1 5.06 0a2.53 2.53 0 1 1 -5.06 0z"/>
<rect transform="translate(0 .52)" x="773.73" y="91.39" width="3.95" height="204.66"/>
<rect x="774.69" y="91.91" width="2.02" height="204.66"/></g>
<g fill="url(#g93)"><path transform="translate(0 1.44)" d="M779.32 89.76H785V295.86H779.32zM779.74 90.47a2.53 2.53 0 1 1 5.06 0a2.53 2.53 0 1 1 -5.06 0zM779.74 295.13a2.53 2.53 0 1 1 5.06 0a2.53 2.53 0 1 1 -5.06 0z"/>
<rect transform="translate(0 .52)" x="780.29" y="91.39" width="3.95" height="204.66"/>
<rect x="781.25" y="91.91" width="2.02" height="204.66"/></g>
<g fill="url(#g94)"><path transform="translate(0 1.44)" d="M785.25 89.76H791V295.86H785.25zM785.7 90.47a2.53 2.53 0 1 1 5.06 0a2.53 2.53 0 1 1 -5.06 0zM785.7 295.13a2.53 2.53 0 1 1 5.06 0a2.53 2.53 0 1 1 -5.06 0z"/>
<rect transform="translate(0 .52)" x="786.26" y="91.39" width="3.95" height="204.66"/>
<rect x="787.22" y="91.91" width="2.02" height="204.66"/></g>
<g fill="url(#g95)"><path transform="translate(0 1.44)" d="M791.19 89.76H797V295.86H791.19zM791.66 90.47a2.53 2.53 0 1 1 5.06 0a2.53 2.53 0 1 1 -5.06 0zM791.66 295.13a2.53 2.53 0 1 1 5.06 0a2.53 2.53 0 1 1 -5.06 0z"/>
<rect transform="translate(0 .52)" x="792.22" y="91.39" width="3.95" height="204.66"/>
<rect x="793.18" y="91.91" width="2.02" height="204.66"/></g>
<g fill="url(#g96)"><path transform="translate(0 1.44)" d="M798 89.76H803.72V295.86H798zM798.23 90.47a2.53 2.53 0 1 1 5.06 0a2.53 2.53 0 1 1 -5.06 0zM798.23 295.13a2.53 2.53 0 1 1 5.06 0a2.53 2.53 0 1 1 -5.06 0z"/>
<rect transform="translate(0 .52)" x="798.78" y="91.39" width="3.95" height="204.66"/>
<rect x="799.74" y="91.91" width="2.02" height="204.66"/></g>
<g fill="url(#g97)"><path transform="translate(0 1.44)" d="M804 89.76H809.64V295.86H804zM804.19 90.47a2.53 2.53 0 1 1 5.06 0a2.53 2.53 0 1 1 -5.06 0zM804.19 295.13a2.53 2.53 0 1 1 5.06 0a2.53 2.53 0 1 1 -5.06 0z"/>
<rect transform="translate(0 .52)" x="804.75" y="91.39" width="3.95" height="204.66"/>
<rect x="805.71" y="91.91" width="2.02" height="204.66"/></g>
<g fill="url(#g98)"><path transform="translate(0 1.44)" d="M810 89.76H815.56V295.86H810zM810.15 90.47a2.53 2.53 0 1 1 5.06 0a2.53 2.53 0 1 1 -5.06 0zM810.15 295.13a2.53 2.53 0 1 1 5.06 0a2.53 2.53 0 1 1 -5.06 0z"/>
<rect transform="translate(0 .52)" x="810.71" y="91.39" width="3.95" height="204.66"/>
<rect x="811.67" y="91.91" width="2.02" height="204.66"/></g>
<g fill="url(#g99)"><path transform="translate(0 1.44)" d="M816.28 89.76H822V295.86H816.28zM816.72 90.47a2.53 2.53 0 1 1 5.06 0a2.53 2.53 0 1 1 -5.06 0zM816.72 295.13a2.53 2.53 0 1 1 5.06 0a2.53 2.53 0 1 1 -5.06 0z"/>
<rect transform="translate(0 .52)" x="817.27" y="91.39" width="3.95" height="204.66"/>
<rect x="818.23" y="91.91" width="2.02" height="204.66"/></g>
<g fill="url(#g100)"><path transform="translate(0 1.44)" d="M822.21 89.76H828V295.86H822.21zM822.68 90.47a2.53 2.53 0 1 1 5.06 0a2.53 2.53 0 1 1 -5.06 0zM822.68 295.13a2.53 2.53 0 1 1 5.06 0a2.53 2.53 0 1 1 -5.06 0z"/>
<rect transform="translate(0 .52)" x="823.24" y="91.39" width="3.95" height="204.66"/>
<rect x="824.2" y="91.91" width="2.02" height="204.66"/></g>
<g fill="url(#g101)"><path transform="translate(0 1.44)" d="M828.16 89.76H834V295.86H828.16zM828.64 90.47a2.53 2.53 0 1 1 5.06 0a2.53 2.53 0 1 1 -5.06 0zM828.64 295.13a2.53 2.53 0 1 1 5.06 0a2.53 2.53 0 1 1 -5.06 0z"/>
<rect transform="translate(0 .52)" x="829.2" y="91.39" width="3.95" height="204.66"/>
<rect x="830.16" y="91.91" width="2.02" height="204.66"/></g>
<g fill="url(#g102)"><path transform="translate(0 1.44)" d="M835 89.76H840.68V295.86H835zM835.2 90.47a2.53 2.53 0 1 1 5.06 0a2.53 2.53 0 1 1 -5.06 0zM835.2 295.13a2.53 2.53 0 1 1 5.06 0a2.53 2.53 0 1 1 -5.06 0z"/>
<rect transform="translate(0 .52)" x="835.76" y="91.39" width="3.95" height="204.66"/>
<rect x="836.72" y="91.91" width="2.02" height="204.66"/></g>
<g fill="url(#g103)"><path transform="translate(0 1.44)" d="M841 89.76H846.59V295.86H841zM841.17 90.47a2.53 2.53 0 1 1 5.06 0a2.53 2.53 0 1 1 -5.06 0zM841.17 295.13a2.53 2.53 0 1 1 5.06 0a2.53 2.53 0 1 1 -5.06 0z"/>
<rect transform="translate(0 .52)" x="841.73" y="91.39" width="3.95" height="204.66"/>
<rect x="842.69" y="91.91" width="2.02" height="204.66"/></g>
<g fill="url(#g104)"><path transform="translate(0 1.44)" d="M847 89.76H852.5V295.86H847zM847.13 90.47a2.53 2.53 0 1 1 5.06 0a2.53 2.53 0 1 1 -5.06 0zM847.13 295.13a2.53 2.53 0 1 1 5.06 0a2.53 2.53 0 1 1 -5.06 0z"/>
<rect transform="translate(0 .52)" x="847.69" y="91.39" width="3.95" height="204.66"/>
<rect x="848.65" y="91.91" width="2.02" height="204.66"/></g>
<g fill="url(#g105)"><path transform="translate(0 1.44)" d="M853.24 89.76H859V295.86H853.24zM853.69 90.47a2.53 2.53 0 1 1 5.06 0a2.53 2.53 0 1 1 -5.06 0zM853.69 295.13a2.53 2.53 0 1 1 5.06 0a2.53 2.53 0 1 1 -5.06 0z"/>
<rect transform="translate(0 .52)" x="854.25" y="91.39" width="3.95" height="204.66"/>
<rect x="855.21" y="91.91" width="2.02" height="204.66"/></g>
<g fill="url(#g106)"><path transform="translate(0 1.44)" d="M859.18 89.76H865V295.86H859.18zM859.66 90.47a2.53 2.53 0 1 1 5.06 0a2.53 2.53 0 1 1 -5.06 0zM859.66 295.13a2.53 2.53 0 1 1 5.06 0a2.53 2.53 0 1 1 -5.06 0z"/>
<rect transform="translate(0 .52)" x="860.22" y="91.39" width="3.95" height="204.66"/>
<rect x="861.18" y="91.91" width="2.02" height="204.66"/></g>
<g fill="url(#g107)"><path transform="translate(0 1.44)" d="M865.13 89.76H871V295.86H865.13zM865.62 90.47a2.53 2.53 0 1 1 5.06 0a2.53 2.53 0 1 1 -5.06 0zM865.62 295.13a2.53 2.53 0 1 1 5.06 0a2.53 2.53 0 1 1 -5.06 0z"/>
<rect transform="translate(0 .52)" x="866.18" y="91.39" width="3.95" height="204.66"/>
<rect x="867.14" y="91.91" width="2.02" height="204.66"/></g>
<g fill="url(#g108)"><path transform="translate(0 1.44)" d="M872 89.76H877.63V295.86H872zM872.18 90.47a2.53 2.53 0 1 1 5.06 0a2.53 2.53 0 1 1 -5.06 0zM872.18 295.13a2.53 2.53 0 1 1 5.06 0a2.53 2.53 0 1 1 -5.06 0z"/>
<rect transform="translate(0 .52)" x="872.74" y="91.39" width="3.95" height="204.66"/>
<rect x="873.7" y="91.91" width="2.02" height="204.66"/></g>
<g fill="url(#g109)"><path transform="translate(0 1.44)" d="M878 89.76H883.54V295.86H878zM878.15 90.47a2.53 2.53 0 1 1 5.06 0a2.53 2.53 0 1 1 -5.06 0zM878.15 295.13a2.53 2.53 0 1 1 5.06 0a2.53 2.53 0 1 1 -5.06 0z"/>
<rect transform="translate(0 .52)" x="878.71" y="91.39" width="3.95" height="204.66"/>
<rect x="879.67" y="91.91" width="2.02" height="204.66"/></g>
<g fill="url(#g110)"><path transform="translate(0 1.44)" d="M884 89.76H889.44V295.86H884zM884.11 90.47a2.53 2.53 0 1 1 5.06 0a2.53 2.53 0 1 1 -5.06 0zM884.11 295.13a2.53 2.53 0 1 1 5.06 0a2.53 2.53 0 1 1 -5.06 0z"/>
<rect transform="translate(0 .52)" x="884.67" y="91.39" width="3.95" height="204.66"/>
<rect x="885.63" y="91.91" width="2.02" height="204.66"/></g>
<g fill="url(#g111)"><path transform="translate(0 1.44)" d="M890 89.76H895.32V295.86H890zM890.08 90.47a2.53 2.53 0 1 1 5.06 0a2.53 2.53 0 1 1 -5.06 0zM890.08 295.13a2.53 2.53 0 1 1 5.06 0a2.53 2.53 0 1 1 -5.06 0z"/>
<rect transform="translate(0 .52)" x="890.63" y="91.39" width="3.95" height="204.66"/>
<rect x="891.6" y="91.91" width="2.02" height="204.66"/></g>
<g fill="url(#g112)"><path transform="translate(0 1.44)" d="M896.15 89.76H902V295.86H896.15zM896.64 90.47a2.53 2.53 0 1 1 5.06 0a2.53 2.53 0 1 1 -5.06 0zM896.64 295.13a2.53 2.53 0 1 1 5.06 0a2.53 2.53 0 1 1 -5.06 0z"/>
<rect transform="translate(0 .52)" x="897.19" y="91.39" width="3.95" height="204.66"/>
<rect x="898.16" y="91.91" width="2.02" height="204.66"/></g>
<g fill="url(#g113)"><path transform="translate(0 1.44)" d="M902.1 89.76H908V295.86H902.1zM902.6 90.47a2.53 2.53 0 1 1 5.06 0a2.53 2.53 0 1 1 -5.06 0zM902.6 295.13a2.53 2.53 0 1 1 5.06 0a2.53 2.53 0 1 1 -5.06 0z"/>
<rect transform="translate(0 .52)" x="903.16" y="91.39" width="3.95" height="204.66"/>
<rect x="904.12" y="91.91" width="2.02" height="204.66"/></g>
<g fill="url(#g114)"><path transform="translate(0 1.44)" d="M908.08 89.76H914V295.86H908.08zM908.57 90.47a2.53 2.53 0 1 1 5.06 0a2.53 2.53 0 1 1 -5.06 0zM908.57 295.13a2.53 2.53 0 1 1 5.06 0a2.53 2.53 0 1 1 -5.06 0z"/>
<rect transform="translate(0 .52)" x="909.12" y="91.39" width="3.95" height="204.66"/>
<rect x="910.09" y="91.91" width="2.02" height="204.66"/></g>
<g fill="url(#g115)"><path transform="translate(0 1.44)" d="M915 89.76H920.48V295.86H915zM915.13 90.47a2.53 2.53 0 1 1 5.06 0a2.53 2.53 0 1 1 -5.06 0zM915.13 295.13a2.53 2.53 0 1 1 5.06 0a2.53 2.53 0 1 1 -5.06 0z"/>
<rect transform="translate(0 .52)" x="915.68" y="91.39" width="3.95" height="204.66"/>
<rect x="916.65" y="91.91" width="2.02" height="204.66"/></g>
<g fill="url(#g116)"><path transform="translate(0 1.44)" d="M921 89.76H926.38V295.86H921zM921.09 90.47a2.53 2.53 0 1 1 5.06 0a2.53 2.53 0 1 1 -5.06 0zM921.09 295.13a2.53 2.53 0 1 1 5.06 0a2.53 2.53 0 1 1 -5.06 0z"/>
<rect transform="translate(0 .52)" x="921.65" y="91.39" width="3.95" height="204.66"/>
<rect x="922.61" y="91.91" width="2.02" height="204.66"/></g>
<g fill="url(#g117)"><path transform="translate(0 1.44)" d="M927 89.76H932.27V295.86H927zM927.06 90.47a2.53 2.53 0 1 1 5.06 0a2.53 2.53 0 1 1 -5.06 0zM927.06 295.13a2.53 2.53 0 1 1 5.06 0a2.53 2.53 0 1 1 -5.06 0z"/>
<rect transform="translate(0 .52)" x="927.61" y="91.39" width="3.95" height="204.66"/>
<rect x="928.57" y="91.91" width="2.02" height="204.66"/></g>
<g fill="url(#g118)"><path transform="translate(0 1.44)" d="M933.12 89.76H939V295.86H933.12zM933.62 90.47a2.53 2.53 0 1 1 5.06 0a2.53 2.53 0 1 1 -5.06 0zM933.62 295.13a2.53 2.53 0 1 1 5.06 0a2.53 2.53 0 1 1 -5.06 0z"/>
<rect transform="translate(0 .52)" x="934.17" y="91.39" width="3.95" height="204.66"/>
<rect x="935.14" y="91.91" width="2.02" height="204.66"/></g>
<g fill="url(#g119)"><path transform="translate(0 1.44)" d="M939.09 89.76H945V295.86H939.09zM939.58 90.47a2.53 2.53 0 1 1 5.06 0a2.53 2.53 0 1 1 -5.06 0zM939.58 295.13a2.53 2.53 0 1 1 5.06 0a2.53 2.53 0 1 1 -5.06 0z"/>
<rect transform="translate(0 .52)" x="940.14" y="91.39" width="3.95" height="204.66"/>
<rect x="941.1" y="91.91" width="2.02" height="204.66"/></g>
<g fill="url(#g120)"><path transform="translate(0 1.44)" d="M945.06 89.76H951V295.86H945.06zM945.55 90.47a2.53 2.53 0 1 1 5.06 0a2.53 2.53 0 1 1 -5.06 0zM945.55 295.13a2.53 2.53 0 1 1 5.06 0a2.53 2.53 0 1 1 -5.06 0z"/>
<rect transform="translate(0 .52)" x="946.1" y="91.39" width="3.95" height="204.66"/>
<rect x="947.06" y="91.91" width="2.02" height="204.66"/></g>
<g fill="url(#g121)"><path transform="translate(0 1.44)" d="M952 89.76H957.43V295.86H952zM952.11 90.47a2.53 2.53 0 1 1 5.06 0a2.53 2.53 0 1 1 -5.06 0zM952.11 295.13a2.53 2.53 0 1 1 5.06 0a2.53 2.53 0 1 1 -5.06 0z"/>
<rect transform="translate(0 .52)" x="952.66" y="91.39" width="3.95" height="204.66"/>
<rect x="953.63" y="91.91" width="2.02" height="204.66"/></g>
<g fill="url(#g122)"><path transform="translate(0 1.44)" d="M958 89.76H963.31V295.86H958zM958.07 90.47a2.53 2.53 0 1 1 5.06 0a2.53 2.53 0 1 1 -5.06 0zM958.07 295.13a2.53 2.53 0 1 1 5.06 0a2.53 2.53 0 1 1 -5.06 0z"/>
<rect transform="translate(0 .52)" x="958.63" y="91.39" width="3.95" height="204.66"/>
<rect x="959.59" y="91.91" width="2.02" height="204.66"/></g>
<g fill="url(#g123)"><path transform="translate(0 1.44)" d="M964 89.76H969.19V295.86H964zM964.04 90.47a2.53 2.53 0 1 1 5.06 0a2.53 2.53 0 1 1 -5.06 0zM964.04 295.13a2.53 2.53 0 1 1 5.06 0a2.53 2.53 0 1 1 -5.06 0z"/>
<rect transform="translate(0 .52)" x="964.59" y="91.39" width="3.95" height="204.66"/>
<rect x="965.55" y="91.91" width="2.02" height="204.66"/></g>
<g fill="url(#g124)"><path transform="translate(0 1.44)" d="M970.1 89.76H976V295.86H970.1zM970.6 90.47a2.53 2.53 0 1 1 5.06 0a2.53 2.53 0 1 1 -5.06 0zM970.6 295.13a2.53 2.53 0 1 1 5.06 0a2.53 2.53 0 1 1 -5.06 0z"/>
<rect transform="translate(0 .52)" x="971.15" y="91.39" width="3.95" height="204.66"/>
<rect x="972.11" y="91.91" width="2.02" height="204.66"/></g>
<g fill="url(#g125)"><path transform="translate(0 1.44)" d="M976.07 89.76H982V295.86H976.07zM976.56 90.47a2.53 2.53 0 1 1 5.06 0a2.53 2.53 0 1 1 -5.06 0zM976.56 295.13a2.53 2.53 0 1 1 5.06 0a2.53 2.53 0 1 1 -5.06 0z"/>
<rect transform="translate(0 .52)" x="977.12" y="91.39" width="3.95" height="204.66"/>
<rect x="978.08" y="91.91" width="2.02" height="204.66"/></g>
<g fill="url(#g126)"><path transform="translate(0 1.44)" d="M982.05 89.76H987.99V295.86H982.05zM982.53 90.47a2.53 2.53 0 1 1 5.06 0a2.53 2.53 0 1 1 -5.06 0zM982.53 295.13a2.53 2.53 0 1 1 5.06 0a2.53 2.53 0 1 1 -5.06 0z"/>
<rect transform="translate(0 .52)" x="983.08" y="91.39" width="3.95" height="204.66"/>
<rect x="984.04" y="91.91" width="2.02" height="204.66"/></g>
<g fill="url(#g127)"><path transform="translate(0 1.44)" d="M989 89.76H994.36V295.86H989zM989.09 90.47a2.53 2.53 0 1 1 5.06 0a2.53 2.53 0 1 1 -5.06 0zM989.09 295.13a2.53 2.53 0 1 1 5.06 0a2.53 2.53 0 1 1 -5.06 0z"/>
<rect transform="translate(0 .52)" x="989.64" y="91.39" width="3.95" height="204.66"/>
<rect x="990.6" y="91.91" width="2.02" height="204.66"/></g>
<g fill="url(#g128)"><path transform="translate(0 1.44)" d="M995 89.76H1000.25V295.86H995zM995.05 90.47a2.53 2.53 0 1 1 5.06 0a2.53 2.53 0 1 1 -5.06 0zM995.05 295.13a2.53 2.53 0 1 1 5.06 0a2.53 2.53 0 1 1 -5.06 0z"/>
<rect transform="translate(0 .52)" x="995.61" y="91.39" width="3.95" height="204.66"/>
<rect x="996.57" y="91.91" width="2.02" height="204.66"/></g>
<g fill="url(#g129)"><path transform="translate(0 1.44)" d="M1001 89.76H1006.13V295.86H1001zM1001.02 90.47a2.53 2.53 0 1 1 5.06 0a2.53 2.53 0 1 1 -5.06 0zM1001.02 295.13a2.53 2.53 0 1 1 5.06 0a2.53 2.53 0 1 1 -5.06 0z"/>
<rect transform="translate(0 .52)" x="1001.57" y="91.39" width="3.95" height="204.66"/>
<rect x="1002.53" y="91.91" width="2.02" height="204.66"/></g>
<path d="M214.45 301.12h0M221.02 301.12h0M226.98 301.12h0M232.94 301.12h0M239.51 301.12h0M245.47 301.12h0M251.43 301.12h0M257.99 301.12h0M263.96 301.12h0M269.92 301.12h0M276.48 301.12h0M282.45 301.12h0M288.41 301.12h0M294.97 301.12h0M300.94 301.12h0M306.9 301.12h0M312.87 301.12h0M319.43 301.12h0M325.39 301.12h0M331.36 301.12h0M337.92 301.12h0M343.88 301.12h0M349.85 301.12h0M356.41 301.12h0M362.37 301.12h0M368.34 301.12h0M374.9 301.12h0M380.86 301.12h0M386.83 301.12h0M393.39 301.12h0M399.35 301.12h0M405.32 301.12h0M411.88 301.12h0M417.84 301.12h0M423.81 301.12h0M430.37 300.82h0M431.56 301.42h0M437.52 301.12h0M443.49 301.12h0M450.05 301.12h0M456.01 301.12h0M461.98 301.12h0M468.54 301.12h0M474.5 301.12h0M480.47 301.12h0M487.03 301.12h0M492.99 301.12h0M498.96 301.12h0M504.92 301.12h0M511.48 301.12h0M517.45 301.12h0M523.41 301.12h0M529.97 301.12h0M535.94 301.12h0M541.9 301.12h0M548.46 301.12h0M554.43 301.12h0M560.39 301.12h0M566.95 301.12h0M572.92 301.12h0M578.88 301.12h0M585.44 301.12h0M591.4 301.12h0M597.37 301.12h0M603.33 301.12h0M609.89 301.12h0M615.86 301.12h0M621.82 301.12h0M628.38 301.12h0M634.35 301.12h0M640.31 301.12h0M646.87 301.12h0M652.84 301.12h0M658.8 301.12h0M665.36 301.12h0M671.33 301.12h0M677.29 301.12h0M683.85 301.12h0M689.82 301.12h0M695.78 301.12h0M702.34 301.12h0M708.31 301.12h0M714.27 301.12h0M720.83 301.12h0M726.8 301.12h0M732.76 301.12h0M738.73 301.12h0M745.29 301.12h0M751.25 301.12h0M757.22 301.12h0M763.78 301.12h0M769.74 301.12h0M775.71 301.12h0M782.27 301.12h0M788.23 301.12h0M794.19 301.12h0M800.76 301.12h0M806.72 301.12h0M812.68 301.12h0M819.25 301.12h0M825.21 301.12h0M831.17 301.12h0M837.73 301.12h0M843.7 301.12h0M849.66 301.12h0M856.22 301.12h0M862.19 301.12h0M868.15 301.12h0M874.71 301.12h0M880.68 301.12h0M886.64 301.12h0M892.61 301.12h0M899.17 301.12h0M905.13 301.12h0M911.1 301.12h0M917.66 301.12h0M923.62 301.12h0M929.59 301.12h0M936.15 301.12h0M942.11 301.12h0M948.08 301.12h0M954.64 301.12h0M960.6 301.12h0M966.57 301.12h0M973.13 301.12h0M979.09 301.12h0M985.06 301.12h0M991.62 301.12h0M997.58 301.12h0M1003.55 301.12h0" stroke="#062742"/>
<path d="M214.45 322.09h0M221.02 322.09h0M226.98 322.09h0M232.94 322.09h0M239.51 322.09h0M245.47 322.09h0M251.43 322.09h0M257.99 322.09h0M263.96 322.09h0M269.92 322.09h0M276.48 322.09h0M282.45 322.09h0M288.41 322.09h0M294.97 322.09h0M300.94 322.09h0M306.9 322.09h0M312.87 322.09h0M319.43 322.09h0M325.39 322.09h0M331.36 322.09h0M337.92 322.09h0M343.88 322.09h0M349.85 322.09h0M356.41 322.09h0M362.37 322.09h0M368.34 322.09h0M374.9 322.09h0M380.86 322.09h0M386.83 322.09h0M393.39 322.09h0M399.35 322.09h0M405.32 322.09h0M411.88 322.09h0M417.84 322.09h0M423.81 322.09h0M430.37 321.79h0M431.56 322.39h0M437.52 322.09h0M443.49 322.09h0M450.05 322.09h0M456.01 322.09h0M461.98 322.09h0M468.54 322.09h0M474.5 322.09h0M480.47 322.09h0M487.03 322.09h0M492.99 322.09h0M498.96 322.09h0M504.92 322.09h0M511.48 322.09h0M517.45 322.09h0M523.41 322.09h0M529.97 322.09h0M535.94 322.09h0M541.9 322.09h0M548.46 322.09h0M554.43 322.09h0M560.39 322.09h0M566.95 322.09h0M572.92 322.09h0M578.88 322.09h0M585.44 322.09h0M591.4 322.09h0M597.37 322.09h0M603.33 322.09h0M609.89 322.09h0M615.86 322.09h0M621.82 322.09h0M628.38 322.09h0M634.35 322.09h0M640.31 322.09h0M646.87 322.09h0M652.84 322.09h0M658.8 322.09h0M665.36 322.09h0M671.33 322.09h0M677.29 322.09h0M683.85 322.09h0M689.82 322.09h0M695.78 322.09h0M702.34 322.09h0M708.31 322.09h0M714.27 322.09h0M720.83 322.09h0M726.8 322.09h0M732.76 322.09h0M738.73 322.09h0M745.29 322.09h0M751.25 322.09h0M757.22 322.09h0M763.78 322.09h0M769.74 322.09h0M775.71 322.09h0M782.27 322.09h0M788.23 322.09h0M794.19 322.09h0M800.76 322.09h0M806.72 322.09h0M812.68 322.09h0M819.25 322.09h0M825.21 322.09h0M831.17 322.09h0M837.73 322.09h0M843.7 322.09h0M849.66 322.09h0M856.22 322.09h0M862.19 322.09h0M868.15 322.09h0M874.71 322.09h0M880.68 322.09h0M886.64 322.09h0M892.61 322.09h0M899.17 322.09h0M905.13 322.09h0M911.1 322.09h0M917.66 322.09h0M923.62 322.09h0M929.59 322.09h0M936.15 322.09h0M942.11 322.09h0M948.08 322.09h0M954.64 322.09h0M960.6 322.09h0M966.57 322.09h0M973.13 322.09h0M979.09 322.09h0M985.06 322.09h0M991.62 322.09h0M997.58 322.09h0M1003.55 322.09h0" stroke="#062640"/>
<path d="M214.45 343.06h0M221.02 343.06h0M226.98 343.06h0M232.94 343.06h0M239.51 343.06h0M245.47 343.06h0M251.43 343.06h0M257.99 343.06h0M263.96 343.06h0M269.92 343.06h0M276.48 343.06h0M282.45 343.06h0M288.41 343.06h0M294.97 343.06h0M300.94 343.06h0M306.9 343.06h0M312.87 343.06h0M319.43 343.06h0M325.39 343.06h0M331.36 343.06h0M337.92 343.06h0M343.88 343.06h0M349.85 343.06h0M356.41 343.06h0M362.37 343.06h0M368.34 343.06h0M374.9 343.06h0M380.86 343.06h0M386.83 343.06h0M393.39 343.06h0M399.35 343.06h0M405.32 343.06h0M411.88 343.06h0M417.84 343.06h0M423.81 343.06h0M430.37 342.76h0M431.56 343.36h0M437.52 343.06h0M443.49 343.06h0M450.05 343.06h0M456.01 343.06h0M461.98 343.06h0M468.54 343.06h0M474.5 343.06h0M480.47 343.06h0M487.03 343.06h0M492.99 343.06h0M498.96 343.06h0M504.92 343.06h0M511.48 343.06h0M517.45 343.06h0M523.41 343.06h0M529.97 343.06h0M535.94 343.06h0M541.9 343.06h0M548.46 343.06h0M554.43 343.06h0M560.39 343.06h0M566.95 343.06h0M572.92 343.06h0M578.88 343.06h0M585.44 343.06h0M591.4 343.06h0M597.37 343.06h0M603.33 343.06h0M609.89 343.06h0M615.86 343.06h0M621.82 343.06h0M628.38 343.06h0M634.35 343.06h0M640.31 343.06h0M646.87 343.06h0M652.84 343.06h0M658.8 343.06h0M665.36 343.06h0M671.33 343.06h0M677.29 343.06h0M683.85 343.06h0M689.82 343.06h0M695.78 343.06h0M702.34 343.06h0M708.31 343.06h0M714.27 343.06h0M720.83 343.06h0M726.8 343.06h0M732.76 343.06h0M738.73 343.06h0M745.29 343.06h0M751.25 343.06h0M757.22 343.06h0M763.78 343.06h0M769.74 343.06h0M775.71 343.06h0M782.27 343.06h0M788.23 343.06h0M794.19 343.06h0M800.76 343.06h0M806.72 343.06h0M812.68 343.06h0M819.25 343.06h0M825.21 343.06h0M831.17 343.06h0M837.73 343.06h0M843.7 343.06h0M849.66 343.06h0M856.22 343.06h0M862.19 343.06h0M868.15 343.06h0M874.71 343.06h0M880.68 343.06h0M886.64 343.06h0M892.61 343.06h0M899.17 343.06h0M905.13 343.06h0M911.1 343.06h0M917.66 343.06h0M923.62 343.06h0M929.59 343.06h0M936.15 343.06h0M942.11 343.06h0M948.08 343.06h0M954.64 343.06h0M960.6 343.06h0M966.57 343.06h0M973.13 343.06h0M979.09 343.06h0M985.06 343.06h0M991.62 343.06h0M997.58 343.06h0M1003.55 343.06h0" stroke="#05263e"/>
<path d="M214.45 364.03h0M221.02 364.03h0M226.98 364.03h0M232.94 364.03h0M239.51 364.03h0M245.47 364.03h0M251.43 364.03h0M257.99 364.03h0M263.96 363.63h0M269.92 363.33h0M276.48 363.23h0M282.45 363.43h0M288.41 363.33h0M294.97 364.03h0M300.94 364.03h0M306.9 364.03h0M312.87 364.03h0M319.43 364.03h0M325.39 364.03h0M331.36 364.03h0M337.92 364.03h0M343.88 364.03h0M349.85 364.03h0M356.41 364.03h0M362.37 364.03h0M368.34 364.03h0M374.9 364.03h0M380.86 364.03h0M386.83 364.03h0M393.39 364.03h0M399.35 364.03h0M405.32 364.03h0M411.88 364.03h0M417.84 364.03h0M423.81 364.03h0M430.37 363.73h0M431.56 364.33h0M437.52 364.03h0M443.49 364.03h0M450.05 364.03h0M456.01 364.03h0M461.98 363.03h0M468.54 364.03h0M474.5 363.03h0M480.47 364.03h0M487.03 364.03h0M492.99 364.03h0M498.96 363.03h0M504.92 364.03h0M511.48 364.03h0M517.45 364.03h0M523.41 364.03h0M529.97 364.03h0M535.94 364.03h0M541.9 363.33h0M548.46 364.03h0M554.43 364.03h0M560.39 364.03h0M566.95 364.03h0M572.92 364.03h0M578.88 364.03h0M585.44 364.03h0M591.4 364.03h0M597.37 364.03h0M603.33 364.03h0M609.89 364.03h0M615.86 364.03h0M621.82 364.03h0M628.38 364.03h0M634.35 364.03h0M640.31 364.03h0M646.87 364.03h0M652.84 364.03h0M658.8 364.03h0M665.36 364.03h0M671.33 364.03h0M677.29 364.03h0M683.85 364.03h0M689.82 364.03h0M695.78 364.03h0M702.34 364.03h0M708.31 364.03h0M714.27 364.03h0M720.83 364.03h0M726.8 364.03h0M732.76 364.03h0M738.73 364.03h0M745.29 364.03h0M751.25 364.03h0M757.22 363.53h0M763.78 364.03h0M769.74 364.03h0M775.71 364.03h0M782.27 364.03h0M788.23 364.03h0M794.19 363.53h0M800.76 364.03h0M806.72 364.03h0M812.68 364.03h0M819.25 364.03h0M825.21 364.03h0M831.17 364.03h0M837.73 364.03h0M843.7 364.03h0M849.66 363.03h0M856.22 364.03h0M862.19 364.03h0M868.15 364.03h0M874.71 364.03h0M880.68 364.03h0M886.64 364.03h0M892.61 363.53h0M899.17 364.03h0M905.13 364.03h0M911.1 364.03h0M917.66 364.03h0M923.62 364.03h0M929.59 364.03h0M936.15 364.03h0M942.11 364.03h0M948.08 364.03h0M954.64 364.03h0M960.6 364.03h0M966.57 364.03h0M973.13 364.03h0M979.09 364.03h0M985.06 364.03h0M991.62 364.03h0M997.58 364.03h0M1003.55 364.03h0" stroke="#05253c"/>
<path d="M214.45 385h0M221.02 385h0M226.98 385h0M232.94 385h0M239.51 385h0M245.47 385h0M251.43 385h0M257.99 385h0M263.96 385h0M269.92 385h0M276.48 385h0M282.45 385h0M288.41 385h0M294.97 385h0M300.94 385h0M306.9 385h0M312.87 385h0M319.43 385h0M325.39 385h0M331.36 385h0M337.92 385h0M343.88 385h0M349.85 385h0M356.41 385h0M362.37 385h0M368.34 385h0M374.9 385h0M380.86 385h0M386.83 385h0M393.39 385h0M399.35 385h0M405.32 385h0M411.88 385h0M417.84 385h0M423.81 385h0M430.37 384.7h0M431.56 385.3h0M437.52 385h0M443.49 385h0M450.05 385h0M456.01 385h0M461.98 385h0M468.54 385h0M474.5 385h0M480.47 385h0M487.03 385h0M492.99 385h0M498.96 385h0M504.92 385h0M511.48 385h0M517.45 385h0M523.41 385h0M529.97 385h0M535.94 385h0M541.9 385h0M548.46 385h0M554.43 385h0M560.39 385h0M566.95 385h0M572.92 385h0M578.88 385h0M585.44 385h0M591.4 385h0M597.37 385h0M603.33 385h0M609.89 385h0M615.86 385h0M621.82 385h0M628.38 385h0M634.35 385h0M640.31 385h0M646.87 385h0M652.84 385h0M658.8 385h0M665.36 385h0M671.33 385h0M677.29 385h0M683.85 385h0M689.82 385h0M695.78 385h0M702.34 385h0M708.31 385h0M714.27 385h0M720.83 385h0M726.8 385h0M732.76 385h0M738.73 385h0M745.29 385h0M751.25 385h0M757.22 385h0M763.78 385h0M769.74 385h0M775.71 385h0M782.27 385h0M788.23 385h0M794.19 385h0M800.76 385h0M806.72 385h0M812.68 385h0M819.25 385h0M825.21 385h0M831.17 385h0M837.73 385h0M843.7 385h0M849.66 385h0M856.22 385h0M862.19 385h0M868.15 385h0M874.71 385h0M880.68 385h0M886.64 385h0M892.61 385h0M899.17 385h0M905.13 385h0M911.1 385h0M917.66 385h0M923.62 385h0M929.59 385h0M936.15 385h0M942.11 385h0M948.08 385h0M954.64 385h0M960.6 385h0M966.57 385h0M973.13 385h0M979.09 385h0M985.06 385h0M991.62 385h0M997.58 385h0M1003.55 385h0" stroke="#05253b"/>
<path d="M214.45 405.97h0M221.02 405.97h0M226.98 405.97h0M232.94 405.97h0M239.51 405.97h0M245.47 405.97h0M251.43 405.97h0M257.99 405.97h0M263.96 405.97h0M269.92 405.97h0M276.48 405.97h0M282.45 405.97h0M288.41 405.97h0M294.97 405.97h0M300.94 405.97h0M306.9 405.97h0M312.87 405.97h0M319.43 405.97h0M325.39 405.97h0M331.36 405.97h0M337.92 405.97h0M343.88 405.97h0M349.85 405.97h0M356.41 405.97h0M362.37 405.97h0M368.34 405.97h0M374.9 405.97h0M380.86 405.97h0M386.83 405.97h0M393.39 405.97h0M399.35 405.97h0M405.32 405.97h0M411.88 405.97h0M417.84 405.97h0M423.81 405.97h0M430.37 405.67h0M431.56 406.27h0M437.52 405.97h0M443.49 405.97h0M450.05 405.97h0M456.01 405.97h0M461.98 405.97h0M468.54 405.97h0M474.5 405.97h0M480.47 405.97h0M487.03 405.97h0M492.99 405.97h0M498.96 405.97h0M504.92 405.97h0M511.48 405.27h0M517.45 405.97h0M523.41 405.97h0M529.97 405.97h0M535.94 405.97h0M541.9 405.97h0M548.46 405.97h0M554.43 405.97h0M560.39 405.97h0M566.95 405.97h0M572.92 405.97h0M578.88 405.97h0M585.44 405.97h0M591.4 405.97h0M597.37 405.97h0M603.33 405.97h0M609.89 405.97h0M615.86 405.97h0M621.82 405.97h0M628.38 405.97h0M634.35 405.97h0M640.31 405.97h0M646.87 405.97h0M652.84 405.97h0M658.8 405.97h0M665.36 405.97h0M671.33 405.97h0M677.29 405.97h0M683.85 405.97h0M689.82 405.97h0M695.78 405.97h0M702.34 405.97h0M708.31 405.97h0M714.27 405.97h0M720.83 405.97h0M726.8 405.97h0M732.76 405.97h0M738.73 405.97h0M745.29 405.97h0M751.25 405.97h0M757.22 405.97h0M763.78 405.97h0M769.74 405.97h0M775.71 405.97h0M782.27 405.97h0M788.23 405.97h0M794.19 405.97h0M800.76 405.97h0M806.72 405.97h0M812.68 405.97h0M819.25 405.97h0M825.21 405.97h0M831.17 405.97h0M837.73 405.97h0M843.7 405.97h0M849.66 405.97h0M856.22 405.97h0M862.19 405.97h0M868.15 405.97h0M874.71 405.97h0M880.68 405.97h0M886.64 405.97h0M892.61 405.97h0M899.17 405.97h0M905.13 405.97h0M911.1 405.97h0M917.66 405.97h0M923.62 405.97h0M929.59 405.97h0M936.15 405.97h0M942.11 405.97h0M948.08 405.97h0M954.64 405.97h0M960.6 405.97h0M966.57 405.97h0M973.13 405.97h0M979.09 405.97h0M985.06 405.97h0M991.62 405.97h0M997.58 405.97h0M1003.55 405.97h0" stroke="#04253a"/>
<path d="M214.45 426.94h0M221.02 426.94h0M226.98 426.94h0M232.94 426.94h0M239.51 426.94h0M245.47 426.94h0M251.43 426.94h0M257.99 426.94h0M263.96 426.94h0M269.92 426.94h0M276.48 425.94h0M282.45 426.94h0M288.41 426.94h0M294.97 426.94h0M300.94 426.94h0M306.9 426.94h0M312.87 426.94h0M319.43 426.94h0M325.39 426.94h0M331.36 426.94h0M337.92 426.94h0M343.88 426.94h0M349.85 426.94h0M356.41 426.94h0M362.37 426.94h0M368.34 426.94h0M374.9 426.94h0M380.86 426.94h0M386.83 426.94h0M393.39 426.94h0M399.35 426.94h0M405.32 426.94h0M411.88 426.94h0M417.84 426.94h0M423.81 426.94h0M430.37 426.94h0M437.52 426.94h0M443.49 426.94h0M450.05 426.94h0M456.01 425.94h0M461.98 426.94h0M468.54 426.94h0M474.5 426.94h0M480.47 426.24h0M487.03 426.94h0M492.99 426.94h0M498.96 426.94h0M504.92 426.94h0M511.48 426.94h0M517.45 426.94h0M523.41 426.94h0M529.97 426.94h0M535.94 426.94h0M541.9 426.94h0M548.46 426.94h0M554.43 426.94h0M560.39 426.94h0M566.95 426.94h0M572.92 426.94h0M578.88 426.94h0M585.44 426.94h0M591.4 426.94h0M597.37 426.94h0M603.33 426.94h0M609.89 426.94h0M615.86 426.94h0M621.82 426.94h0M628.38 426.94h0M634.35 426.94h0M640.31 426.94h0M646.87 426.94h0M652.84 426.94h0M658.8 426.94h0M665.36 426.94h0M671.33 426.94h0M677.29 426.94h0M683.85 426.94h0M689.82 426.94h0M695.78 426.94h0M702.34 426.94h0M708.31 426.94h0M714.27 426.94h0M720.83 426.94h0M726.8 426.94h0M732.76 426.94h0M738.73 426.94h0M745.29 426.94h0M751.25 426.94h0M757.22 426.94h0M763.78 426.94h0M769.74 426.94h0M775.71 426.94h0M782.27 426.94h0M788.23 426.94h0M794.19 426.94h0M800.76 426.94h0M806.72 426.94h0M812.68 426.94h0M819.25 426.94h0M825.21 426.94h0M831.17 426.94h0M837.73 426.94h0M843.7 426.44h0M849.66 426.94h0M856.22 426.94h0M862.19 426.94h0M868.15 426.94h0M874.71 426.94h0M880.68 426.94h0M886.64 426.94h0M892.61 426.94h0M899.17 426.94h0M905.13 426.94h0M911.1 426.94h0M917.66 426.94h0M923.62 426.94h0M929.59 426.94h0M936.15 426.94h0M942.11 426.94h0M948.08 426.94h0M954.64 426.94h0M960.6 426.94h0M966.57 426.94h0M973.13 426.94h0M979.09 426.94h0M985.06 426.94h0M991.62 426.94h0M997.58 426.94h0M1003.55 426.94h0" stroke="#042438"/>
<path d="M214.45 447.91h0M221.02 447.91h0M226.98 447.91h0M232.94 447.91h0M239.51 447.91h0M245.47 447.91h0M251.43 447.91h0M257.99 447.91h0M263.96 447.91h0M269.92 447.91h0M276.48 447.91h0M282.45 447.91h0M288.41 447.91h0M294.97 447.91h0M300.94 447.91h0M306.9 447.91h0M312.87 447.91h0M319.43 447.91h0M325.39 447.91h0M331.36 447.91h0M337.92 447.91h0M343.88 447.91h0M349.85 447.91h0M356.41 447.91h0M362.37 447.91h0M368.34 447.91h0M374.9 447.91h0M380.86 447.91h0M386.83 447.91h0M393.39 447.91h0M399.35 447.91h0M405.32 447.91h0M411.88 447.91h0M417.84 447.91h0M423.81 447.91h0M430.37 447.91h0M437.52 447.91h0M443.49 447.91h0M450.05 447.91h0M456.01 447.91h0M461.98 447.91h0M474.5 447.91h0M480.47 447.91h0M487.03 447.91h0M492.99 447.91h0M498.96 447.91h0M504.92 447.91h0M511.48 447.91h0M517.45 447.91h0M523.41 447.91h0M529.97 447.91h0M535.94 447.91h0M541.9 447.91h0M548.46 447.91h0M554.43 447.91h0M560.39 447.91h0M566.95 447.91h0M572.92 447.91h0M578.88 447.91h0M585.44 447.91h0M591.4 447.91h0M597.37 447.91h0M603.33 447.91h0M609.89 447.91h0M615.86 447.91h0M621.82 447.91h0M628.38 447.91h0M634.35 447.91h0M640.31 447.91h0M646.87 447.91h0M652.84 447.91h0M658.8 447.91h0M665.36 447.91h0M671.33 447.91h0M677.29 447.91h0M683.85 447.91h0M689.82 447.91h0M695.78 447.91h0M702.34 447.91h0M708.31 447.91h0M714.27 447.91h0M720.83 447.91h0M726.8 447.91h0M732.76 447.91h0M738.73 447.91h0M745.29 447.91h0M751.25 447.91h0M757.22 447.91h0M763.78 447.91h0M769.74 447.91h0M775.71 447.91h0M782.27 447.91h0M788.23 447.91h0M794.19 447.91h0M800.76 447.91h0M806.72 447.91h0M812.68 447.91h0M819.25 447.91h0M825.21 447.91h0M831.17 447.91h0M837.73 447.91h0M843.7 447.91h0M849.66 447.91h0M856.22 447.91h0M862.19 447.91h0M868.15 447.91h0M874.71 447.91h0M880.68 447.91h0M886.64 447.91h0M892.61 447.91h0M899.17 447.91h0M905.13 447.91h0M911.1 447.91h0M917.66 447.91h0M923.62 447.91h0M929.59 447.91h0M936.15 447.91h0M942.11 447.91h0M948.08 447.91h0M954.64 447.91h0M960.6 447.91h0M966.57 447.91h0M973.13 447.91h0M979.09 447.91h0M985.06 447.91h0M991.62 447.91h0M997.58 447.91h0M1003.55 447.91h0" stroke="#042437"/>
<path d="M214.45 468.88h0M221.02 468.88h0M226.98 468.88h0M232.94 468.88h0M239.51 468.88h0M245.47 468.88h0M251.43 468.88h0M257.99 468.88h0M263.96 468.88h0M269.92 468.88h0M276.48 468.88h0M282.45 468.88h0M288.41 468.88h0M294.97 468.88h0M300.94 468.88h0M306.9 468.88h0M312.87 468.88h0M319.43 468.88h0M325.39 468.88h0M331.36 468.88h0M337.92 468.88h0M343.88 468.88h0M349.85 468.88h0M356.41 468.88h0M362.37 468.88h0M368.34 468.88h0M374.9 468.88h0M380.86 468.88h0M386.83 468.88h0M393.39 468.88h0M399.35 468.88h0M405.32 468.88h0M411.88 468.88h0M417.84 468.88h0M423.81 468.88h0M430.37 468.88h0M437.52 468.88h0M443.49 468.88h0M450.05 468.88h0M456.01 468.88h0M480.47 468.88h0M487.03 468.88h0M492.99 468.88h0M498.96 468.88h0M504.92 468.88h0M511.48 468.88h0M517.45 468.88h0M523.41 468.88h0M529.97 468.88h0M535.94 468.88h0M541.9 468.88h0M548.46 468.88h0M554.43 468.88h0M560.39 468.88h0M566.95 468.88h0M572.92 468.88h0M578.88 468.88h0M585.44 468.88h0M591.4 468.88h0M597.37 468.88h0M603.33 468.88h0M609.89 468.88h0M615.86 468.88h0M621.82 468.88h0M628.38 468.88h0M634.35 468.88h0M640.31 468.88h0M646.87 468.88h0M652.84 468.88h0M658.8 468.88h0M665.36 468.88h0M671.33 468.88h0M677.29 468.88h0M683.85 468.88h0M689.82 468.88h0M695.78 468.88h0M702.34 468.88h0M708.31 468.88h0M714.27 468.88h0M720.83 468.88h0M726.8 468.88h0M732.76 468.88h0M738.73 468.88h0M745.29 468.88h0M751.25 468.88h0M757.22 468.88h0M763.78 468.88h0M769.74 468.88h0M775.71 468.88h0M782.27 468.88h0M788.23 468.88h0M794.19 468.88h0M800.76 468.88h0M806.72 468.88h0M812.68 468.88h0M819.25 468.88h0M825.21 468.88h0M831.17 468.88h0M837.73 468.88h0M843.7 468.88h0M849.66 468.88h0M856.22 468.88h0M862.19 468.88h0M868.15 468.88h0M874.71 468.88h0M880.68 468.88h0M886.64 468.88h0M892.61 468.88h0M899.17 468.88h0M905.13 468.88h0M911.1 468.88h0M917.66 468.88h0M923.62 468.88h0M929.59 468.88h0M936.15 468.88h0M942.11 468.88h0M948.08 468.88h0M954.64 468.88h0M960.6 468.88h0M966.57 468.88h0M973.13 468.88h0M979.09 468.88h0M985.06 468.88h0M991.62 468.88h0M997.58 468.88h0M1003.55 468.88h0" stroke="#042436"/>
<path d="M214.45 489.85h0M221.02 489.85h0M226.98 489.85h0M232.94 489.85h0M239.51 489.85h0M245.47 489.85h0M251.43 489.85h0M257.99 489.85h0M263.96 489.85h0M269.92 489.85h0M276.48 489.85h0M282.45 489.85h0M288.41 489.85h0M294.97 489.85h0M300.94 489.85h0M306.9 489.85h0M312.87 489.85h0M319.43 489.85h0M325.39 489.85h0M331.36 489.85h0M337.92 489.85h0M343.88 489.85h0M349.85 489.85h0M356.41 489.85h0M362.37 489.85h0M368.34 489.85h0M374.9 489.85h0M380.86 489.85h0M386.83 489.85h0M393.39 489.85h0M399.35 489.85h0M405.32 489.85h0M411.88 489.85h0M417.84 489.85h0M423.81 489.85h0M430.37 489.85h0M437.52 489.85h0M443.49 489.85h0M480.47 489.85h0M492.99 489.85h0M498.96 489.85h0M504.92 489.85h0M511.48 489.85h0M517.45 489.85h0M523.41 489.85h0M529.97 489.85h0M535.94 489.85h0M541.9 489.85h0M548.46 489.85h0M554.43 489.85h0M560.39 489.85h0M566.95 489.85h0M572.92 489.85h0M578.88 489.85h0M585.44 489.85h0M591.4 489.85h0M597.37 489.85h0M603.33 489.85h0M609.89 489.85h0M615.86 489.85h0M621.82 489.85h0M628.38 489.85h0M634.35 489.85h0M640.31 489.85h0M646.87 489.85h0M652.84 489.85h0M658.8 489.85h0M665.36 489.85h0M671.33 489.85h0M677.29 489.85h0M683.85 489.85h0M689.82 489.85h0M695.78 489.85h0M702.34 489.85h0M708.31 489.85h0M714.27 489.85h0M720.83 489.85h0M726.8 489.85h0M732.76 489.85h0M738.73 489.85h0M745.29 489.85h0M751.25 489.85h0M757.22 489.85h0M763.78 489.85h0M769.74 489.85h0M775.71 489.85h0M782.27 489.85h0M788.23 489.85h0M794.19 489.85h0M800.76 489.85h0M806.72 489.85h0M812.68 489.85h0M819.25 489.85h0M825.21 489.85h0M831.17 489.85h0M837.73 489.85h0M843.7 489.85h0M849.66 489.85h0M856.22 489.85h0M862.19 489.85h0M868.15 489.85h0M874.71 489.85h0M880.68 489.85h0M886.64 489.85h0M892.61 489.85h0M899.17 489.85h0M905.13 489.85h0M911.1 489.85h0M917.66 489.85h0M923.62 489.85h0M929.59 489.85h0M936.15 489.85h0M942.11 489.85h0M948.08 489.85h0M954.64 489.85h0M960.6 489.85h0M966.57 489.85h0M973.13 489.85h0M979.09 489.85h0M985.06 489.85h0M991.62 489.85h0M997.58 489.85h0M1003.55 489.85h0" stroke="#032334"/>
</g>
<g stroke="#000" stroke-width="1.111" fill="none">
<rect x="175.5" y="72.5" width="868" height="438"/>
<path d="M175.5 91.5h-5M175.5 144.5h-5M175.5 197.5h-5M175.5 250.5h-5M175.5 303.5h-5M175.5 357.5h-5M175.5 410.5h-5M175.5 463.5h-5"/>
<path d="M267.5 510.5v5M375.5 510.5v5M485.5 510.5v5M593.5 510.5v5M702.5 510.5v5M811.5 510.5v5M921.5 510.5v5M1029.5 510.5v5"/>
</g>
<g font-size="13.889" text-anchor="end">
<text x="165.73" y="97">0</text>
<text x="163.71" y="150"><tspan dx="1.2">−</tspan><tspan dx="-1.2">250</tspan></text>
<text x="163.71" y="203"><tspan dx="1.2">−</tspan><tspan dx="-1.2">500</tspan></text>
<text x="163.71" y="256"><tspan dx="1.2">−</tspan><tspan dx="-1.2">750</tspan></text>
<text x="163.71" y="309"><tspan dx="1.2">−</tspan><tspan dx="-1.2">1000</tspan></text>
<text x="163.71" y="362"><tspan dx="1.2">−</tspan><tspan dx="-1.2">1250</tspan></text>
<text x="163.71" y="415"><tspan dx="1.2">−</tspan><tspan dx="-1.2">1500</tspan></text>
<text x="163.71" y="468"><tspan dx="1.2">−</tspan><tspan dx="-1.2">1750</tspan></text>
</g>
<filter id="bl" x="-10%" y="-10%" width="120%" height="120%"><feGaussianBlur stdDeviation=".25"/></filter>
<g font-size="8.333" stroke="#000" stroke-width=".08" filter="url(#bl)">
<text transform="translate(251.44 559.87) rotate(-45) scale(1 1.08)">2022/01/01</text>
<text transform="translate(359.22 559.87) rotate(-45) scale(1 1.08)">2022/07/01</text>
<text transform="translate(468.64 559.87) rotate(-45) scale(1 1.08)">2023/01/01</text>
<text transform="translate(576.61 559.87) rotate(-45) scale(1 1.08)">2023/07/01</text>
<text transform="translate(686.46 559.87) rotate(-45) scale(1 1.08)">2024/01/01</text>
<text transform="translate(795.41 559.87) rotate(-45) scale(1 1.08)">2024/07/01</text>
<text transform="translate(904.36 559.87) rotate(-45) scale(1 1.08)">2025/01/01</text>
<text transform="translate(1012.41 559.87) rotate(-45) scale(1 1.08)">2025/07/01</text>
</g>
<text transform="translate(609.15 579.5) scale(.96 1.07)" font-size="16.667" text-anchor="middle">Date</text>
<text transform="translate(108.6 292.41) rotate(-90)" font-size="13.889" text-anchor="middle">Depth (m)</text>
<text transform="translate(609.22 39.5) scale(1 1.07)" font-size="16.667" text-anchor="middle">ARGO float 4903622</text>
<text transform="translate(508.16 63.5) scale(1 1.07)" font-size="16.667"><tspan x="0 16.48 26.69 33.23 43.48 50.33 55.63 65.81 76.07 92.3 102.88 113.13 119.99 130.2 136.74 147.3 154.15 164.4 169.7" y="0">Water Temperature (</tspan><tspan x="176.36" dy="-6.38" font-size="11.667" font-style="oblique">o</tspan><tspan x="183.96" dy="6.38" font-style="oblique">C</tspan><tspan x="195.59">)</tspan></text>
<rect x="1097.5" y="72.5" width="22" height="438" fill="url(#cb)" stroke="#000" stroke-width="1.111"/>
<path d="M1119.5 498.5h5M1119.5 417.5h5M1119.5 337.5h5M1119.5 256.5h5M1119.5 176.5h5M1119.5 95.5h5" stroke="#000" stroke-width="1.111" fill="none"/>
<g font-size="13.889">
<text x="1128.91" y="503">5</text>
<text x="1128.29" y="423">10</text>
<text x="1128.55" y="342">15</text>
<text x="1129.02" y="262">20</text>
<text x="1128.96" y="181">25</text>
<text x="1127.98" y="100">30</text>
</g>
<text transform="translate(1164.05 305.58) rotate(-90)" font-size="13.889" y="0"><tspan x="0">(</tspan><tspan x="5.55" dy="-5.32" font-size="9.722" font-style="oblique">o</tspan><tspan x="11.88" dy="5.32" font-style="oblique">C</tspan><tspan x="21.58">)</tspan></text>
</svg></body></html>
